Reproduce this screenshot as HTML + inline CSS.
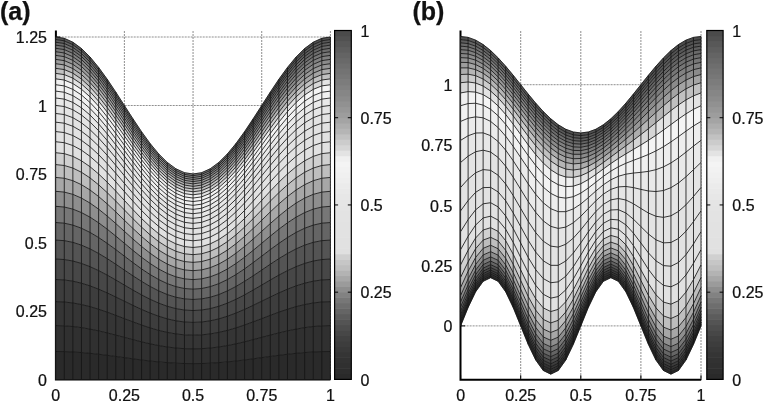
<!DOCTYPE html>
<html><head><meta charset="utf-8"><style>html,body{margin:0;padding:0;background:#fff;width:767px;height:403px;overflow:hidden}svg{display:block;will-change:transform}</style></head><body>
<svg width="767" height="403" viewBox="0 0 767 403">
<style>.g{stroke:#5e5e5e;stroke-width:0.7;stroke-dasharray:2 1;fill:none}.m{stroke:#151515;stroke-width:0.85;fill:none;stroke-linejoin:round}.ax{stroke:#000;stroke-width:2;fill:none}.tk{stroke:#000;stroke-width:1;fill:none}text{font-family:"Liberation Sans",sans-serif;font-size:16.5px;fill:#111;stroke:#111;stroke-width:0.25}.lbl{font-weight:bold;font-size:25px}</style>
<rect width="767" height="403" fill="#fff"/>
<path class="g" d="M124.38 31V379.5M193.05 31V379.5M261.72 31V379.5M330.4 31V379.5M55.7 311H330.2M55.7 242.5H330.2M55.7 174H330.2M55.7 105.5H330.2M55.7 37H330.2"/>
<path class="g" d="M520.7 31V379.7M580.8 31V379.7M640.9 31V379.7M701 31V379.7M460.6 325.9H701.2M460.6 265.6H701.2M460.6 205.3H701.2M460.6 145H701.2M460.6 84.7H701.2"/>
<path class="ax" d="M55.9 30.5V379.6H330.4"/>
<path class="ax" d="M460.5 30.5V379.8H701.2"/>
<path class="tk" d="M55.7 379.5h4.5M55.7 311h4.5M55.7 242.5h4.5M55.7 174h4.5M55.7 105.5h4.5M55.7 37h4.5M55.7 379.5v-4.5M124.38 379.5v-4.5M193.05 379.5v-4.5M261.72 379.5v-4.5M330.4 379.5v-4.5M460.6 325.9h4.5M460.6 265.6h4.5M460.6 205.3h4.5M460.6 145h4.5M460.6 84.7h4.5M460.6 379.7v-4.5M520.7 379.7v-4.5M580.8 379.7v-4.5M640.9 379.7v-4.5M701 379.7v-4.5"/>
<path d="M55.7 379.5L64.28 379.5L72.87 379.5L81.45 379.5L90.04 379.5L98.62 379.5L107.21 379.5L115.79 379.5L124.38 379.5L132.96 379.5L141.54 379.5L150.13 379.5L158.71 379.5L167.3 379.5L175.88 379.5L184.47 379.5L193.05 379.5L201.63 379.5L210.22 379.5L218.8 379.5L227.39 379.5L235.97 379.5L244.56 379.5L253.14 379.5L261.72 379.5L270.31 379.5L278.89 379.5L287.48 379.5L296.06 379.5L304.65 379.5L313.23 379.5L321.82 379.5L330.4 379.5L330.4 351.51L321.82 351.63L313.23 351.99L304.65 352.56L296.06 353.33L287.48 354.26L278.89 355.32L270.31 356.47L261.72 357.66L253.14 358.84L244.56 359.97L235.97 361.01L227.39 361.91L218.8 362.65L210.22 363.2L201.63 363.54L193.05 363.65L184.47 363.54L175.88 363.2L167.3 362.65L158.71 361.91L150.13 361.01L141.54 359.97L132.96 358.84L124.38 357.66L115.79 356.47L107.21 355.32L98.62 354.26L90.04 353.33L81.45 352.56L72.87 351.99L64.28 351.63L55.7 351.51Z" fill="#2a2a2a" stroke="#2a2a2a" stroke-width="0.4"/>
<path d="M55.7 351.51L64.28 351.63L72.87 351.99L81.45 352.56L90.04 353.33L98.62 354.26L107.21 355.32L115.79 356.47L124.38 357.66L132.96 358.84L141.54 359.97L150.13 361.01L158.71 361.91L167.3 362.65L175.88 363.2L184.47 363.54L193.05 363.65L201.63 363.54L210.22 363.2L218.8 362.65L227.39 361.91L235.97 361.01L244.56 359.97L253.14 358.84L261.72 357.66L270.31 356.47L278.89 355.32L287.48 354.26L296.06 353.33L304.65 352.56L313.23 351.99L321.82 351.63L330.4 351.51L330.4 325.63L321.82 325.85L313.23 326.53L304.65 327.63L296.06 329.1L287.48 330.89L278.89 332.93L270.31 335.13L261.72 337.4L253.14 339.67L244.56 341.84L235.97 343.83L227.39 345.57L218.8 346.99L210.22 348.04L201.63 348.68L193.05 348.9L184.47 348.68L175.88 348.04L167.3 346.99L158.71 345.57L150.13 343.83L141.54 341.84L132.96 339.67L124.38 337.4L115.79 335.13L107.21 332.93L98.62 330.89L90.04 329.1L81.45 327.63L72.87 326.53L64.28 325.85L55.7 325.63Z" fill="#303030" stroke="#303030" stroke-width="0.4"/>
<path d="M55.7 325.63L64.28 325.85L72.87 326.53L81.45 327.63L90.04 329.1L98.62 330.89L107.21 332.93L115.79 335.13L124.38 337.4L132.96 339.67L141.54 341.84L150.13 343.83L158.71 345.57L167.3 346.99L175.88 348.04L184.47 348.68L193.05 348.9L201.63 348.68L210.22 348.04L218.8 346.99L227.39 345.57L235.97 343.83L244.56 341.84L253.14 339.67L261.72 337.4L270.31 335.13L278.89 332.93L287.48 330.89L296.06 329.1L304.65 327.63L313.23 326.53L321.82 325.85L330.4 325.63L330.4 301.68L321.82 302.01L313.23 302.98L304.65 304.56L296.06 306.67L287.48 309.25L278.89 312.18L270.31 315.34L261.72 318.62L253.14 321.88L244.56 325.01L235.97 327.87L227.39 330.37L218.8 332.42L210.22 333.93L201.63 334.86L193.05 335.18L184.47 334.86L175.88 333.93L167.3 332.42L158.71 330.37L150.13 327.87L141.54 325.01L132.96 321.88L124.38 318.62L115.79 315.34L107.21 312.18L98.62 309.25L90.04 306.67L81.45 304.56L72.87 302.98L64.28 302.01L55.7 301.68Z" fill="#353535" stroke="#353535" stroke-width="0.4"/>
<path d="M55.7 301.68L64.28 302.01L72.87 302.98L81.45 304.56L90.04 306.67L98.62 309.25L107.21 312.18L115.79 315.34L124.38 318.62L132.96 321.88L141.54 325.01L150.13 327.87L158.71 330.37L167.3 332.42L175.88 333.93L184.47 334.86L193.05 335.18L201.63 334.86L210.22 333.93L218.8 332.42L227.39 330.37L235.97 327.87L244.56 325.01L253.14 321.88L261.72 318.62L270.31 315.34L278.89 312.18L287.48 309.25L296.06 306.67L304.65 304.56L313.23 302.98L321.82 302.01L330.4 301.68L330.4 279.53L321.82 279.95L313.23 281.19L304.65 283.21L296.06 285.91L287.48 289.21L278.89 292.95L270.31 297L261.72 301.2L253.14 305.37L244.56 309.37L235.97 313.04L227.39 316.25L218.8 318.87L210.22 320.81L201.63 322L193.05 322.4L184.47 322L175.88 320.81L167.3 318.87L158.71 316.25L150.13 313.04L141.54 309.37L132.96 305.37L124.38 301.2L115.79 297L107.21 292.95L98.62 289.21L90.04 285.91L81.45 283.21L72.87 281.19L64.28 279.95L55.7 279.53Z" fill="#3d3d3d" stroke="#3d3d3d" stroke-width="0.4"/>
<path d="M55.7 279.53L64.28 279.95L72.87 281.19L81.45 283.21L90.04 285.91L98.62 289.21L107.21 292.95L115.79 297L124.38 301.2L132.96 305.37L141.54 309.37L150.13 313.04L158.71 316.25L167.3 318.87L175.88 320.81L184.47 322L193.05 322.4L201.63 322L210.22 320.81L218.8 318.87L227.39 316.25L235.97 313.04L244.56 309.37L253.14 305.37L261.72 301.2L270.31 297L278.89 292.95L287.48 289.21L296.06 285.91L304.65 283.21L313.23 281.19L321.82 279.95L330.4 279.53L330.4 259.03L321.82 259.54L313.23 261.03L304.65 263.45L296.06 266.7L287.48 270.65L278.89 275.14L270.31 280L261.72 285.04L253.14 290.05L244.56 294.86L235.97 299.27L227.39 303.12L218.8 306.27L210.22 308.6L201.63 310.03L193.05 310.52L184.47 310.03L175.88 308.6L167.3 306.27L158.71 303.12L150.13 299.27L141.54 294.86L132.96 290.05L124.38 285.04L115.79 280L107.21 275.14L98.62 270.65L90.04 266.7L81.45 263.45L72.87 261.03L64.28 259.54L55.7 259.03Z" fill="#474747" stroke="#474747" stroke-width="0.4"/>
<path d="M55.7 259.03L64.28 259.54L72.87 261.03L81.45 263.45L90.04 266.7L98.62 270.65L107.21 275.14L115.79 280L124.38 285.04L132.96 290.05L141.54 294.86L150.13 299.27L158.71 303.12L167.3 306.27L175.88 308.6L184.47 310.03L193.05 310.52L201.63 310.03L210.22 308.6L218.8 306.27L227.39 303.12L235.97 299.27L244.56 294.86L253.14 290.05L261.72 285.04L270.31 280L278.89 275.14L287.48 270.65L296.06 266.7L304.65 263.45L313.23 261.03L321.82 259.54L330.4 259.03L330.4 240.08L321.82 240.66L313.23 242.38L304.65 245.16L296.06 248.91L287.48 253.46L278.89 258.64L270.31 264.24L261.72 270.05L253.14 275.84L244.56 281.38L235.97 286.47L227.39 290.91L218.8 294.55L210.22 297.24L201.63 298.9L193.05 299.46L184.47 298.9L175.88 297.24L167.3 294.55L158.71 290.91L150.13 286.47L141.54 281.38L132.96 275.84L124.38 270.05L115.79 264.24L107.21 258.64L98.62 253.46L90.04 248.91L81.45 245.16L72.87 242.38L64.28 240.66L55.7 240.08Z" fill="#545454" stroke="#545454" stroke-width="0.4"/>
<path d="M55.7 240.08L64.28 240.66L72.87 242.38L81.45 245.16L90.04 248.91L98.62 253.46L107.21 258.64L115.79 264.24L124.38 270.05L132.96 275.84L141.54 281.38L150.13 286.47L158.71 290.91L167.3 294.55L175.88 297.24L184.47 298.9L193.05 299.46L201.63 298.9L210.22 297.24L218.8 294.55L227.39 290.91L235.97 286.47L244.56 281.38L253.14 275.84L261.72 270.05L270.31 264.24L278.89 258.64L287.48 253.46L296.06 248.91L304.65 245.16L313.23 242.38L321.82 240.66L330.4 240.08L330.4 222.54L321.82 223.19L313.23 225.12L304.65 228.24L296.06 232.44L287.48 237.54L278.89 243.35L270.31 249.64L261.72 256.15L253.14 262.64L244.56 268.86L235.97 274.57L227.39 279.56L218.8 283.65L210.22 286.67L201.63 288.53L193.05 289.16L184.47 288.53L175.88 286.67L167.3 283.65L158.71 279.56L150.13 274.57L141.54 268.86L132.96 262.64L124.38 256.15L115.79 249.64L107.21 243.35L98.62 237.54L90.04 232.44L81.45 228.24L72.87 225.12L64.28 223.19L55.7 222.54Z" fill="#656565" stroke="#656565" stroke-width="0.4"/>
<path d="M55.7 222.54L64.28 223.19L72.87 225.12L81.45 228.24L90.04 232.44L98.62 237.54L107.21 243.35L115.79 249.64L124.38 256.15L132.96 262.64L141.54 268.86L150.13 274.57L158.71 279.56L167.3 283.65L175.88 286.67L184.47 288.53L193.05 289.16L201.63 288.53L210.22 286.67L218.8 283.65L227.39 279.56L235.97 274.57L244.56 268.86L253.14 262.64L261.72 256.15L270.31 249.64L278.89 243.35L287.48 237.54L296.06 232.44L304.65 228.24L313.23 225.12L321.82 223.19L330.4 222.54L330.4 206.32L321.82 207.04L313.23 209.15L304.65 212.58L296.06 217.2L287.48 222.8L278.89 229.19L270.31 236.1L261.72 243.26L253.14 250.4L244.56 257.24L235.97 263.53L227.39 269.02L218.8 273.51L210.22 276.84L201.63 278.89L193.05 279.58L184.47 278.89L175.88 276.84L167.3 273.51L158.71 269.02L150.13 263.53L141.54 257.24L132.96 250.4L124.38 243.26L115.79 236.1L107.21 229.19L98.62 222.8L90.04 217.2L81.45 212.58L72.87 209.15L64.28 207.04L55.7 206.32Z" fill="#777777" stroke="#777777" stroke-width="0.4"/>
<path d="M55.7 206.32L64.28 207.04L72.87 209.15L81.45 212.58L90.04 217.2L98.62 222.8L107.21 229.19L115.79 236.1L124.38 243.26L132.96 250.4L141.54 257.24L150.13 263.53L158.71 269.02L167.3 273.51L175.88 276.84L184.47 278.89L193.05 279.58L201.63 278.89L210.22 276.84L218.8 273.51L227.39 269.02L235.97 263.53L244.56 257.24L253.14 250.4L261.72 243.26L270.31 236.1L278.89 229.19L287.48 222.8L296.06 217.2L304.65 212.58L313.23 209.15L321.82 207.04L330.4 206.32L330.4 191.32L321.82 192.09L313.23 194.38L304.65 198.09L296.06 203.08L287.48 209.16L278.89 216.07L270.31 223.55L261.72 231.3L253.14 239.04L244.56 246.45L235.97 253.26L227.39 259.21L218.8 264.09L210.22 267.7L201.63 269.92L193.05 270.67L184.47 269.92L175.88 267.7L167.3 264.09L158.71 259.21L150.13 253.26L141.54 246.45L132.96 239.04L124.38 231.3L115.79 223.55L107.21 216.07L98.62 209.16L90.04 203.08L81.45 198.09L72.87 194.38L64.28 192.09L55.7 191.32Z" fill="#8e8e8e" stroke="#8e8e8e" stroke-width="0.4"/>
<path d="M55.7 191.32L64.28 192.09L72.87 194.38L81.45 198.09L90.04 203.08L98.62 209.16L107.21 216.07L115.79 223.55L124.38 231.3L132.96 239.04L141.54 246.45L150.13 253.26L158.71 259.21L167.3 264.09L175.88 267.7L184.47 269.92L193.05 270.67L201.63 269.92L210.22 267.7L218.8 264.09L227.39 259.21L235.97 253.26L244.56 246.45L253.14 239.04L261.72 231.3L270.31 223.55L278.89 216.07L287.48 209.16L296.06 203.08L304.65 198.09L313.23 194.38L321.82 192.09L330.4 191.32L330.4 177.44L321.82 178.26L313.23 180.71L304.65 184.68L296.06 190.02L287.48 196.52L278.89 203.91L270.31 211.91L261.72 220.22L253.14 228.49L244.56 236.43L235.97 243.72L227.39 250.1L218.8 255.32L210.22 259.19L201.63 261.57L193.05 262.37L184.47 261.57L175.88 259.19L167.3 255.32L158.71 250.1L150.13 243.72L141.54 236.43L132.96 228.49L124.38 220.22L115.79 211.91L107.21 203.91L98.62 196.52L90.04 190.02L81.45 184.68L72.87 180.71L64.28 178.26L55.7 177.44Z" fill="#a7a7a7" stroke="#a7a7a7" stroke-width="0.4"/>
<path d="M55.7 177.44L64.28 178.26L72.87 180.71L81.45 184.68L90.04 190.02L98.62 196.52L107.21 203.91L115.79 211.91L124.38 220.22L132.96 228.49L141.54 236.43L150.13 243.72L158.71 250.1L167.3 255.32L175.88 259.19L184.47 261.57L193.05 262.37L201.63 261.57L210.22 259.19L218.8 255.32L227.39 250.1L235.97 243.72L244.56 236.43L253.14 228.49L261.72 220.22L270.31 211.91L278.89 203.91L287.48 196.52L296.06 190.02L304.65 184.68L313.23 180.71L321.82 178.26L330.4 177.44L330.4 164.6L321.82 165.47L313.23 168.07L304.65 172.27L296.06 177.93L287.48 184.81L278.89 192.65L270.31 201.13L261.72 209.93L253.14 218.71L244.56 227.13L235.97 234.86L227.39 241.63L218.8 247.17L210.22 251.27L201.63 253.8L193.05 254.65L184.47 253.8L175.88 251.27L167.3 247.17L158.71 241.63L150.13 234.86L141.54 227.13L132.96 218.71L124.38 209.93L115.79 201.13L107.21 192.65L98.62 184.81L90.04 177.93L81.45 172.27L72.87 168.07L64.28 165.47L55.7 164.6Z" fill="#bebebe" stroke="#bebebe" stroke-width="0.4"/>
<path d="M55.7 164.6L64.28 165.47L72.87 168.07L81.45 172.27L90.04 177.93L98.62 184.81L107.21 192.65L115.79 201.13L124.38 209.93L132.96 218.71L141.54 227.13L150.13 234.86L158.71 241.63L167.3 247.17L175.88 251.27L184.47 253.8L193.05 254.65L201.63 253.8L210.22 251.27L218.8 247.17L227.39 241.63L235.97 234.86L244.56 227.13L253.14 218.71L261.72 209.93L270.31 201.13L278.89 192.65L287.48 184.81L296.06 177.93L304.65 172.27L313.23 168.07L321.82 165.47L330.4 164.6L330.4 152.72L321.82 153.64L313.23 156.37L304.65 160.79L296.06 166.74L287.48 173.97L278.89 182.21L270.31 191.13L261.72 200.39L253.14 209.63L244.56 218.49L235.97 226.63L227.39 233.75L218.8 239.59L210.22 243.91L201.63 246.57L193.05 247.47L184.47 246.57L175.88 243.91L167.3 239.59L158.71 233.75L150.13 226.63L141.54 218.49L132.96 209.63L124.38 200.39L115.79 191.13L107.21 182.21L98.62 173.97L90.04 166.74L81.45 160.79L72.87 156.37L64.28 153.64L55.7 152.72Z" fill="#d0d0d0" stroke="#d0d0d0" stroke-width="0.4"/>
<path d="M55.7 152.72L64.28 153.64L72.87 156.37L81.45 160.79L90.04 166.74L98.62 173.97L107.21 182.21L115.79 191.13L124.38 200.39L132.96 209.63L141.54 218.49L150.13 226.63L158.71 233.75L167.3 239.59L175.88 243.91L184.47 246.57L193.05 247.47L201.63 246.57L210.22 243.91L218.8 239.59L227.39 233.75L235.97 226.63L244.56 218.49L253.14 209.63L261.72 200.39L270.31 191.13L278.89 182.21L287.48 173.97L296.06 166.74L304.65 160.79L313.23 156.37L321.82 153.64L330.4 152.72L330.4 141.73L321.82 142.7L313.23 145.54L304.65 150.16L296.06 156.38L287.48 163.93L278.89 172.54L270.31 181.87L261.72 191.55L253.14 201.2L244.56 210.47L235.97 218.98L227.39 226.43L218.8 232.53L210.22 237.06L201.63 239.84L193.05 240.78L184.47 239.84L175.88 237.06L167.3 232.53L158.71 226.43L150.13 218.98L141.54 210.47L132.96 201.2L124.38 191.55L115.79 181.87L107.21 172.54L98.62 163.93L90.04 156.38L81.45 150.16L72.87 145.54L64.28 142.7L55.7 141.73Z" fill="#e1e1e1" stroke="#e1e1e1" stroke-width="0.4"/>
<path d="M55.7 141.73L64.28 142.7L64.28 132.57L55.7 131.57Z" fill="#e2e2e2" stroke="#e2e2e2" stroke-width="0.4"/>
<path d="M64.28 142.7L72.87 145.54L81.45 150.16L90.04 156.38L98.62 163.93L107.21 172.54L115.79 181.87L124.38 191.55L132.96 201.2L141.54 210.47L150.13 218.98L158.71 226.43L167.3 232.53L175.88 237.06L184.47 239.84L193.05 240.78L201.63 239.84L210.22 237.06L218.8 232.53L227.39 226.43L235.97 218.98L244.56 210.47L244.56 203.02L235.97 211.88L227.39 219.63L218.8 225.98L210.22 230.69L201.63 233.58L193.05 234.56L184.47 233.58L175.88 230.69L167.3 225.98L158.71 219.63L150.13 211.88L141.54 203.02L132.96 193.38L124.38 183.34L115.79 173.28L107.21 163.59L98.62 154.64L90.04 146.78L81.45 140.33L72.87 135.53L64.28 132.57Z" fill="#e1e1e1" stroke="#e1e1e1" stroke-width="0.4"/>
<path d="M244.56 210.47L253.14 201.2L261.72 191.55L270.31 181.87L278.89 172.54L287.48 163.93L296.06 156.38L304.65 150.16L313.23 145.54L321.82 142.7L330.4 141.73L330.4 131.57L321.82 132.57L313.23 135.53L304.65 140.33L296.06 146.78L287.48 154.64L278.89 163.59L270.31 173.28L261.72 183.34L253.14 193.38L244.56 203.02Z" fill="#e2e2e2" stroke="#e2e2e2" stroke-width="0.4"/>
<path d="M55.7 131.57L64.28 132.57L64.28 123.2L55.7 122.17Z" fill="#e2e2e2" stroke="#e2e2e2" stroke-width="0.4"/>
<path d="M64.28 132.57L72.87 135.53L81.45 140.33L90.04 146.78L98.62 154.64L107.21 163.59L115.79 173.28L124.38 183.34L132.96 193.38L141.54 203.02L150.13 211.88L158.71 219.63L167.3 225.98L175.88 230.69L184.47 233.58L193.05 234.56L201.63 233.58L210.22 230.69L218.8 225.98L227.39 219.63L235.97 211.88L244.56 203.02L244.56 196.1L235.97 205.28L227.39 213.3L218.8 219.88L210.22 224.76L201.63 227.76L193.05 228.77L184.47 227.76L175.88 224.76L167.3 219.88L158.71 213.3L150.13 205.28L141.54 196.1L132.96 186.13L124.38 175.73L115.79 165.32L107.21 155.29L98.62 146.03L90.04 137.9L81.45 131.23L72.87 126.26L64.28 123.2Z" fill="#e2e2e2" stroke="#e2e2e2" stroke-width="0.4"/>
<path d="M244.56 203.02L253.14 193.38L261.72 183.34L270.31 173.28L278.89 163.59L287.48 154.64L296.06 146.78L304.65 140.33L313.23 135.53L321.82 132.57L330.4 131.57L330.4 122.17L321.82 123.2L313.23 126.26L304.65 131.23L296.06 137.9L287.48 146.03L278.89 155.29L270.31 165.32L261.72 175.73L253.14 186.13L244.56 196.1Z" fill="#e2e2e2" stroke="#e2e2e2" stroke-width="0.4"/>
<path d="M55.7 122.17L64.28 123.2L64.28 114.54L55.7 113.47Z" fill="#e3e3e3" stroke="#e3e3e3" stroke-width="0.4"/>
<path d="M64.28 123.2L72.87 126.26L81.45 131.23L90.04 137.9L98.62 146.03L107.21 155.29L115.79 165.32L124.38 175.73L132.96 186.13L141.54 196.1L150.13 205.28L158.71 213.3L167.3 219.88L175.88 224.76L184.47 227.76L193.05 228.77L201.63 227.76L210.22 224.76L218.8 219.88L227.39 213.3L235.97 205.28L244.56 196.1L244.56 189.68L235.97 199.14L227.39 207.42L218.8 214.21L210.22 219.24L201.63 222.34L193.05 223.39L184.47 222.34L175.88 219.24L167.3 214.21L158.71 207.42L150.13 199.14L141.54 189.68L132.96 179.39L124.38 168.68L115.79 157.94L107.21 147.6L98.62 138.06L90.04 129.69L81.45 122.81L72.87 117.69L64.28 114.54Z" fill="#e3e3e3" stroke="#e3e3e3" stroke-width="0.4"/>
<path d="M244.56 196.1L253.14 186.13L261.72 175.73L270.31 165.32L278.89 155.29L287.48 146.03L296.06 137.9L304.65 131.23L313.23 126.26L321.82 123.2L330.4 122.17L330.4 113.47L321.82 114.54L313.23 117.69L304.65 122.81L296.06 129.69L287.48 138.06L278.89 147.6L270.31 157.94L261.72 168.68L253.14 179.39L244.56 189.68Z" fill="#e3e3e3" stroke="#e3e3e3" stroke-width="0.4"/>
<path d="M55.7 113.47L64.28 114.54L64.28 106.52L55.7 105.43Z" fill="#e5e5e5" stroke="#e5e5e5" stroke-width="0.4"/>
<path d="M64.28 114.54L72.87 117.69L81.45 122.81L90.04 129.69L98.62 138.06L107.21 147.6L115.79 157.94L124.38 168.68L132.96 179.39L141.54 189.68L150.13 199.14L158.71 207.42L167.3 214.21L175.88 219.24L184.47 222.34L193.05 223.39L201.63 222.34L210.22 219.24L218.8 214.21L227.39 207.42L235.97 199.14L244.56 189.68L244.56 183.72L235.97 193.44L227.39 201.96L218.8 208.93L210.22 214.11L201.63 217.3L193.05 218.37L184.47 217.3L175.88 214.11L167.3 208.93L158.71 201.96L150.13 193.44L141.54 183.72L132.96 173.15L124.38 162.13L115.79 151.1L107.21 140.48L98.62 130.68L90.04 122.08L81.45 115.01L72.87 109.76L64.28 106.52Z" fill="#e4e4e4" stroke="#e4e4e4" stroke-width="0.4"/>
<path d="M244.56 189.68L253.14 179.39L261.72 168.68L270.31 157.94L278.89 147.6L287.48 138.06L296.06 129.69L304.65 122.81L313.23 117.69L321.82 114.54L330.4 113.47L330.4 105.43L321.82 106.52L313.23 109.76L304.65 115.01L296.06 122.08L287.48 130.68L278.89 140.48L270.31 151.1L261.72 162.13L253.14 173.15L244.56 183.72Z" fill="#e5e5e5" stroke="#e5e5e5" stroke-width="0.4"/>
<path d="M55.7 105.43L64.28 106.52L64.28 99.11L55.7 97.99Z" fill="#e9e9e9" stroke="#e9e9e9" stroke-width="0.4"/>
<path d="M64.28 106.52L72.87 109.76L81.45 115.01L90.04 122.08L98.62 130.68L107.21 140.48L115.79 151.1L124.38 162.13L132.96 173.15L141.54 183.72L150.13 193.44L150.13 188.15L141.54 178.18L132.96 167.35L124.38 156.06L115.79 144.76L107.21 133.88L98.62 123.84L90.04 115.03L81.45 107.8L72.87 102.42L64.28 99.11Z" fill="#e7e7e7" stroke="#e7e7e7" stroke-width="0.4"/>
<path d="M150.13 193.44L158.71 201.96L167.3 208.93L175.88 214.11L184.47 217.3L193.05 218.37L193.05 213.71L184.47 212.6L175.88 209.34L167.3 204.03L158.71 196.88L150.13 188.15Z" fill="#e5e5e5" stroke="#e5e5e5" stroke-width="0.4"/>
<path d="M193.05 218.37L201.63 217.3L210.22 214.11L218.8 208.93L227.39 201.96L235.97 193.44L244.56 183.72L244.56 178.18L235.97 188.15L227.39 196.88L218.8 204.03L210.22 209.34L201.63 212.6L193.05 213.71Z" fill="#e7e7e7" stroke="#e7e7e7" stroke-width="0.4"/>
<path d="M244.56 183.72L253.14 173.15L261.72 162.13L270.31 151.1L278.89 140.48L287.48 130.68L296.06 122.08L304.65 115.01L313.23 109.76L321.82 106.52L330.4 105.43L330.4 97.99L321.82 99.11L313.23 102.42L304.65 107.8L296.06 115.03L287.48 123.84L278.89 133.88L270.31 144.76L261.72 156.06L253.14 167.35L244.56 178.18Z" fill="#e9e9e9" stroke="#e9e9e9" stroke-width="0.4"/>
<path d="M55.7 97.99L64.28 99.11L64.28 92.25L55.7 91.1Z" fill="#eeeeee" stroke="#eeeeee" stroke-width="0.4"/>
<path d="M64.28 99.11L72.87 102.42L81.45 107.8L90.04 115.03L98.62 123.84L107.21 133.88L115.79 144.76L124.38 156.06L124.38 150.43L115.79 138.89L107.21 127.77L98.62 117.51L90.04 108.51L81.45 101.12L72.87 95.63L64.28 92.25Z" fill="#ebebeb" stroke="#ebebeb" stroke-width="0.4"/>
<path d="M124.38 156.06L132.96 167.35L141.54 178.18L150.13 188.15L158.71 196.88L167.3 204.03L175.88 209.34L184.47 212.6L193.05 213.71L201.63 212.6L210.22 209.34L210.22 204.89L201.63 208.24L193.05 209.36L184.47 208.24L175.88 204.89L167.3 199.47L158.71 192.15L150.13 183.23L141.54 173.04L132.96 161.97L124.38 150.43Z" fill="#e9e9e9" stroke="#e9e9e9" stroke-width="0.4"/>
<path d="M210.22 209.34L218.8 204.03L227.39 196.88L235.97 188.15L244.56 178.18L244.56 173.04L235.97 183.23L227.39 192.15L218.8 199.47L210.22 204.89Z" fill="#ebebeb" stroke="#ebebeb" stroke-width="0.4"/>
<path d="M244.56 178.18L253.14 167.35L261.72 156.06L270.31 144.76L278.89 133.88L287.48 123.84L287.48 117.51L278.89 127.77L270.31 138.89L261.72 150.43L253.14 161.97L244.56 173.04Z" fill="#eeeeee" stroke="#eeeeee" stroke-width="0.4"/>
<path d="M287.48 123.84L296.06 115.03L304.65 107.8L313.23 102.42L321.82 99.11L330.4 97.99L330.4 91.1L321.82 92.25L313.23 95.63L304.65 101.12L296.06 108.51L287.48 117.51Z" fill="#f0f0f0" stroke="#f0f0f0" stroke-width="0.4"/>
<path d="M55.7 91.1L64.28 92.25L64.28 85.9L55.7 84.73Z" fill="#f2f2f2" stroke="#f2f2f2" stroke-width="0.4"/>
<path d="M64.28 92.25L72.87 95.63L81.45 101.12L90.04 108.51L98.62 117.51L107.21 127.77L115.79 138.89L115.79 133.44L107.21 122.11L98.62 111.65L90.04 102.48L81.45 94.95L72.87 89.35L64.28 85.9Z" fill="#f0f0f0" stroke="#f0f0f0" stroke-width="0.4"/>
<path d="M115.79 138.89L124.38 150.43L132.96 161.97L141.54 173.04L150.13 183.23L158.71 192.15L167.3 199.47L167.3 195.22L158.71 187.76L150.13 178.66L141.54 168.26L132.96 156.97L124.38 145.21L115.79 133.44Z" fill="#eeeeee" stroke="#eeeeee" stroke-width="0.4"/>
<path d="M167.3 199.47L175.88 204.89L184.47 208.24L184.47 204.17L175.88 200.76L167.3 195.22Z" fill="#ebebeb" stroke="#ebebeb" stroke-width="0.4"/>
<path d="M184.47 208.24L193.05 209.36L201.63 208.24L210.22 204.89L218.8 199.47L218.8 195.22L210.22 200.76L201.63 204.17L193.05 205.32L184.47 204.17Z" fill="#eeeeee" stroke="#eeeeee" stroke-width="0.4"/>
<path d="M218.8 199.47L227.39 192.15L235.97 183.23L244.56 173.04L244.56 168.26L235.97 178.66L227.39 187.76L218.8 195.22Z" fill="#f0f0f0" stroke="#f0f0f0" stroke-width="0.4"/>
<path d="M244.56 173.04L253.14 161.97L261.72 150.43L270.31 138.89L270.31 133.44L261.72 145.21L253.14 156.97L244.56 168.26Z" fill="#f2f2f2" stroke="#f2f2f2" stroke-width="0.4"/>
<path d="M270.31 138.89L278.89 127.77L287.48 117.51L296.06 108.51L304.65 101.12L313.23 95.63L321.82 92.25L330.4 91.1L330.4 84.73L321.82 85.9L313.23 89.35L304.65 94.95L296.06 102.48L287.48 111.65L278.89 122.11L270.31 133.44Z" fill="#f4f4f4" stroke="#f4f4f4" stroke-width="0.4"/>
<path d="M55.7 84.73L64.28 85.9L64.28 80.03L55.7 78.84Z" fill="#f0f0f0" stroke="#f0f0f0" stroke-width="0.4"/>
<path d="M64.28 85.9L72.87 89.35L81.45 94.95L90.04 102.48L98.62 111.65L98.62 106.22L90.04 96.89L81.45 89.23L72.87 83.54L64.28 80.03Z" fill="#f4f4f4" stroke="#f4f4f4" stroke-width="0.4"/>
<path d="M98.62 111.65L107.21 122.11L115.79 133.44L124.38 145.21L132.96 156.97L132.96 152.34L124.38 140.37L115.79 128.39L107.21 116.86L98.62 106.22Z" fill="#f2f2f2" stroke="#f2f2f2" stroke-width="0.4"/>
<path d="M132.96 156.97L141.54 168.26L150.13 178.66L158.71 187.76L167.3 195.22L175.88 200.76L184.47 204.17L193.05 205.32L201.63 204.17L210.22 200.76L210.22 196.92L201.63 200.39L193.05 201.56L184.47 200.39L175.88 196.92L167.3 191.28L158.71 183.68L150.13 174.41L141.54 163.83L132.96 152.34Z" fill="#f0f0f0" stroke="#f0f0f0" stroke-width="0.4"/>
<path d="M210.22 200.76L218.8 195.22L227.39 187.76L227.39 183.68L218.8 191.28L210.22 196.92Z" fill="#f2f2f2" stroke="#f2f2f2" stroke-width="0.4"/>
<path d="M227.39 187.76L235.97 178.66L244.56 168.26L244.56 163.83L235.97 174.41L227.39 183.68Z" fill="#f4f4f4" stroke="#f4f4f4" stroke-width="0.4"/>
<path d="M244.56 168.26L253.14 156.97L261.72 145.21L270.31 133.44L270.31 128.39L261.72 140.37L253.14 152.34L244.56 163.83Z" fill="#f0f0f0" stroke="#f0f0f0" stroke-width="0.4"/>
<path d="M270.31 133.44L278.89 122.11L287.48 111.65L296.06 102.48L296.06 96.89L287.48 106.22L278.89 116.86L270.31 128.39Z" fill="#e3e3e3" stroke="#e3e3e3" stroke-width="0.4"/>
<path d="M296.06 102.48L304.65 94.95L313.23 89.35L321.82 85.9L321.82 80.03L313.23 83.54L304.65 89.23L296.06 96.89Z" fill="#d6d6d6" stroke="#d6d6d6" stroke-width="0.4"/>
<path d="M321.82 85.9L330.4 84.73L330.4 78.84L321.82 80.03Z" fill="#e3e3e3" stroke="#e3e3e3" stroke-width="0.4"/>
<path d="M55.7 78.84L64.28 80.03L64.28 74.6L55.7 73.39Z" fill="#d6d6d6" stroke="#d6d6d6" stroke-width="0.4"/>
<path d="M64.28 80.03L72.87 83.54L81.45 89.23L90.04 96.89L98.62 106.22L98.62 101.2L90.04 91.72L81.45 83.94L72.87 78.16L64.28 74.6Z" fill="#e3e3e3" stroke="#e3e3e3" stroke-width="0.4"/>
<path d="M98.62 106.22L107.21 116.86L115.79 128.39L124.38 140.37L124.38 135.88L115.79 123.71L107.21 112L98.62 101.2Z" fill="#f0f0f0" stroke="#f0f0f0" stroke-width="0.4"/>
<path d="M124.38 140.37L132.96 152.34L141.54 163.83L150.13 174.41L158.71 183.68L158.71 179.89L150.13 170.47L141.54 159.72L132.96 148.04L124.38 135.88Z" fill="#f4f4f4" stroke="#f4f4f4" stroke-width="0.4"/>
<path d="M158.71 183.68L167.3 191.28L175.88 196.92L184.47 200.39L184.47 196.87L175.88 193.34L167.3 187.61L158.71 179.89Z" fill="#f2f2f2" stroke="#f2f2f2" stroke-width="0.4"/>
<path d="M184.47 200.39L193.05 201.56L201.63 200.39L210.22 196.92L218.8 191.28L218.8 187.61L210.22 193.34L201.63 196.87L193.05 198.06L184.47 196.87Z" fill="#f4f4f4" stroke="#f4f4f4" stroke-width="0.4"/>
<path d="M218.8 191.28L227.39 183.68L235.97 174.41L235.97 170.47L227.39 179.89L218.8 187.61Z" fill="#f0f0f0" stroke="#f0f0f0" stroke-width="0.4"/>
<path d="M235.97 174.41L244.56 163.83L244.56 159.72L235.97 170.47Z" fill="#e3e3e3" stroke="#e3e3e3" stroke-width="0.4"/>
<path d="M244.56 163.83L253.14 152.34L261.72 140.37L261.72 135.88L253.14 148.04L244.56 159.72Z" fill="#d6d6d6" stroke="#d6d6d6" stroke-width="0.4"/>
<path d="M261.72 140.37L270.31 128.39L278.89 116.86L278.89 112L270.31 123.71L261.72 135.88Z" fill="#cccccc" stroke="#cccccc" stroke-width="0.4"/>
<path d="M278.89 116.86L287.48 106.22L296.06 96.89L304.65 89.23L313.23 83.54L321.82 80.03L330.4 78.84L330.4 73.39L321.82 74.6L313.23 78.16L304.65 83.94L296.06 91.72L287.48 101.2L278.89 112Z" fill="#c1c1c1" stroke="#c1c1c1" stroke-width="0.4"/>
<path d="M55.7 73.39L64.28 74.6L64.28 69.57L55.7 68.35Z" fill="#c1c1c1" stroke="#c1c1c1" stroke-width="0.4"/>
<path d="M64.28 74.6L72.87 78.16L81.45 83.94L90.04 91.72L90.04 86.93L81.45 79.05L72.87 73.18L64.28 69.57Z" fill="#cccccc" stroke="#cccccc" stroke-width="0.4"/>
<path d="M90.04 91.72L98.62 101.2L107.21 112L115.79 123.71L115.79 119.37L107.21 107.49L98.62 96.54L90.04 86.93Z" fill="#d6d6d6" stroke="#d6d6d6" stroke-width="0.4"/>
<path d="M115.79 123.71L124.38 135.88L132.96 148.04L141.54 159.72L141.54 155.89L132.96 144.05L124.38 131.71L115.79 119.37Z" fill="#e3e3e3" stroke="#e3e3e3" stroke-width="0.4"/>
<path d="M141.54 159.72L150.13 170.47L158.71 179.89L167.3 187.61L175.88 193.34L184.47 196.87L193.05 198.06L201.63 196.87L201.63 193.6L193.05 194.81L184.47 193.6L175.88 190.02L167.3 184.2L158.71 176.36L150.13 166.8L141.54 155.89Z" fill="#f0f0f0" stroke="#f0f0f0" stroke-width="0.4"/>
<path d="M201.63 196.87L210.22 193.34L218.8 187.61L218.8 184.2L210.22 190.02L201.63 193.6Z" fill="#e3e3e3" stroke="#e3e3e3" stroke-width="0.4"/>
<path d="M218.8 187.61L227.39 179.89L235.97 170.47L235.97 166.8L227.39 176.36L218.8 184.2Z" fill="#d6d6d6" stroke="#d6d6d6" stroke-width="0.4"/>
<path d="M235.97 170.47L244.56 159.72L244.56 155.89L235.97 166.8Z" fill="#cccccc" stroke="#cccccc" stroke-width="0.4"/>
<path d="M244.56 159.72L253.14 148.04L261.72 135.88L261.72 131.71L253.14 144.05L244.56 155.89Z" fill="#c1c1c1" stroke="#c1c1c1" stroke-width="0.4"/>
<path d="M261.72 135.88L270.31 123.71L278.89 112L278.89 107.49L270.31 119.37L261.72 131.71Z" fill="#b5b5b5" stroke="#b5b5b5" stroke-width="0.4"/>
<path d="M278.89 112L287.48 101.2L296.06 91.72L304.65 83.94L304.65 79.05L296.06 86.93L287.48 96.54L278.89 107.49Z" fill="#adadad" stroke="#adadad" stroke-width="0.4"/>
<path d="M304.65 83.94L313.23 78.16L321.82 74.6L321.82 69.57L313.23 73.18L304.65 79.05Z" fill="#a4a4a4" stroke="#a4a4a4" stroke-width="0.4"/>
<path d="M321.82 74.6L330.4 73.39L330.4 68.35L321.82 69.57Z" fill="#adadad" stroke="#adadad" stroke-width="0.4"/>
<path d="M55.7 68.35L64.28 69.57L64.28 64.93L55.7 63.69Z" fill="#adadad" stroke="#adadad" stroke-width="0.4"/>
<path d="M64.28 69.57L72.87 73.18L81.45 79.05L90.04 86.93L90.04 82.5L81.45 74.52L72.87 68.58L64.28 64.93Z" fill="#b5b5b5" stroke="#b5b5b5" stroke-width="0.4"/>
<path d="M90.04 86.93L98.62 96.54L107.21 107.49L107.21 103.32L98.62 92.23L90.04 82.5Z" fill="#c1c1c1" stroke="#c1c1c1" stroke-width="0.4"/>
<path d="M107.21 107.49L115.79 119.37L124.38 131.71L124.38 127.85L115.79 115.35L107.21 103.32Z" fill="#cccccc" stroke="#cccccc" stroke-width="0.4"/>
<path d="M124.38 131.71L132.96 144.05L141.54 155.89L150.13 166.8L150.13 163.4L141.54 152.35L132.96 140.34L124.38 127.85Z" fill="#d6d6d6" stroke="#d6d6d6" stroke-width="0.4"/>
<path d="M150.13 166.8L158.71 176.36L167.3 184.2L175.88 190.02L184.47 193.6L193.05 194.81L193.05 191.78L184.47 190.55L175.88 186.92L167.3 181.02L158.71 173.08L150.13 163.4Z" fill="#e3e3e3" stroke="#e3e3e3" stroke-width="0.4"/>
<path d="M193.05 194.81L201.63 193.6L210.22 190.02L210.22 186.92L201.63 190.55L193.05 191.78Z" fill="#d6d6d6" stroke="#d6d6d6" stroke-width="0.4"/>
<path d="M210.22 190.02L218.8 184.2L227.39 176.36L227.39 173.08L218.8 181.02L210.22 186.92Z" fill="#cccccc" stroke="#cccccc" stroke-width="0.4"/>
<path d="M227.39 176.36L235.97 166.8L235.97 163.4L227.39 173.08Z" fill="#c1c1c1" stroke="#c1c1c1" stroke-width="0.4"/>
<path d="M235.97 166.8L244.56 155.89L244.56 152.35L235.97 163.4Z" fill="#b5b5b5" stroke="#b5b5b5" stroke-width="0.4"/>
<path d="M244.56 155.89L253.14 144.05L261.72 131.71L261.72 127.85L253.14 140.34L244.56 152.35Z" fill="#adadad" stroke="#adadad" stroke-width="0.4"/>
<path d="M261.72 131.71L270.31 119.37L270.31 115.35L261.72 127.85Z" fill="#a4a4a4" stroke="#a4a4a4" stroke-width="0.4"/>
<path d="M270.31 119.37L278.89 107.49L287.48 96.54L287.48 92.23L278.89 103.32L270.31 115.35Z" fill="#9d9d9d" stroke="#9d9d9d" stroke-width="0.4"/>
<path d="M287.48 96.54L296.06 86.93L304.65 79.05L313.23 73.18L321.82 69.57L330.4 68.35L330.4 63.69L321.82 64.93L313.23 68.58L304.65 74.52L296.06 82.5L287.48 92.23Z" fill="#979797" stroke="#979797" stroke-width="0.4"/>
<path d="M55.7 63.69L64.28 64.93L64.28 60.63L55.7 59.38Z" fill="#9d9d9d" stroke="#9d9d9d" stroke-width="0.4"/>
<path d="M64.28 64.93L72.87 68.58L81.45 74.52L81.45 70.33L72.87 64.32L64.28 60.63Z" fill="#a4a4a4" stroke="#a4a4a4" stroke-width="0.4"/>
<path d="M81.45 74.52L90.04 82.5L98.62 92.23L98.62 88.24L90.04 78.4L81.45 70.33Z" fill="#adadad" stroke="#adadad" stroke-width="0.4"/>
<path d="M98.62 92.23L107.21 103.32L115.79 115.35L124.38 127.85L124.38 124.27L115.79 111.62L107.21 99.46L98.62 88.24Z" fill="#b5b5b5" stroke="#b5b5b5" stroke-width="0.4"/>
<path d="M124.38 127.85L132.96 140.34L141.54 152.35L141.54 149.05L132.96 136.91L124.38 124.27Z" fill="#c1c1c1" stroke="#c1c1c1" stroke-width="0.4"/>
<path d="M141.54 152.35L150.13 163.4L158.71 173.08L167.3 181.02L175.88 186.92L184.47 190.55L193.05 191.78L201.63 190.55L201.63 187.72L193.05 188.96L184.47 187.72L175.88 184.04L167.3 178.07L158.71 170.03L150.13 160.24L141.54 149.05Z" fill="#cccccc" stroke="#cccccc" stroke-width="0.4"/>
<path d="M201.63 190.55L210.22 186.92L218.8 181.02L218.8 178.07L210.22 184.04L201.63 187.72Z" fill="#c1c1c1" stroke="#c1c1c1" stroke-width="0.4"/>
<path d="M218.8 181.02L227.39 173.08L227.39 170.03L218.8 178.07Z" fill="#b5b5b5" stroke="#b5b5b5" stroke-width="0.4"/>
<path d="M227.39 173.08L235.97 163.4L235.97 160.24L227.39 170.03Z" fill="#adadad" stroke="#adadad" stroke-width="0.4"/>
<path d="M235.97 163.4L244.56 152.35L244.56 149.05L235.97 160.24Z" fill="#a4a4a4" stroke="#a4a4a4" stroke-width="0.4"/>
<path d="M244.56 152.35L253.14 140.34L253.14 136.91L244.56 149.05Z" fill="#9d9d9d" stroke="#9d9d9d" stroke-width="0.4"/>
<path d="M253.14 140.34L261.72 127.85L270.31 115.35L270.31 111.62L261.72 124.27L253.14 136.91Z" fill="#979797" stroke="#979797" stroke-width="0.4"/>
<path d="M270.31 115.35L278.89 103.32L287.48 92.23L287.48 88.24L278.89 99.46L270.31 111.62Z" fill="#919191" stroke="#919191" stroke-width="0.4"/>
<path d="M287.48 92.23L296.06 82.5L304.65 74.52L313.23 68.58L321.82 64.93L330.4 63.69L330.4 59.38L321.82 60.63L313.23 64.32L304.65 70.33L296.06 78.4L287.48 88.24Z" fill="#8b8b8b" stroke="#8b8b8b" stroke-width="0.4"/>
<path d="M55.7 59.38L64.28 60.63L64.28 56.65L55.7 55.39Z" fill="#919191" stroke="#919191" stroke-width="0.4"/>
<path d="M64.28 60.63L72.87 64.32L81.45 70.33L81.45 66.45L72.87 60.38L64.28 56.65Z" fill="#979797" stroke="#979797" stroke-width="0.4"/>
<path d="M81.45 70.33L90.04 78.4L98.62 88.24L98.62 84.54L90.04 74.6L81.45 66.45Z" fill="#9d9d9d" stroke="#9d9d9d" stroke-width="0.4"/>
<path d="M98.62 88.24L107.21 99.46L115.79 111.62L115.79 108.17L107.21 95.87L98.62 84.54Z" fill="#a4a4a4" stroke="#a4a4a4" stroke-width="0.4"/>
<path d="M115.79 111.62L124.38 124.27L132.96 136.91L132.96 133.72L124.38 120.94L115.79 108.17Z" fill="#adadad" stroke="#adadad" stroke-width="0.4"/>
<path d="M132.96 136.91L141.54 149.05L150.13 160.24L150.13 157.3L141.54 145.99L132.96 133.72Z" fill="#b5b5b5" stroke="#b5b5b5" stroke-width="0.4"/>
<path d="M150.13 160.24L158.71 170.03L167.3 178.07L175.88 184.04L184.47 187.72L193.05 188.96L193.05 186.33L184.47 185.08L175.88 181.36L167.3 175.33L158.71 167.2L150.13 157.3Z" fill="#c1c1c1" stroke="#c1c1c1" stroke-width="0.4"/>
<path d="M193.05 188.96L201.63 187.72L210.22 184.04L210.22 181.36L201.63 185.08L193.05 186.33Z" fill="#b5b5b5" stroke="#b5b5b5" stroke-width="0.4"/>
<path d="M210.22 184.04L218.8 178.07L218.8 175.33L210.22 181.36Z" fill="#adadad" stroke="#adadad" stroke-width="0.4"/>
<path d="M218.8 178.07L227.39 170.03L227.39 167.2L218.8 175.33Z" fill="#a4a4a4" stroke="#a4a4a4" stroke-width="0.4"/>
<path d="M227.39 170.03L235.97 160.24L235.97 157.3L227.39 167.2Z" fill="#9d9d9d" stroke="#9d9d9d" stroke-width="0.4"/>
<path d="M235.97 160.24L244.56 149.05L244.56 145.99L235.97 157.3Z" fill="#979797" stroke="#979797" stroke-width="0.4"/>
<path d="M244.56 149.05L253.14 136.91L253.14 133.72L244.56 145.99Z" fill="#919191" stroke="#919191" stroke-width="0.4"/>
<path d="M253.14 136.91L261.72 124.27L270.31 111.62L270.31 108.17L261.72 120.94L253.14 133.72Z" fill="#8b8b8b" stroke="#8b8b8b" stroke-width="0.4"/>
<path d="M270.31 111.62L278.89 99.46L278.89 95.87L270.31 108.17Z" fill="#868686" stroke="#868686" stroke-width="0.4"/>
<path d="M278.89 99.46L287.48 88.24L296.06 78.4L304.65 70.33L313.23 64.32L321.82 60.63L330.4 59.38L330.4 55.39L321.82 56.65L313.23 60.38L304.65 66.45L296.06 74.6L287.48 84.54L278.89 95.87Z" fill="#818181" stroke="#818181" stroke-width="0.4"/>
<path d="M55.7 55.39L64.28 56.65L64.28 52.97L55.7 51.7Z" fill="#868686" stroke="#868686" stroke-width="0.4"/>
<path d="M64.28 56.65L72.87 60.38L81.45 66.45L81.45 62.86L72.87 56.74L64.28 52.97Z" fill="#8b8b8b" stroke="#8b8b8b" stroke-width="0.4"/>
<path d="M81.45 66.45L90.04 74.6L98.62 84.54L98.62 81.12L90.04 71.09L81.45 62.86Z" fill="#919191" stroke="#919191" stroke-width="0.4"/>
<path d="M98.62 84.54L107.21 95.87L107.21 92.56L98.62 81.12Z" fill="#979797" stroke="#979797" stroke-width="0.4"/>
<path d="M107.21 95.87L115.79 108.17L124.38 120.94L124.38 117.86L115.79 104.96L107.21 92.56Z" fill="#9d9d9d" stroke="#9d9d9d" stroke-width="0.4"/>
<path d="M124.38 120.94L132.96 133.72L141.54 145.99L141.54 143.15L132.96 130.76L124.38 117.86Z" fill="#a4a4a4" stroke="#a4a4a4" stroke-width="0.4"/>
<path d="M141.54 145.99L150.13 157.3L158.71 167.2L158.71 164.57L150.13 154.57L141.54 143.15Z" fill="#adadad" stroke="#adadad" stroke-width="0.4"/>
<path d="M158.71 167.2L167.3 175.33L175.88 181.36L184.47 185.08L184.47 182.62L175.88 178.87L167.3 172.78L158.71 164.57Z" fill="#b5b5b5" stroke="#b5b5b5" stroke-width="0.4"/>
<path d="M184.47 185.08L193.05 186.33L201.63 185.08L201.63 182.62L193.05 183.89L184.47 182.62Z" fill="#adadad" stroke="#adadad" stroke-width="0.4"/>
<path d="M201.63 185.08L210.22 181.36L218.8 175.33L218.8 172.78L210.22 178.87L201.63 182.62Z" fill="#a4a4a4" stroke="#a4a4a4" stroke-width="0.4"/>
<path d="M218.8 175.33L227.39 167.2L227.39 164.57L218.8 172.78Z" fill="#9d9d9d" stroke="#9d9d9d" stroke-width="0.4"/>
<path d="M227.39 167.2L235.97 157.3L235.97 154.57L227.39 164.57Z" fill="#919191" stroke="#919191" stroke-width="0.4"/>
<path d="M235.97 157.3L244.56 145.99L244.56 143.15L235.97 154.57Z" fill="#8b8b8b" stroke="#8b8b8b" stroke-width="0.4"/>
<path d="M244.56 145.99L253.14 133.72L253.14 130.76L244.56 143.15Z" fill="#868686" stroke="#868686" stroke-width="0.4"/>
<path d="M253.14 133.72L261.72 120.94L270.31 108.17L270.31 104.96L261.72 117.86L253.14 130.76Z" fill="#818181" stroke="#818181" stroke-width="0.4"/>
<path d="M270.31 108.17L278.89 95.87L278.89 92.56L270.31 104.96Z" fill="#7c7c7c" stroke="#7c7c7c" stroke-width="0.4"/>
<path d="M278.89 95.87L287.48 84.54L296.06 74.6L304.65 66.45L313.23 60.38L321.82 56.65L330.4 55.39L330.4 51.7L321.82 52.97L313.23 56.74L304.65 62.86L296.06 71.09L287.48 81.12L278.89 92.56Z" fill="#777777" stroke="#777777" stroke-width="0.4"/>
<path d="M55.7 51.7L64.28 52.97L64.28 49.57L55.7 48.28Z" fill="#7c7c7c" stroke="#7c7c7c" stroke-width="0.4"/>
<path d="M64.28 52.97L72.87 56.74L81.45 62.86L81.45 59.53L72.87 53.36L64.28 49.57Z" fill="#818181" stroke="#818181" stroke-width="0.4"/>
<path d="M81.45 62.86L90.04 71.09L98.62 81.12L98.62 77.95L90.04 67.83L81.45 59.53Z" fill="#868686" stroke="#868686" stroke-width="0.4"/>
<path d="M98.62 81.12L107.21 92.56L107.21 89.48L98.62 77.95Z" fill="#8b8b8b" stroke="#8b8b8b" stroke-width="0.4"/>
<path d="M107.21 92.56L115.79 104.96L115.79 101.99L107.21 89.48Z" fill="#919191" stroke="#919191" stroke-width="0.4"/>
<path d="M115.79 104.96L124.38 117.86L132.96 130.76L132.96 128.01L124.38 115L115.79 101.99Z" fill="#979797" stroke="#979797" stroke-width="0.4"/>
<path d="M132.96 130.76L141.54 143.15L150.13 154.57L150.13 152.03L141.54 140.51L132.96 128.01Z" fill="#9d9d9d" stroke="#9d9d9d" stroke-width="0.4"/>
<path d="M150.13 154.57L158.71 164.57L167.3 172.78L175.88 178.87L184.47 182.62L193.05 183.89L193.05 181.62L184.47 180.34L175.88 176.55L167.3 170.4L158.71 162.12L150.13 152.03Z" fill="#a4a4a4" stroke="#a4a4a4" stroke-width="0.4"/>
<path d="M193.05 183.89L201.63 182.62L210.22 178.87L210.22 176.55L201.63 180.34L193.05 181.62Z" fill="#9d9d9d" stroke="#9d9d9d" stroke-width="0.4"/>
<path d="M210.22 178.87L218.8 172.78L218.8 170.4L210.22 176.55Z" fill="#979797" stroke="#979797" stroke-width="0.4"/>
<path d="M218.8 172.78L227.39 164.57L227.39 162.12L218.8 170.4Z" fill="#919191" stroke="#919191" stroke-width="0.4"/>
<path d="M227.39 164.57L235.97 154.57L235.97 152.03L227.39 162.12Z" fill="#8b8b8b" stroke="#8b8b8b" stroke-width="0.4"/>
<path d="M235.97 154.57L244.56 143.15L244.56 140.51L235.97 152.03Z" fill="#818181" stroke="#818181" stroke-width="0.4"/>
<path d="M244.56 143.15L253.14 130.76L253.14 128.01L244.56 140.51Z" fill="#7c7c7c" stroke="#7c7c7c" stroke-width="0.4"/>
<path d="M253.14 130.76L261.72 117.86L270.31 104.96L270.31 101.99L261.72 115L253.14 128.01Z" fill="#777777" stroke="#777777" stroke-width="0.4"/>
<path d="M270.31 104.96L278.89 92.56L287.48 81.12L287.48 77.95L278.89 89.48L270.31 101.99Z" fill="#737373" stroke="#737373" stroke-width="0.4"/>
<path d="M287.48 81.12L296.06 71.09L304.65 62.86L313.23 56.74L321.82 52.97L330.4 51.7L330.4 48.28L321.82 49.57L313.23 53.36L304.65 59.53L296.06 67.83L287.48 77.95Z" fill="#6e6e6e" stroke="#6e6e6e" stroke-width="0.4"/>
<path d="M55.7 48.28L64.28 49.57L64.28 46.42L55.7 45.12Z" fill="#737373" stroke="#737373" stroke-width="0.4"/>
<path d="M64.28 49.57L72.87 53.36L81.45 59.53L81.45 56.46L72.87 50.24L64.28 46.42Z" fill="#777777" stroke="#777777" stroke-width="0.4"/>
<path d="M81.45 59.53L90.04 67.83L98.62 77.95L98.62 75.01L90.04 64.82L81.45 56.46Z" fill="#7c7c7c" stroke="#7c7c7c" stroke-width="0.4"/>
<path d="M98.62 77.95L107.21 89.48L107.21 86.63L98.62 75.01Z" fill="#818181" stroke="#818181" stroke-width="0.4"/>
<path d="M107.21 89.48L115.79 101.99L115.79 99.24L107.21 86.63Z" fill="#868686" stroke="#868686" stroke-width="0.4"/>
<path d="M115.79 101.99L124.38 115L124.38 112.35L115.79 99.24Z" fill="#8b8b8b" stroke="#8b8b8b" stroke-width="0.4"/>
<path d="M124.38 115L132.96 128.01L141.54 140.51L141.54 138.06L132.96 125.46L124.38 112.35Z" fill="#919191" stroke="#919191" stroke-width="0.4"/>
<path d="M141.54 140.51L150.13 152.03L158.71 162.12L158.71 159.85L150.13 149.67L141.54 138.06Z" fill="#979797" stroke="#979797" stroke-width="0.4"/>
<path d="M158.71 162.12L167.3 170.4L175.88 176.55L184.47 180.34L184.47 178.21L175.88 174.4L167.3 168.19L158.71 159.85Z" fill="#9d9d9d" stroke="#9d9d9d" stroke-width="0.4"/>
<path d="M184.47 180.34L193.05 181.62L201.63 180.34L201.63 178.21L193.05 179.5L184.47 178.21Z" fill="#979797" stroke="#979797" stroke-width="0.4"/>
<path d="M201.63 180.34L210.22 176.55L210.22 174.4L201.63 178.21Z" fill="#919191" stroke="#919191" stroke-width="0.4"/>
<path d="M210.22 176.55L218.8 170.4L218.8 168.19L210.22 174.4Z" fill="#8b8b8b" stroke="#8b8b8b" stroke-width="0.4"/>
<path d="M218.8 170.4L227.39 162.12L227.39 159.85L218.8 168.19Z" fill="#868686" stroke="#868686" stroke-width="0.4"/>
<path d="M227.39 162.12L235.97 152.03L235.97 149.67L227.39 159.85Z" fill="#818181" stroke="#818181" stroke-width="0.4"/>
<path d="M235.97 152.03L244.56 140.51L244.56 138.06L235.97 149.67Z" fill="#777777" stroke="#777777" stroke-width="0.4"/>
<path d="M244.56 140.51L253.14 128.01L253.14 125.46L244.56 138.06Z" fill="#737373" stroke="#737373" stroke-width="0.4"/>
<path d="M253.14 128.01L261.72 115L270.31 101.99L270.31 99.24L261.72 112.35L253.14 125.46Z" fill="#6e6e6e" stroke="#6e6e6e" stroke-width="0.4"/>
<path d="M270.31 101.99L278.89 89.48L287.48 77.95L296.06 67.83L304.65 59.53L304.65 56.46L296.06 64.82L287.48 75.01L278.89 86.63L270.31 99.24Z" fill="#696969" stroke="#696969" stroke-width="0.4"/>
<path d="M304.65 59.53L313.23 53.36L321.82 49.57L321.82 46.42L313.23 50.24L304.65 56.46Z" fill="#646464" stroke="#646464" stroke-width="0.4"/>
<path d="M321.82 49.57L330.4 48.28L330.4 45.12L321.82 46.42Z" fill="#696969" stroke="#696969" stroke-width="0.4"/>
<path d="M55.7 45.12L64.28 46.42L64.28 43.5L55.7 42.2Z" fill="#696969" stroke="#696969" stroke-width="0.4"/>
<path d="M64.28 46.42L72.87 50.24L81.45 56.46L81.45 53.61L72.87 47.36L64.28 43.5Z" fill="#6e6e6e" stroke="#6e6e6e" stroke-width="0.4"/>
<path d="M81.45 56.46L90.04 64.82L98.62 75.01L98.62 72.29L90.04 62.03L81.45 53.61Z" fill="#737373" stroke="#737373" stroke-width="0.4"/>
<path d="M98.62 75.01L107.21 86.63L107.21 84L98.62 72.29Z" fill="#777777" stroke="#777777" stroke-width="0.4"/>
<path d="M107.21 86.63L115.79 99.24L115.79 96.69L107.21 84Z" fill="#7c7c7c" stroke="#7c7c7c" stroke-width="0.4"/>
<path d="M115.79 99.24L124.38 112.35L124.38 109.89L115.79 96.69Z" fill="#818181" stroke="#818181" stroke-width="0.4"/>
<path d="M124.38 112.35L132.96 125.46L132.96 123.1L124.38 109.89Z" fill="#868686" stroke="#868686" stroke-width="0.4"/>
<path d="M132.96 125.46L141.54 138.06L150.13 149.67L150.13 147.48L141.54 135.79L132.96 123.1Z" fill="#8b8b8b" stroke="#8b8b8b" stroke-width="0.4"/>
<path d="M150.13 149.67L158.71 159.85L167.3 168.19L175.88 174.4L184.47 178.21L193.05 179.5L193.05 177.54L184.47 176.24L175.88 172.39L167.3 166.14L158.71 157.73L150.13 147.48Z" fill="#919191" stroke="#919191" stroke-width="0.4"/>
<path d="M193.05 179.5L201.63 178.21L201.63 176.24L193.05 177.54Z" fill="#8b8b8b" stroke="#8b8b8b" stroke-width="0.4"/>
<path d="M201.63 178.21L210.22 174.4L210.22 172.39L201.63 176.24Z" fill="#868686" stroke="#868686" stroke-width="0.4"/>
<path d="M210.22 174.4L218.8 168.19L218.8 166.14L210.22 172.39Z" fill="#818181" stroke="#818181" stroke-width="0.4"/>
<path d="M218.8 168.19L227.39 159.85L227.39 157.73L218.8 166.14Z" fill="#7c7c7c" stroke="#7c7c7c" stroke-width="0.4"/>
<path d="M227.39 159.85L235.97 149.67L235.97 147.48L227.39 157.73Z" fill="#777777" stroke="#777777" stroke-width="0.4"/>
<path d="M235.97 149.67L244.56 138.06L244.56 135.79L235.97 147.48Z" fill="#6e6e6e" stroke="#6e6e6e" stroke-width="0.4"/>
<path d="M244.56 138.06L253.14 125.46L261.72 112.35L261.72 109.89L253.14 123.1L244.56 135.79Z" fill="#696969" stroke="#696969" stroke-width="0.4"/>
<path d="M261.72 112.35L270.31 99.24L278.89 86.63L278.89 84L270.31 96.69L261.72 109.89Z" fill="#646464" stroke="#646464" stroke-width="0.4"/>
<path d="M278.89 86.63L287.48 75.01L296.06 64.82L304.65 56.46L313.23 50.24L321.82 46.42L330.4 45.12L330.4 42.2L321.82 43.5L313.23 47.36L304.65 53.61L296.06 62.03L287.48 72.29L278.89 84Z" fill="#5e5e5e" stroke="#5e5e5e" stroke-width="0.4"/>
<path d="M55.7 42.2L64.28 43.5L64.28 40.81L55.7 39.5Z" fill="#5e5e5e" stroke="#5e5e5e" stroke-width="0.4"/>
<path d="M64.28 43.5L72.87 47.36L81.45 53.61L81.45 50.98L72.87 44.69L64.28 40.81Z" fill="#646464" stroke="#646464" stroke-width="0.4"/>
<path d="M81.45 53.61L90.04 62.03L98.62 72.29L98.62 69.77L90.04 59.45L81.45 50.98Z" fill="#696969" stroke="#696969" stroke-width="0.4"/>
<path d="M98.62 72.29L107.21 84L107.21 81.55L98.62 69.77Z" fill="#6e6e6e" stroke="#6e6e6e" stroke-width="0.4"/>
<path d="M107.21 84L115.79 96.69L115.79 94.33L107.21 81.55Z" fill="#737373" stroke="#737373" stroke-width="0.4"/>
<path d="M115.79 96.69L124.38 109.89L124.38 107.61L115.79 94.33Z" fill="#777777" stroke="#777777" stroke-width="0.4"/>
<path d="M124.38 109.89L132.96 123.1L132.96 120.9L124.38 107.61Z" fill="#7c7c7c" stroke="#7c7c7c" stroke-width="0.4"/>
<path d="M132.96 123.1L141.54 135.79L141.54 133.67L132.96 120.9Z" fill="#818181" stroke="#818181" stroke-width="0.4"/>
<path d="M141.54 135.79L150.13 147.48L158.71 157.73L158.71 155.76L150.13 145.45L141.54 133.67Z" fill="#868686" stroke="#868686" stroke-width="0.4"/>
<path d="M158.71 157.73L167.3 166.14L175.88 172.39L184.47 176.24L184.47 174.4L175.88 170.52L167.3 164.23L158.71 155.76Z" fill="#8b8b8b" stroke="#8b8b8b" stroke-width="0.4"/>
<path d="M184.47 176.24L193.05 177.54L201.63 176.24L201.63 174.4L193.05 175.7L184.47 174.4Z" fill="#868686" stroke="#868686" stroke-width="0.4"/>
<path d="M201.63 176.24L210.22 172.39L210.22 170.52L201.63 174.4Z" fill="#818181" stroke="#818181" stroke-width="0.4"/>
<path d="M210.22 172.39L218.8 166.14L218.8 164.23L210.22 170.52Z" fill="#777777" stroke="#777777" stroke-width="0.4"/>
<path d="M218.8 166.14L227.39 157.73L227.39 155.76L218.8 164.23Z" fill="#737373" stroke="#737373" stroke-width="0.4"/>
<path d="M227.39 157.73L235.97 147.48L235.97 145.45L227.39 155.76Z" fill="#696969" stroke="#696969" stroke-width="0.4"/>
<path d="M235.97 147.48L244.56 135.79L244.56 133.67L235.97 145.45Z" fill="#646464" stroke="#646464" stroke-width="0.4"/>
<path d="M244.56 135.79L253.14 123.1L261.72 109.89L261.72 107.61L253.14 120.9L244.56 133.67Z" fill="#5e5e5e" stroke="#5e5e5e" stroke-width="0.4"/>
<path d="M261.72 109.89L270.31 96.69L278.89 84L287.48 72.29L296.06 62.03L304.65 53.61L313.23 47.36L321.82 43.5L330.4 42.2L330.4 39.5L321.82 40.81L313.23 44.69L304.65 50.98L296.06 59.45L287.48 69.77L278.89 81.55L270.31 94.33L261.72 107.61Z" fill="#585858" stroke="#585858" stroke-width="0.4"/>
<path d="M55.7 39.5L64.28 40.81L64.28 38.32L55.7 37Z" fill="#515151" stroke="#515151" stroke-width="0.4"/>
<path d="M64.28 40.81L72.87 44.69L81.45 50.98L90.04 59.45L90.04 57.06L81.45 48.54L72.87 42.21L64.28 38.32Z" fill="#585858" stroke="#585858" stroke-width="0.4"/>
<path d="M90.04 59.45L98.62 69.77L107.21 81.55L107.21 79.29L98.62 67.44L90.04 57.06Z" fill="#5e5e5e" stroke="#5e5e5e" stroke-width="0.4"/>
<path d="M107.21 81.55L115.79 94.33L115.79 92.14L107.21 79.29Z" fill="#646464" stroke="#646464" stroke-width="0.4"/>
<path d="M115.79 94.33L124.38 107.61L124.38 105.5L115.79 92.14Z" fill="#696969" stroke="#696969" stroke-width="0.4"/>
<path d="M124.38 107.61L132.96 120.9L132.96 118.86L124.38 105.5Z" fill="#6e6e6e" stroke="#6e6e6e" stroke-width="0.4"/>
<path d="M132.96 120.9L141.54 133.67L141.54 131.71L132.96 118.86Z" fill="#777777" stroke="#777777" stroke-width="0.4"/>
<path d="M141.54 133.67L150.13 145.45L158.71 155.76L158.71 153.94L150.13 143.56L141.54 131.71Z" fill="#7c7c7c" stroke="#7c7c7c" stroke-width="0.4"/>
<path d="M158.71 155.76L167.3 164.23L175.88 170.52L184.47 174.4L193.05 175.7L193.05 174L184.47 172.68L175.88 168.79L167.3 162.46L158.71 153.94Z" fill="#818181" stroke="#818181" stroke-width="0.4"/>
<path d="M193.05 175.7L201.63 174.4L201.63 172.68L193.05 174Z" fill="#7c7c7c" stroke="#7c7c7c" stroke-width="0.4"/>
<path d="M201.63 174.4L210.22 170.52L210.22 168.79L201.63 172.68Z" fill="#737373" stroke="#737373" stroke-width="0.4"/>
<path d="M210.22 170.52L218.8 164.23L218.8 162.46L210.22 168.79Z" fill="#6e6e6e" stroke="#6e6e6e" stroke-width="0.4"/>
<path d="M218.8 164.23L227.39 155.76L227.39 153.94L218.8 162.46Z" fill="#646464" stroke="#646464" stroke-width="0.4"/>
<path d="M227.39 155.76L235.97 145.45L235.97 143.56L227.39 153.94Z" fill="#5e5e5e" stroke="#5e5e5e" stroke-width="0.4"/>
<path d="M235.97 145.45L244.56 133.67L244.56 131.71L235.97 143.56Z" fill="#585858" stroke="#585858" stroke-width="0.4"/>
<path d="M244.56 133.67L253.14 120.9L261.72 107.61L270.31 94.33L278.89 81.55L287.48 69.77L296.06 59.45L304.65 50.98L313.23 44.69L321.82 40.81L330.4 39.5L330.4 37L321.82 38.32L313.23 42.21L304.65 48.54L296.06 57.06L287.48 67.44L278.89 79.29L270.31 92.14L261.72 105.5L253.14 118.86L244.56 131.71Z" fill="#515151" stroke="#515151" stroke-width="0.4"/>
<path class="m" d="M55.7 379.5L64.28 379.5L72.87 379.5L81.45 379.5L90.04 379.5L98.62 379.5L107.21 379.5L115.79 379.5L124.38 379.5L132.96 379.5L141.54 379.5L150.13 379.5L158.71 379.5L167.3 379.5L175.88 379.5L184.47 379.5L193.05 379.5L201.63 379.5L210.22 379.5L218.8 379.5L227.39 379.5L235.97 379.5L244.56 379.5L253.14 379.5L261.72 379.5L270.31 379.5L278.89 379.5L287.48 379.5L296.06 379.5L304.65 379.5L313.23 379.5L321.82 379.5L330.4 379.5M55.7 351.51L64.28 351.63L72.87 351.99L81.45 352.56L90.04 353.33L98.62 354.26L107.21 355.32L115.79 356.47L124.38 357.66L132.96 358.84L141.54 359.97L150.13 361.01L158.71 361.91L167.3 362.65L175.88 363.2L184.47 363.54L193.05 363.65L201.63 363.54L210.22 363.2L218.8 362.65L227.39 361.91L235.97 361.01L244.56 359.97L253.14 358.84L261.72 357.66L270.31 356.47L278.89 355.32L287.48 354.26L296.06 353.33L304.65 352.56L313.23 351.99L321.82 351.63L330.4 351.51M55.7 325.63L64.28 325.85L72.87 326.53L81.45 327.63L90.04 329.1L98.62 330.89L107.21 332.93L115.79 335.13L124.38 337.4L132.96 339.67L141.54 341.84L150.13 343.83L158.71 345.57L167.3 346.99L175.88 348.04L184.47 348.68L193.05 348.9L201.63 348.68L210.22 348.04L218.8 346.99L227.39 345.57L235.97 343.83L244.56 341.84L253.14 339.67L261.72 337.4L270.31 335.13L278.89 332.93L287.48 330.89L296.06 329.1L304.65 327.63L313.23 326.53L321.82 325.85L330.4 325.63M55.7 301.68L64.28 302.01L72.87 302.98L81.45 304.56L90.04 306.67L98.62 309.25L107.21 312.18L115.79 315.34L124.38 318.62L132.96 321.88L141.54 325.01L150.13 327.87L158.71 330.37L167.3 332.42L175.88 333.93L184.47 334.86L193.05 335.18L201.63 334.86L210.22 333.93L218.8 332.42L227.39 330.37L235.97 327.87L244.56 325.01L253.14 321.88L261.72 318.62L270.31 315.34L278.89 312.18L287.48 309.25L296.06 306.67L304.65 304.56L313.23 302.98L321.82 302.01L330.4 301.68M55.7 279.53L64.28 279.95L72.87 281.19L81.45 283.21L90.04 285.91L98.62 289.21L107.21 292.95L115.79 297L124.38 301.2L132.96 305.37L141.54 309.37L150.13 313.04L158.71 316.25L167.3 318.87L175.88 320.81L184.47 322L193.05 322.4L201.63 322L210.22 320.81L218.8 318.87L227.39 316.25L235.97 313.04L244.56 309.37L253.14 305.37L261.72 301.2L270.31 297L278.89 292.95L287.48 289.21L296.06 285.91L304.65 283.21L313.23 281.19L321.82 279.95L330.4 279.53M55.7 259.03L64.28 259.54L72.87 261.03L81.45 263.45L90.04 266.7L98.62 270.65L107.21 275.14L115.79 280L124.38 285.04L132.96 290.05L141.54 294.86L150.13 299.27L158.71 303.12L167.3 306.27L175.88 308.6L184.47 310.03L193.05 310.52L201.63 310.03L210.22 308.6L218.8 306.27L227.39 303.12L235.97 299.27L244.56 294.86L253.14 290.05L261.72 285.04L270.31 280L278.89 275.14L287.48 270.65L296.06 266.7L304.65 263.45L313.23 261.03L321.82 259.54L330.4 259.03M55.7 240.08L64.28 240.66L72.87 242.38L81.45 245.16L90.04 248.91L98.62 253.46L107.21 258.64L115.79 264.24L124.38 270.05L132.96 275.84L141.54 281.38L150.13 286.47L158.71 290.91L167.3 294.55L175.88 297.24L184.47 298.9L193.05 299.46L201.63 298.9L210.22 297.24L218.8 294.55L227.39 290.91L235.97 286.47L244.56 281.38L253.14 275.84L261.72 270.05L270.31 264.24L278.89 258.64L287.48 253.46L296.06 248.91L304.65 245.16L313.23 242.38L321.82 240.66L330.4 240.08M55.7 222.54L64.28 223.19L72.87 225.12L81.45 228.24L90.04 232.44L98.62 237.54L107.21 243.35L115.79 249.64L124.38 256.15L132.96 262.64L141.54 268.86L150.13 274.57L158.71 279.56L167.3 283.65L175.88 286.67L184.47 288.53L193.05 289.16L201.63 288.53L210.22 286.67L218.8 283.65L227.39 279.56L235.97 274.57L244.56 268.86L253.14 262.64L261.72 256.15L270.31 249.64L278.89 243.35L287.48 237.54L296.06 232.44L304.65 228.24L313.23 225.12L321.82 223.19L330.4 222.54M55.7 206.32L64.28 207.04L72.87 209.15L81.45 212.58L90.04 217.2L98.62 222.8L107.21 229.19L115.79 236.1L124.38 243.26L132.96 250.4L141.54 257.24L150.13 263.53L158.71 269.02L167.3 273.51L175.88 276.84L184.47 278.89L193.05 279.58L201.63 278.89L210.22 276.84L218.8 273.51L227.39 269.02L235.97 263.53L244.56 257.24L253.14 250.4L261.72 243.26L270.31 236.1L278.89 229.19L287.48 222.8L296.06 217.2L304.65 212.58L313.23 209.15L321.82 207.04L330.4 206.32M55.7 191.32L64.28 192.09L72.87 194.38L81.45 198.09L90.04 203.08L98.62 209.16L107.21 216.07L115.79 223.55L124.38 231.3L132.96 239.04L141.54 246.45L150.13 253.26L158.71 259.21L167.3 264.09L175.88 267.7L184.47 269.92L193.05 270.67L201.63 269.92L210.22 267.7L218.8 264.09L227.39 259.21L235.97 253.26L244.56 246.45L253.14 239.04L261.72 231.3L270.31 223.55L278.89 216.07L287.48 209.16L296.06 203.08L304.65 198.09L313.23 194.38L321.82 192.09L330.4 191.32M55.7 177.44L64.28 178.26L72.87 180.71L81.45 184.68L90.04 190.02L98.62 196.52L107.21 203.91L115.79 211.91L124.38 220.22L132.96 228.49L141.54 236.43L150.13 243.72L158.71 250.1L167.3 255.32L175.88 259.19L184.47 261.57L193.05 262.37L201.63 261.57L210.22 259.19L218.8 255.32L227.39 250.1L235.97 243.72L244.56 236.43L253.14 228.49L261.72 220.22L270.31 211.91L278.89 203.91L287.48 196.52L296.06 190.02L304.65 184.68L313.23 180.71L321.82 178.26L330.4 177.44M55.7 164.6L64.28 165.47L72.87 168.07L81.45 172.27L90.04 177.93L98.62 184.81L107.21 192.65L115.79 201.13L124.38 209.93L132.96 218.71L141.54 227.13L150.13 234.86L158.71 241.63L167.3 247.17L175.88 251.27L184.47 253.8L193.05 254.65L201.63 253.8L210.22 251.27L218.8 247.17L227.39 241.63L235.97 234.86L244.56 227.13L253.14 218.71L261.72 209.93L270.31 201.13L278.89 192.65L287.48 184.81L296.06 177.93L304.65 172.27L313.23 168.07L321.82 165.47L330.4 164.6M55.7 152.72L64.28 153.64L72.87 156.37L81.45 160.79L90.04 166.74L98.62 173.97L107.21 182.21L115.79 191.13L124.38 200.39L132.96 209.63L141.54 218.49L150.13 226.63L158.71 233.75L167.3 239.59L175.88 243.91L184.47 246.57L193.05 247.47L201.63 246.57L210.22 243.91L218.8 239.59L227.39 233.75L235.97 226.63L244.56 218.49L253.14 209.63L261.72 200.39L270.31 191.13L278.89 182.21L287.48 173.97L296.06 166.74L304.65 160.79L313.23 156.37L321.82 153.64L330.4 152.72M55.7 141.73L64.28 142.7L72.87 145.54L81.45 150.16L90.04 156.38L98.62 163.93L107.21 172.54L115.79 181.87L124.38 191.55L132.96 201.2L141.54 210.47L150.13 218.98L158.71 226.43L167.3 232.53L175.88 237.06L184.47 239.84L193.05 240.78L201.63 239.84L210.22 237.06L218.8 232.53L227.39 226.43L235.97 218.98L244.56 210.47L253.14 201.2L261.72 191.55L270.31 181.87L278.89 172.54L287.48 163.93L296.06 156.38L304.65 150.16L313.23 145.54L321.82 142.7L330.4 141.73M55.7 131.57L64.28 132.57L72.87 135.53L81.45 140.33L90.04 146.78L98.62 154.64L107.21 163.59L115.79 173.28L124.38 183.34L132.96 193.38L141.54 203.02L150.13 211.88L158.71 219.63L167.3 225.98L175.88 230.69L184.47 233.58L193.05 234.56L201.63 233.58L210.22 230.69L218.8 225.98L227.39 219.63L235.97 211.88L244.56 203.02L253.14 193.38L261.72 183.34L270.31 173.28L278.89 163.59L287.48 154.64L296.06 146.78L304.65 140.33L313.23 135.53L321.82 132.57L330.4 131.57M55.7 122.17L64.28 123.2L72.87 126.26L81.45 131.23L90.04 137.9L98.62 146.03L107.21 155.29L115.79 165.32L124.38 175.73L132.96 186.13L141.54 196.1L150.13 205.28L158.71 213.3L167.3 219.88L175.88 224.76L184.47 227.76L193.05 228.77L201.63 227.76L210.22 224.76L218.8 219.88L227.39 213.3L235.97 205.28L244.56 196.1L253.14 186.13L261.72 175.73L270.31 165.32L278.89 155.29L287.48 146.03L296.06 137.9L304.65 131.23L313.23 126.26L321.82 123.2L330.4 122.17M55.7 113.47L64.28 114.54L72.87 117.69L81.45 122.81L90.04 129.69L98.62 138.06L107.21 147.6L115.79 157.94L124.38 168.68L132.96 179.39L141.54 189.68L150.13 199.14L158.71 207.42L167.3 214.21L175.88 219.24L184.47 222.34L193.05 223.39L201.63 222.34L210.22 219.24L218.8 214.21L227.39 207.42L235.97 199.14L244.56 189.68L253.14 179.39L261.72 168.68L270.31 157.94L278.89 147.6L287.48 138.06L296.06 129.69L304.65 122.81L313.23 117.69L321.82 114.54L330.4 113.47M55.7 105.43L64.28 106.52L72.87 109.76L81.45 115.01L90.04 122.08L98.62 130.68L107.21 140.48L115.79 151.1L124.38 162.13L132.96 173.15L141.54 183.72L150.13 193.44L158.71 201.96L167.3 208.93L175.88 214.11L184.47 217.3L193.05 218.37L201.63 217.3L210.22 214.11L218.8 208.93L227.39 201.96L235.97 193.44L244.56 183.72L253.14 173.15L261.72 162.13L270.31 151.1L278.89 140.48L287.48 130.68L296.06 122.08L304.65 115.01L313.23 109.76L321.82 106.52L330.4 105.43M55.7 97.99L64.28 99.11L72.87 102.42L81.45 107.8L90.04 115.03L98.62 123.84L107.21 133.88L115.79 144.76L124.38 156.06L132.96 167.35L141.54 178.18L150.13 188.15L158.71 196.88L167.3 204.03L175.88 209.34L184.47 212.6L193.05 213.71L201.63 212.6L210.22 209.34L218.8 204.03L227.39 196.88L235.97 188.15L244.56 178.18L253.14 167.35L261.72 156.06L270.31 144.76L278.89 133.88L287.48 123.84L296.06 115.03L304.65 107.8L313.23 102.42L321.82 99.11L330.4 97.99M55.7 91.1L64.28 92.25L72.87 95.63L81.45 101.12L90.04 108.51L98.62 117.51L107.21 127.77L115.79 138.89L124.38 150.43L132.96 161.97L141.54 173.04L150.13 183.23L158.71 192.15L167.3 199.47L175.88 204.89L184.47 208.24L193.05 209.36L201.63 208.24L210.22 204.89L218.8 199.47L227.39 192.15L235.97 183.23L244.56 173.04L253.14 161.97L261.72 150.43L270.31 138.89L278.89 127.77L287.48 117.51L296.06 108.51L304.65 101.12L313.23 95.63L321.82 92.25L330.4 91.1M55.7 84.73L64.28 85.9L72.87 89.35L81.45 94.95L90.04 102.48L98.62 111.65L107.21 122.11L115.79 133.44L124.38 145.21L132.96 156.97L141.54 168.26L150.13 178.66L158.71 187.76L167.3 195.22L175.88 200.76L184.47 204.17L193.05 205.32L201.63 204.17L210.22 200.76L218.8 195.22L227.39 187.76L235.97 178.66L244.56 168.26L253.14 156.97L261.72 145.21L270.31 133.44L278.89 122.11L287.48 111.65L296.06 102.48L304.65 94.95L313.23 89.35L321.82 85.9L330.4 84.73M55.7 78.84L64.28 80.03L72.87 83.54L81.45 89.23L90.04 96.89L98.62 106.22L107.21 116.86L115.79 128.39L124.38 140.37L132.96 152.34L141.54 163.83L150.13 174.41L158.71 183.68L167.3 191.28L175.88 196.92L184.47 200.39L193.05 201.56L201.63 200.39L210.22 196.92L218.8 191.28L227.39 183.68L235.97 174.41L244.56 163.83L253.14 152.34L261.72 140.37L270.31 128.39L278.89 116.86L287.48 106.22L296.06 96.89L304.65 89.23L313.23 83.54L321.82 80.03L330.4 78.84M55.7 73.39L64.28 74.6L72.87 78.16L81.45 83.94L90.04 91.72L98.62 101.2L107.21 112L115.79 123.71L124.38 135.88L132.96 148.04L141.54 159.72L150.13 170.47L158.71 179.89L167.3 187.61L175.88 193.34L184.47 196.87L193.05 198.06L201.63 196.87L210.22 193.34L218.8 187.61L227.39 179.89L235.97 170.47L244.56 159.72L253.14 148.04L261.72 135.88L270.31 123.71L278.89 112L287.48 101.2L296.06 91.72L304.65 83.94L313.23 78.16L321.82 74.6L330.4 73.39M55.7 68.35L64.28 69.57L72.87 73.18L81.45 79.05L90.04 86.93L98.62 96.54L107.21 107.49L115.79 119.37L124.38 131.71L132.96 144.05L141.54 155.89L150.13 166.8L158.71 176.36L167.3 184.2L175.88 190.02L184.47 193.6L193.05 194.81L201.63 193.6L210.22 190.02L218.8 184.2L227.39 176.36L235.97 166.8L244.56 155.89L253.14 144.05L261.72 131.71L270.31 119.37L278.89 107.49L287.48 96.54L296.06 86.93L304.65 79.05L313.23 73.18L321.82 69.57L330.4 68.35M55.7 63.69L64.28 64.93L72.87 68.58L81.45 74.52L90.04 82.5L98.62 92.23L107.21 103.32L115.79 115.35L124.38 127.85L132.96 140.34L141.54 152.35L150.13 163.4L158.71 173.08L167.3 181.02L175.88 186.92L184.47 190.55L193.05 191.78L201.63 190.55L210.22 186.92L218.8 181.02L227.39 173.08L235.97 163.4L244.56 152.35L253.14 140.34L261.72 127.85L270.31 115.35L278.89 103.32L287.48 92.23L296.06 82.5L304.65 74.52L313.23 68.58L321.82 64.93L330.4 63.69M55.7 59.38L64.28 60.63L72.87 64.32L81.45 70.33L90.04 78.4L98.62 88.24L107.21 99.46L115.79 111.62L124.38 124.27L132.96 136.91L141.54 149.05L150.13 160.24L158.71 170.03L167.3 178.07L175.88 184.04L184.47 187.72L193.05 188.96L201.63 187.72L210.22 184.04L218.8 178.07L227.39 170.03L235.97 160.24L244.56 149.05L253.14 136.91L261.72 124.27L270.31 111.62L278.89 99.46L287.48 88.24L296.06 78.4L304.65 70.33L313.23 64.32L321.82 60.63L330.4 59.38M55.7 55.39L64.28 56.65L72.87 60.38L81.45 66.45L90.04 74.6L98.62 84.54L107.21 95.87L115.79 108.17L124.38 120.94L132.96 133.72L141.54 145.99L150.13 157.3L158.71 167.2L167.3 175.33L175.88 181.36L184.47 185.08L193.05 186.33L201.63 185.08L210.22 181.36L218.8 175.33L227.39 167.2L235.97 157.3L244.56 145.99L253.14 133.72L261.72 120.94L270.31 108.17L278.89 95.87L287.48 84.54L296.06 74.6L304.65 66.45L313.23 60.38L321.82 56.65L330.4 55.39M55.7 51.7L64.28 52.97L72.87 56.74L81.45 62.86L90.04 71.09L98.62 81.12L107.21 92.56L115.79 104.96L124.38 117.86L132.96 130.76L141.54 143.15L150.13 154.57L158.71 164.57L167.3 172.78L175.88 178.87L184.47 182.62L193.05 183.89L201.63 182.62L210.22 178.87L218.8 172.78L227.39 164.57L235.97 154.57L244.56 143.15L253.14 130.76L261.72 117.86L270.31 104.96L278.89 92.56L287.48 81.12L296.06 71.09L304.65 62.86L313.23 56.74L321.82 52.97L330.4 51.7M55.7 48.28L64.28 49.57L72.87 53.36L81.45 59.53L90.04 67.83L98.62 77.95L107.21 89.48L115.79 101.99L124.38 115L132.96 128.01L141.54 140.51L150.13 152.03L158.71 162.12L167.3 170.4L175.88 176.55L184.47 180.34L193.05 181.62L201.63 180.34L210.22 176.55L218.8 170.4L227.39 162.12L235.97 152.03L244.56 140.51L253.14 128.01L261.72 115L270.31 101.99L278.89 89.48L287.48 77.95L296.06 67.83L304.65 59.53L313.23 53.36L321.82 49.57L330.4 48.28M55.7 45.12L64.28 46.42L72.87 50.24L81.45 56.46L90.04 64.82L98.62 75.01L107.21 86.63L115.79 99.24L124.38 112.35L132.96 125.46L141.54 138.06L150.13 149.67L158.71 159.85L167.3 168.19L175.88 174.4L184.47 178.21L193.05 179.5L201.63 178.21L210.22 174.4L218.8 168.19L227.39 159.85L235.97 149.67L244.56 138.06L253.14 125.46L261.72 112.35L270.31 99.24L278.89 86.63L287.48 75.01L296.06 64.82L304.65 56.46L313.23 50.24L321.82 46.42L330.4 45.12M55.7 42.2L64.28 43.5L72.87 47.36L81.45 53.61L90.04 62.03L98.62 72.29L107.21 84L115.79 96.69L124.38 109.89L132.96 123.1L141.54 135.79L150.13 147.48L158.71 157.73L167.3 166.14L175.88 172.39L184.47 176.24L193.05 177.54L201.63 176.24L210.22 172.39L218.8 166.14L227.39 157.73L235.97 147.48L244.56 135.79L253.14 123.1L261.72 109.89L270.31 96.69L278.89 84L287.48 72.29L296.06 62.03L304.65 53.61L313.23 47.36L321.82 43.5L330.4 42.2M55.7 39.5L64.28 40.81L72.87 44.69L81.45 50.98L90.04 59.45L98.62 69.77L107.21 81.55L115.79 94.33L124.38 107.61L132.96 120.9L141.54 133.67L150.13 145.45L158.71 155.76L167.3 164.23L175.88 170.52L184.47 174.4L193.05 175.7L201.63 174.4L210.22 170.52L218.8 164.23L227.39 155.76L235.97 145.45L244.56 133.67L253.14 120.9L261.72 107.61L270.31 94.33L278.89 81.55L287.48 69.77L296.06 59.45L304.65 50.98L313.23 44.69L321.82 40.81L330.4 39.5M55.7 37L64.28 38.32L72.87 42.21L81.45 48.54L90.04 57.06L98.62 67.44L107.21 79.29L115.79 92.14L124.38 105.5L132.96 118.86L141.54 131.71L150.13 143.56L158.71 153.94L167.3 162.46L175.88 168.79L184.47 172.68L193.05 174L201.63 172.68L210.22 168.79L218.8 162.46L227.39 153.94L235.97 143.56L244.56 131.71L253.14 118.86L261.72 105.5L270.31 92.14L278.89 79.29L287.48 67.44L296.06 57.06L304.65 48.54L313.23 42.21L321.82 38.32L330.4 37M55.7 379.5L55.7 351.51L55.7 325.63L55.7 301.68L55.7 279.53L55.7 259.03L55.7 240.08L55.7 222.54L55.7 206.32L55.7 191.32L55.7 177.44L55.7 164.6L55.7 152.72L55.7 141.73L55.7 131.57L55.7 122.17L55.7 113.47L55.7 105.43L55.7 97.99L55.7 91.1L55.7 84.73L55.7 78.84L55.7 73.39L55.7 68.35L55.7 63.69L55.7 59.38L55.7 55.39L55.7 51.7L55.7 48.28L55.7 45.12L55.7 42.2L55.7 39.5L55.7 37M64.28 379.5L64.28 351.63L64.28 325.85L64.28 302.01L64.28 279.95L64.28 259.54L64.28 240.66L64.28 223.19L64.28 207.04L64.28 192.09L64.28 178.26L64.28 165.47L64.28 153.64L64.28 142.7L64.28 132.57L64.28 123.2L64.28 114.54L64.28 106.52L64.28 99.11L64.28 92.25L64.28 85.9L64.28 80.03L64.28 74.6L64.28 69.57L64.28 64.93L64.28 60.63L64.28 56.65L64.28 52.97L64.28 49.57L64.28 46.42L64.28 43.5L64.28 40.81L64.28 38.32M72.87 379.5L72.87 351.99L72.87 326.53L72.87 302.98L72.87 281.19L72.87 261.03L72.87 242.38L72.87 225.12L72.87 209.15L72.87 194.38L72.87 180.71L72.87 168.07L72.87 156.37L72.87 145.54L72.87 135.53L72.87 126.26L72.87 117.69L72.87 109.76L72.87 102.42L72.87 95.63L72.87 89.35L72.87 83.54L72.87 78.16L72.87 73.18L72.87 68.58L72.87 64.32L72.87 60.38L72.87 56.74L72.87 53.36L72.87 50.24L72.87 47.36L72.87 44.69L72.87 42.21M81.45 379.5L81.45 352.56L81.45 327.63L81.45 304.56L81.45 283.21L81.45 263.45L81.45 245.16L81.45 228.24L81.45 212.58L81.45 198.09L81.45 184.68L81.45 172.27L81.45 160.79L81.45 150.16L81.45 140.33L81.45 131.23L81.45 122.81L81.45 115.01L81.45 107.8L81.45 101.12L81.45 94.95L81.45 89.23L81.45 83.94L81.45 79.05L81.45 74.52L81.45 70.33L81.45 66.45L81.45 62.86L81.45 59.53L81.45 56.46L81.45 53.61L81.45 50.98L81.45 48.54M90.04 379.5L90.04 353.33L90.04 329.1L90.04 306.67L90.04 285.91L90.04 266.7L90.04 248.91L90.04 232.44L90.04 217.2L90.04 203.08L90.04 190.02L90.04 177.93L90.04 166.74L90.04 156.38L90.04 146.78L90.04 137.9L90.04 129.69L90.04 122.08L90.04 115.03L90.04 108.51L90.04 102.48L90.04 96.89L90.04 91.72L90.04 86.93L90.04 82.5L90.04 78.4L90.04 74.6L90.04 71.09L90.04 67.83L90.04 64.82L90.04 62.03L90.04 59.45L90.04 57.06M98.62 379.5L98.62 354.26L98.62 330.89L98.62 309.25L98.62 289.21L98.62 270.65L98.62 253.46L98.62 237.54L98.62 222.8L98.62 209.16L98.62 196.52L98.62 184.81L98.62 173.97L98.62 163.93L98.62 154.64L98.62 146.03L98.62 138.06L98.62 130.68L98.62 123.84L98.62 117.51L98.62 111.65L98.62 106.22L98.62 101.2L98.62 96.54L98.62 92.23L98.62 88.24L98.62 84.54L98.62 81.12L98.62 77.95L98.62 75.01L98.62 72.29L98.62 69.77L98.62 67.44M107.21 379.5L107.21 355.32L107.21 332.93L107.21 312.18L107.21 292.95L107.21 275.14L107.21 258.64L107.21 243.35L107.21 229.19L107.21 216.07L107.21 203.91L107.21 192.65L107.21 182.21L107.21 172.54L107.21 163.59L107.21 155.29L107.21 147.6L107.21 140.48L107.21 133.88L107.21 127.77L107.21 122.11L107.21 116.86L107.21 112L107.21 107.49L107.21 103.32L107.21 99.46L107.21 95.87L107.21 92.56L107.21 89.48L107.21 86.63L107.21 84L107.21 81.55L107.21 79.29M115.79 379.5L115.79 356.47L115.79 335.13L115.79 315.34L115.79 297L115.79 280L115.79 264.24L115.79 249.64L115.79 236.1L115.79 223.55L115.79 211.91L115.79 201.13L115.79 191.13L115.79 181.87L115.79 173.28L115.79 165.32L115.79 157.94L115.79 151.1L115.79 144.76L115.79 138.89L115.79 133.44L115.79 128.39L115.79 123.71L115.79 119.37L115.79 115.35L115.79 111.62L115.79 108.17L115.79 104.96L115.79 101.99L115.79 99.24L115.79 96.69L115.79 94.33L115.79 92.14M124.38 379.5L124.38 357.66L124.38 337.4L124.38 318.62L124.38 301.2L124.38 285.04L124.38 270.05L124.38 256.15L124.38 243.26L124.38 231.3L124.38 220.22L124.38 209.93L124.38 200.39L124.38 191.55L124.38 183.34L124.38 175.73L124.38 168.68L124.38 162.13L124.38 156.06L124.38 150.43L124.38 145.21L124.38 140.37L124.38 135.88L124.38 131.71L124.38 127.85L124.38 124.27L124.38 120.94L124.38 117.86L124.38 115L124.38 112.35L124.38 109.89L124.38 107.61L124.38 105.5M132.96 379.5L132.96 358.84L132.96 339.67L132.96 321.88L132.96 305.37L132.96 290.05L132.96 275.84L132.96 262.64L132.96 250.4L132.96 239.04L132.96 228.49L132.96 218.71L132.96 209.63L132.96 201.2L132.96 193.38L132.96 186.13L132.96 179.39L132.96 173.15L132.96 167.35L132.96 161.97L132.96 156.97L132.96 152.34L132.96 148.04L132.96 144.05L132.96 140.34L132.96 136.91L132.96 133.72L132.96 130.76L132.96 128.01L132.96 125.46L132.96 123.1L132.96 120.9L132.96 118.86M141.54 379.5L141.54 359.97L141.54 341.84L141.54 325.01L141.54 309.37L141.54 294.86L141.54 281.38L141.54 268.86L141.54 257.24L141.54 246.45L141.54 236.43L141.54 227.13L141.54 218.49L141.54 210.47L141.54 203.02L141.54 196.1L141.54 189.68L141.54 183.72L141.54 178.18L141.54 173.04L141.54 168.26L141.54 163.83L141.54 159.72L141.54 155.89L141.54 152.35L141.54 149.05L141.54 145.99L141.54 143.15L141.54 140.51L141.54 138.06L141.54 135.79L141.54 133.67L141.54 131.71M150.13 379.5L150.13 361.01L150.13 343.83L150.13 327.87L150.13 313.04L150.13 299.27L150.13 286.47L150.13 274.57L150.13 263.53L150.13 253.26L150.13 243.72L150.13 234.86L150.13 226.63L150.13 218.98L150.13 211.88L150.13 205.28L150.13 199.14L150.13 193.44L150.13 188.15L150.13 183.23L150.13 178.66L150.13 174.41L150.13 170.47L150.13 166.8L150.13 163.4L150.13 160.24L150.13 157.3L150.13 154.57L150.13 152.03L150.13 149.67L150.13 147.48L150.13 145.45L150.13 143.56M158.71 379.5L158.71 361.91L158.71 345.57L158.71 330.37L158.71 316.25L158.71 303.12L158.71 290.91L158.71 279.56L158.71 269.02L158.71 259.21L158.71 250.1L158.71 241.63L158.71 233.75L158.71 226.43L158.71 219.63L158.71 213.3L158.71 207.42L158.71 201.96L158.71 196.88L158.71 192.15L158.71 187.76L158.71 183.68L158.71 179.89L158.71 176.36L158.71 173.08L158.71 170.03L158.71 167.2L158.71 164.57L158.71 162.12L158.71 159.85L158.71 157.73L158.71 155.76L158.71 153.94M167.3 379.5L167.3 362.65L167.3 346.99L167.3 332.42L167.3 318.87L167.3 306.27L167.3 294.55L167.3 283.65L167.3 273.51L167.3 264.09L167.3 255.32L167.3 247.17L167.3 239.59L167.3 232.53L167.3 225.98L167.3 219.88L167.3 214.21L167.3 208.93L167.3 204.03L167.3 199.47L167.3 195.22L167.3 191.28L167.3 187.61L167.3 184.2L167.3 181.02L167.3 178.07L167.3 175.33L167.3 172.78L167.3 170.4L167.3 168.19L167.3 166.14L167.3 164.23L167.3 162.46M175.88 379.5L175.88 363.2L175.88 348.04L175.88 333.93L175.88 320.81L175.88 308.6L175.88 297.24L175.88 286.67L175.88 276.84L175.88 267.7L175.88 259.19L175.88 251.27L175.88 243.91L175.88 237.06L175.88 230.69L175.88 224.76L175.88 219.24L175.88 214.11L175.88 209.34L175.88 204.89L175.88 200.76L175.88 196.92L175.88 193.34L175.88 190.02L175.88 186.92L175.88 184.04L175.88 181.36L175.88 178.87L175.88 176.55L175.88 174.4L175.88 172.39L175.88 170.52L175.88 168.79M184.47 379.5L184.47 363.54L184.47 348.68L184.47 334.86L184.47 322L184.47 310.03L184.47 298.9L184.47 288.53L184.47 278.89L184.47 269.92L184.47 261.57L184.47 253.8L184.47 246.57L184.47 239.84L184.47 233.58L184.47 227.76L184.47 222.34L184.47 217.3L184.47 212.6L184.47 208.24L184.47 204.17L184.47 200.39L184.47 196.87L184.47 193.6L184.47 190.55L184.47 187.72L184.47 185.08L184.47 182.62L184.47 180.34L184.47 178.21L184.47 176.24L184.47 174.4L184.47 172.68M193.05 379.5L193.05 363.65L193.05 348.9L193.05 335.18L193.05 322.4L193.05 310.52L193.05 299.46L193.05 289.16L193.05 279.58L193.05 270.67L193.05 262.37L193.05 254.65L193.05 247.47L193.05 240.78L193.05 234.56L193.05 228.77L193.05 223.39L193.05 218.37L193.05 213.71L193.05 209.36L193.05 205.32L193.05 201.56L193.05 198.06L193.05 194.81L193.05 191.78L193.05 188.96L193.05 186.33L193.05 183.89L193.05 181.62L193.05 179.5L193.05 177.54L193.05 175.7L193.05 174M201.63 379.5L201.63 363.54L201.63 348.68L201.63 334.86L201.63 322L201.63 310.03L201.63 298.9L201.63 288.53L201.63 278.89L201.63 269.92L201.63 261.57L201.63 253.8L201.63 246.57L201.63 239.84L201.63 233.58L201.63 227.76L201.63 222.34L201.63 217.3L201.63 212.6L201.63 208.24L201.63 204.17L201.63 200.39L201.63 196.87L201.63 193.6L201.63 190.55L201.63 187.72L201.63 185.08L201.63 182.62L201.63 180.34L201.63 178.21L201.63 176.24L201.63 174.4L201.63 172.68M210.22 379.5L210.22 363.2L210.22 348.04L210.22 333.93L210.22 320.81L210.22 308.6L210.22 297.24L210.22 286.67L210.22 276.84L210.22 267.7L210.22 259.19L210.22 251.27L210.22 243.91L210.22 237.06L210.22 230.69L210.22 224.76L210.22 219.24L210.22 214.11L210.22 209.34L210.22 204.89L210.22 200.76L210.22 196.92L210.22 193.34L210.22 190.02L210.22 186.92L210.22 184.04L210.22 181.36L210.22 178.87L210.22 176.55L210.22 174.4L210.22 172.39L210.22 170.52L210.22 168.79M218.8 379.5L218.8 362.65L218.8 346.99L218.8 332.42L218.8 318.87L218.8 306.27L218.8 294.55L218.8 283.65L218.8 273.51L218.8 264.09L218.8 255.32L218.8 247.17L218.8 239.59L218.8 232.53L218.8 225.98L218.8 219.88L218.8 214.21L218.8 208.93L218.8 204.03L218.8 199.47L218.8 195.22L218.8 191.28L218.8 187.61L218.8 184.2L218.8 181.02L218.8 178.07L218.8 175.33L218.8 172.78L218.8 170.4L218.8 168.19L218.8 166.14L218.8 164.23L218.8 162.46M227.39 379.5L227.39 361.91L227.39 345.57L227.39 330.37L227.39 316.25L227.39 303.12L227.39 290.91L227.39 279.56L227.39 269.02L227.39 259.21L227.39 250.1L227.39 241.63L227.39 233.75L227.39 226.43L227.39 219.63L227.39 213.3L227.39 207.42L227.39 201.96L227.39 196.88L227.39 192.15L227.39 187.76L227.39 183.68L227.39 179.89L227.39 176.36L227.39 173.08L227.39 170.03L227.39 167.2L227.39 164.57L227.39 162.12L227.39 159.85L227.39 157.73L227.39 155.76L227.39 153.94M235.97 379.5L235.97 361.01L235.97 343.83L235.97 327.87L235.97 313.04L235.97 299.27L235.97 286.47L235.97 274.57L235.97 263.53L235.97 253.26L235.97 243.72L235.97 234.86L235.97 226.63L235.97 218.98L235.97 211.88L235.97 205.28L235.97 199.14L235.97 193.44L235.97 188.15L235.97 183.23L235.97 178.66L235.97 174.41L235.97 170.47L235.97 166.8L235.97 163.4L235.97 160.24L235.97 157.3L235.97 154.57L235.97 152.03L235.97 149.67L235.97 147.48L235.97 145.45L235.97 143.56M244.56 379.5L244.56 359.97L244.56 341.84L244.56 325.01L244.56 309.37L244.56 294.86L244.56 281.38L244.56 268.86L244.56 257.24L244.56 246.45L244.56 236.43L244.56 227.13L244.56 218.49L244.56 210.47L244.56 203.02L244.56 196.1L244.56 189.68L244.56 183.72L244.56 178.18L244.56 173.04L244.56 168.26L244.56 163.83L244.56 159.72L244.56 155.89L244.56 152.35L244.56 149.05L244.56 145.99L244.56 143.15L244.56 140.51L244.56 138.06L244.56 135.79L244.56 133.67L244.56 131.71M253.14 379.5L253.14 358.84L253.14 339.67L253.14 321.88L253.14 305.37L253.14 290.05L253.14 275.84L253.14 262.64L253.14 250.4L253.14 239.04L253.14 228.49L253.14 218.71L253.14 209.63L253.14 201.2L253.14 193.38L253.14 186.13L253.14 179.39L253.14 173.15L253.14 167.35L253.14 161.97L253.14 156.97L253.14 152.34L253.14 148.04L253.14 144.05L253.14 140.34L253.14 136.91L253.14 133.72L253.14 130.76L253.14 128.01L253.14 125.46L253.14 123.1L253.14 120.9L253.14 118.86M261.72 379.5L261.72 357.66L261.72 337.4L261.72 318.62L261.72 301.2L261.72 285.04L261.72 270.05L261.72 256.15L261.72 243.26L261.72 231.3L261.72 220.22L261.72 209.93L261.72 200.39L261.72 191.55L261.72 183.34L261.72 175.73L261.72 168.68L261.72 162.13L261.72 156.06L261.72 150.43L261.72 145.21L261.72 140.37L261.72 135.88L261.72 131.71L261.72 127.85L261.72 124.27L261.72 120.94L261.72 117.86L261.72 115L261.72 112.35L261.72 109.89L261.72 107.61L261.72 105.5M270.31 379.5L270.31 356.47L270.31 335.13L270.31 315.34L270.31 297L270.31 280L270.31 264.24L270.31 249.64L270.31 236.1L270.31 223.55L270.31 211.91L270.31 201.13L270.31 191.13L270.31 181.87L270.31 173.28L270.31 165.32L270.31 157.94L270.31 151.1L270.31 144.76L270.31 138.89L270.31 133.44L270.31 128.39L270.31 123.71L270.31 119.37L270.31 115.35L270.31 111.62L270.31 108.17L270.31 104.96L270.31 101.99L270.31 99.24L270.31 96.69L270.31 94.33L270.31 92.14M278.89 379.5L278.89 355.32L278.89 332.93L278.89 312.18L278.89 292.95L278.89 275.14L278.89 258.64L278.89 243.35L278.89 229.19L278.89 216.07L278.89 203.91L278.89 192.65L278.89 182.21L278.89 172.54L278.89 163.59L278.89 155.29L278.89 147.6L278.89 140.48L278.89 133.88L278.89 127.77L278.89 122.11L278.89 116.86L278.89 112L278.89 107.49L278.89 103.32L278.89 99.46L278.89 95.87L278.89 92.56L278.89 89.48L278.89 86.63L278.89 84L278.89 81.55L278.89 79.29M287.48 379.5L287.48 354.26L287.48 330.89L287.48 309.25L287.48 289.21L287.48 270.65L287.48 253.46L287.48 237.54L287.48 222.8L287.48 209.16L287.48 196.52L287.48 184.81L287.48 173.97L287.48 163.93L287.48 154.64L287.48 146.03L287.48 138.06L287.48 130.68L287.48 123.84L287.48 117.51L287.48 111.65L287.48 106.22L287.48 101.2L287.48 96.54L287.48 92.23L287.48 88.24L287.48 84.54L287.48 81.12L287.48 77.95L287.48 75.01L287.48 72.29L287.48 69.77L287.48 67.44M296.06 379.5L296.06 353.33L296.06 329.1L296.06 306.67L296.06 285.91L296.06 266.7L296.06 248.91L296.06 232.44L296.06 217.2L296.06 203.08L296.06 190.02L296.06 177.93L296.06 166.74L296.06 156.38L296.06 146.78L296.06 137.9L296.06 129.69L296.06 122.08L296.06 115.03L296.06 108.51L296.06 102.48L296.06 96.89L296.06 91.72L296.06 86.93L296.06 82.5L296.06 78.4L296.06 74.6L296.06 71.09L296.06 67.83L296.06 64.82L296.06 62.03L296.06 59.45L296.06 57.06M304.65 379.5L304.65 352.56L304.65 327.63L304.65 304.56L304.65 283.21L304.65 263.45L304.65 245.16L304.65 228.24L304.65 212.58L304.65 198.09L304.65 184.68L304.65 172.27L304.65 160.79L304.65 150.16L304.65 140.33L304.65 131.23L304.65 122.81L304.65 115.01L304.65 107.8L304.65 101.12L304.65 94.95L304.65 89.23L304.65 83.94L304.65 79.05L304.65 74.52L304.65 70.33L304.65 66.45L304.65 62.86L304.65 59.53L304.65 56.46L304.65 53.61L304.65 50.98L304.65 48.54M313.23 379.5L313.23 351.99L313.23 326.53L313.23 302.98L313.23 281.19L313.23 261.03L313.23 242.38L313.23 225.12L313.23 209.15L313.23 194.38L313.23 180.71L313.23 168.07L313.23 156.37L313.23 145.54L313.23 135.53L313.23 126.26L313.23 117.69L313.23 109.76L313.23 102.42L313.23 95.63L313.23 89.35L313.23 83.54L313.23 78.16L313.23 73.18L313.23 68.58L313.23 64.32L313.23 60.38L313.23 56.74L313.23 53.36L313.23 50.24L313.23 47.36L313.23 44.69L313.23 42.21M321.82 379.5L321.82 351.63L321.82 325.85L321.82 302.01L321.82 279.95L321.82 259.54L321.82 240.66L321.82 223.19L321.82 207.04L321.82 192.09L321.82 178.26L321.82 165.47L321.82 153.64L321.82 142.7L321.82 132.57L321.82 123.2L321.82 114.54L321.82 106.52L321.82 99.11L321.82 92.25L321.82 85.9L321.82 80.03L321.82 74.6L321.82 69.57L321.82 64.93L321.82 60.63L321.82 56.65L321.82 52.97L321.82 49.57L321.82 46.42L321.82 43.5L321.82 40.81L321.82 38.32M330.4 379.5L330.4 351.51L330.4 325.63L330.4 301.68L330.4 279.53L330.4 259.03L330.4 240.08L330.4 222.54L330.4 206.32L330.4 191.32L330.4 177.44L330.4 164.6L330.4 152.72L330.4 141.73L330.4 131.57L330.4 122.17L330.4 113.47L330.4 105.43L330.4 97.99L330.4 91.1L330.4 84.73L330.4 78.84L330.4 73.39L330.4 68.35L330.4 63.69L330.4 59.38L330.4 55.39L330.4 51.7L330.4 48.28L330.4 45.12L330.4 42.2L330.4 39.5L330.4 37"/>
<path d="M460.6 325.9L468.11 307.44L475.62 291.79L483.14 281.33L490.65 277.66L498.16 281.33L505.68 291.79L513.19 307.44L520.7 325.9L528.21 344.36L535.73 360.01L543.24 370.47L550.75 374.14L558.26 370.47L565.77 360.01L573.29 344.36L580.8 325.9L588.31 307.44L595.83 291.79L603.34 281.33L610.85 277.66L618.36 281.33L625.88 291.79L633.39 307.44L640.9 325.9L648.41 344.36L655.93 360.01L663.44 370.47L670.95 374.14L678.46 370.47L685.98 360.01L693.49 344.36L701 325.9L701 324.05L693.49 342.42L685.98 357.98L678.46 368.37L670.95 372.01L663.44 368.34L655.93 357.92L648.41 342.33L640.9 323.93L633.39 305.53L625.88 289.91L618.36 279.46L610.85 275.77L603.34 279.41L595.83 289.82L588.31 305.4L580.8 323.79L573.29 342.17L565.77 357.75L558.26 368.17L550.75 371.84L543.24 368.21L535.73 357.83L528.21 342.28L520.7 323.93L513.19 305.58L505.68 290.02L498.16 279.62L490.65 275.98L483.14 279.65L475.62 290.08L468.11 305.67L460.6 324.05Z" fill="#2a2a2a" stroke="#2a2a2a" stroke-width="0.4"/>
<path d="M460.6 324.05L468.11 305.67L475.62 290.08L483.14 279.65L490.65 275.98L498.16 279.62L505.68 290.02L513.19 305.58L520.7 323.93L528.21 342.28L535.73 357.83L543.24 368.21L550.75 371.84L558.26 368.17L565.77 357.75L573.29 342.17L580.8 323.79L588.31 305.4L595.83 289.82L603.34 279.41L610.85 275.77L618.36 279.46L625.88 289.91L633.39 305.53L640.9 323.93L648.41 342.33L655.93 357.92L663.44 368.34L670.95 372.01L678.46 368.37L685.98 357.98L693.49 342.42L701 324.05L701 322.05L693.49 340.32L685.98 355.79L678.46 366.11L670.95 369.71L663.44 366.05L655.93 355.68L648.41 340.15L640.9 321.83L633.39 303.49L625.88 287.92L618.36 277.49L610.85 273.79L603.34 277.4L595.83 287.75L588.31 303.26L580.8 321.55L573.29 339.85L565.77 355.35L558.26 365.72L550.75 369.38L543.24 365.79L535.73 355.5L528.21 340.06L520.7 321.83L513.19 303.59L505.68 288.12L498.16 277.79L490.65 274.18L483.14 277.85L475.62 288.24L468.11 303.76L460.6 322.05Z" fill="#303030" stroke="#303030" stroke-width="0.4"/>
<path d="M460.6 322.05L468.11 303.76L475.62 288.24L483.14 277.85L490.65 274.18L498.16 277.79L505.68 288.12L513.19 303.59L520.7 321.83L528.21 340.06L535.73 355.5L543.24 365.79L550.75 369.38L558.26 365.72L565.77 355.35L573.29 339.85L580.8 321.55L588.31 303.26L595.83 287.75L603.34 277.4L610.85 273.79L618.36 277.49L625.88 287.92L633.39 303.49L640.9 321.83L648.41 340.15L655.93 355.68L663.44 366.05L670.95 369.71L678.46 366.11L685.98 355.79L693.49 340.32L701 322.05L701 319.85L693.49 338.01L685.98 353.37L678.46 363.61L670.95 367.18L663.44 363.54L655.93 353.22L648.41 337.78L640.9 319.55L633.39 301.29L625.88 285.78L618.36 275.38L610.85 271.68L603.34 275.25L595.83 285.54L588.31 300.97L580.8 319.16L573.29 337.35L565.77 352.76L558.26 363.07L550.75 366.72L543.24 363.17L535.73 352.97L528.21 337.65L520.7 319.55L513.19 301.43L505.68 286.05L498.16 275.79L490.65 272.21L483.14 275.88L475.62 286.22L468.11 301.67L460.6 319.85Z" fill="#353535" stroke="#353535" stroke-width="0.4"/>
<path d="M460.6 319.85L468.11 301.67L475.62 286.22L483.14 275.88L490.65 272.21L498.16 275.79L505.68 286.05L513.19 301.43L520.7 319.55L528.21 337.65L535.73 352.97L543.24 363.17L550.75 366.72L558.26 363.07L565.77 352.76L573.29 337.35L580.8 319.16L588.31 300.97L595.83 285.54L603.34 275.25L610.85 271.68L618.36 275.38L625.88 285.78L633.39 301.29L640.9 319.55L648.41 337.78L655.93 353.22L663.44 363.54L670.95 367.18L678.46 363.61L685.98 353.37L693.49 338.01L701 319.85L701 317.38L693.49 335.4L685.98 350.65L678.46 360.81L670.95 364.34L663.44 360.71L655.93 350.46L648.41 335.13L640.9 317.01L633.39 298.86L625.88 283.43L618.36 273.08L610.85 269.4L603.34 272.94L595.83 283.16L588.31 298.48L580.8 316.56L573.29 334.62L565.77 349.92L558.26 360.16L550.75 363.79L543.24 360.28L535.73 350.16L528.21 334.97L520.7 317.01L513.19 299.02L505.68 283.76L498.16 273.57L490.65 270.02L483.14 273.67L475.62 283.96L468.11 299.31L460.6 317.38Z" fill="#3d3d3d" stroke="#3d3d3d" stroke-width="0.4"/>
<path d="M460.6 317.38L468.11 299.31L475.62 283.96L483.14 273.67L490.65 270.02L498.16 273.57L505.68 283.76L513.19 299.02L520.7 317.01L528.21 334.97L535.73 350.16L543.24 360.28L550.75 363.79L558.26 360.16L565.77 349.92L573.29 334.62L580.8 316.56L588.31 298.48L595.83 283.16L603.34 272.94L610.85 269.4L618.36 273.08L625.88 283.43L633.39 298.86L640.9 317.01L648.41 335.13L655.93 350.46L663.44 360.71L670.95 364.34L678.46 360.81L685.98 350.65L693.49 335.4L701 317.38L701 314.52L693.49 332.4L685.98 347.5L678.46 357.56L670.95 361.06L663.44 357.46L655.93 347.3L648.41 332.1L640.9 314.14L633.39 296.13L625.88 280.82L618.36 270.54L610.85 266.88L603.34 270.4L595.83 280.54L588.31 295.75L580.8 313.67L573.29 331.57L565.77 346.74L558.26 356.88L550.75 360.48L543.24 357.01L535.73 346.99L528.21 331.94L520.7 314.14L513.19 296.3L505.68 281.16L498.16 271.05L490.65 267.53L483.14 271.15L475.62 281.37L468.11 296.6L460.6 314.52Z" fill="#474747" stroke="#474747" stroke-width="0.4"/>
<path d="M460.6 314.52L468.11 296.6L475.62 281.37L483.14 271.15L490.65 267.53L498.16 271.05L505.68 281.16L513.19 296.3L520.7 314.14L528.21 331.94L535.73 346.99L543.24 357.01L550.75 360.48L558.26 356.88L565.77 346.74L573.29 331.57L580.8 313.67L588.31 295.75L595.83 280.54L603.34 270.4L610.85 266.88L618.36 270.54L625.88 280.82L633.39 296.13L640.9 314.14L648.41 332.1L655.93 347.3L663.44 357.46L670.95 361.06L678.46 357.56L685.98 347.5L693.49 332.4L701 314.52L701 311.14L693.49 328.83L685.98 343.77L678.46 353.71L670.95 357.17L663.44 353.62L655.93 343.59L648.41 328.57L640.9 310.8L633.39 292.99L625.88 277.85L618.36 267.68L610.85 264.07L603.34 267.57L595.83 277.62L588.31 292.67L580.8 310.41L573.29 328.11L565.77 343.1L558.26 353.12L550.75 356.67L543.24 353.23L535.73 343.32L528.21 328.42L520.7 310.8L513.19 293.14L505.68 278.13L498.16 268.11L490.65 264.62L483.14 268.2L475.62 278.32L468.11 293.4L460.6 311.14Z" fill="#545454" stroke="#545454" stroke-width="0.4"/>
<path d="M460.6 311.14L468.11 293.4L475.62 278.32L483.14 268.2L490.65 264.62L498.16 268.11L505.68 278.13L513.19 293.14L520.7 310.8L528.21 328.42L535.73 343.32L543.24 353.23L550.75 356.67L558.26 353.12L565.77 343.1L573.29 328.11L580.8 310.41L588.31 292.67L595.83 277.62L603.34 267.57L610.85 264.07L618.36 267.68L625.88 277.85L633.39 292.99L640.9 310.8L648.41 328.57L655.93 343.59L663.44 353.62L670.95 357.17L678.46 353.71L685.98 343.77L693.49 328.83L701 311.14L701 307.04L693.49 324.49L685.98 339.22L678.46 349.04L670.95 352.46L663.44 348.99L655.93 339.12L648.41 324.34L640.9 306.85L633.39 289.31L625.88 274.4L618.36 264.41L610.85 260.88L603.34 264.36L595.83 274.3L588.31 289.16L580.8 306.66L573.29 324.11L565.77 338.86L558.26 348.71L550.75 352.19L543.24 348.77L535.73 338.97L528.21 324.26L520.7 306.85L513.19 289.39L505.68 274.54L498.16 264.61L490.65 261.14L483.14 264.66L475.62 274.64L468.11 289.53L460.6 307.04Z" fill="#656565" stroke="#656565" stroke-width="0.4"/>
<path d="M460.6 307.04L468.11 289.53L475.62 274.64L483.14 264.66L490.65 261.14L498.16 264.61L505.68 274.54L513.19 289.39L520.7 306.85L528.21 324.26L535.73 338.97L543.24 348.77L550.75 352.19L558.26 348.71L565.77 338.86L573.29 324.11L580.8 306.66L588.31 289.16L595.83 274.3L603.34 264.36L610.85 260.88L618.36 264.41L625.88 274.4L633.39 289.31L640.9 306.85L648.41 324.34L655.93 339.12L663.44 348.99L670.95 352.46L678.46 349.04L685.98 339.22L693.49 324.49L701 307.04L701 301.95L693.49 319.1L685.98 333.58L678.46 343.24L670.95 346.63L663.44 343.27L655.93 333.64L648.41 319.19L640.9 302.09L633.39 284.93L625.88 270.34L618.36 260.6L610.85 257.2L603.34 260.68L595.83 270.48L588.31 285.1L580.8 302.28L573.29 319.4L565.77 333.85L558.26 343.47L550.75 346.83L543.24 343.42L535.73 333.75L528.21 319.25L520.7 302.09L513.19 284.86L505.68 270.2L498.16 260.38L490.65 256.91L483.14 260.34L475.62 270.13L468.11 284.75L460.6 301.95Z" fill="#777777" stroke="#777777" stroke-width="0.4"/>
<path d="M460.6 301.95L468.11 284.75L475.62 270.13L483.14 260.34L490.65 256.91L498.16 260.38L505.68 270.2L513.19 284.86L520.7 302.09L528.21 319.25L535.73 333.75L543.24 343.42L550.75 346.83L558.26 343.47L565.77 333.85L573.29 319.4L580.8 302.28L588.31 285.1L595.83 270.48L603.34 260.68L610.85 257.2L618.36 260.6L625.88 270.34L633.39 284.93L640.9 302.09L648.41 319.19L655.93 333.64L663.44 343.27L670.95 346.63L678.46 343.24L685.98 333.58L693.49 319.1L701 301.95L701 295.57L693.49 312.32L685.98 326.48L678.46 335.94L670.95 339.31L663.44 336.12L655.93 326.83L648.41 312.85L640.9 296.27L633.39 279.63L625.88 265.52L618.36 256.12L610.85 252.92L603.34 256.41L595.83 266.05L588.31 280.36L580.8 297.13L573.29 313.8L565.77 327.84L558.26 337.15L550.75 340.34L543.24 336.93L535.73 327.39L528.21 313.14L520.7 296.27L513.19 279.33L505.68 264.89L498.16 255.18L490.65 251.7L483.14 254.98L475.62 264.51L468.11 278.77L460.6 295.57Z" fill="#8e8e8e" stroke="#8e8e8e" stroke-width="0.4"/>
<path d="M460.6 295.57L468.11 278.77L475.62 264.51L483.14 254.98L490.65 251.7L498.16 255.18L505.68 264.89L513.19 279.33L520.7 296.27L528.21 313.14L535.73 327.39L543.24 336.93L550.75 340.34L558.26 337.15L565.77 327.84L573.29 313.8L580.8 297.13L588.31 280.36L595.83 266.05L603.34 256.41L610.85 252.92L618.36 256.12L625.88 265.52L633.39 279.63L640.9 296.27L648.41 312.85L655.93 326.83L663.44 336.12L670.95 339.31L678.46 335.94L685.98 326.48L693.49 312.32L701 295.57L701 287.51L693.49 303.74L685.98 317.49L678.46 326.71L670.95 330.09L663.44 327.14L655.93 318.33L648.41 304.98L640.9 289.13L633.39 273.23L625.88 259.76L618.36 250.85L610.85 247.93L603.34 251.45L595.83 260.89L588.31 274.79L580.8 291.03L573.29 307.13L565.77 320.63L558.26 329.52L550.75 332.47L543.24 329.01L535.73 319.62L528.21 305.65L520.7 289.13L513.19 272.53L505.68 258.36L498.16 248.78L490.65 245.26L483.14 248.33L475.62 257.48L468.11 271.26L460.6 287.51Z" fill="#a7a7a7" stroke="#a7a7a7" stroke-width="0.4"/>
<path d="M460.6 287.51L468.11 271.26L475.62 257.48L483.14 248.33L490.65 245.26L498.16 248.78L505.68 258.36L513.19 272.53L520.7 289.13L528.21 305.65L535.73 319.62L543.24 329.01L550.75 332.47L558.26 329.52L565.77 320.63L573.29 307.13L580.8 291.03L588.31 274.79L595.83 260.89L603.34 251.45L610.85 247.93L618.36 250.85L625.88 259.76L633.39 273.23L640.9 289.13L648.41 304.98L655.93 318.33L663.44 327.14L670.95 330.09L678.46 326.71L685.98 317.49L693.49 303.74L701 287.51L701 277.4L693.49 292.95L685.98 306.17L678.46 315.11L670.95 318.51L663.44 315.92L655.93 307.76L648.41 295.28L640.9 280.42L633.39 265.5L625.88 252.91L618.36 244.67L610.85 242.12L603.34 245.71L595.83 254.9L588.31 268.3L580.8 283.85L573.29 299.2L565.77 312L558.26 320.33L550.75 322.94L543.24 319.4L535.73 310.16L528.21 296.52L520.7 280.42L513.19 264.23L505.68 250.37L498.16 240.93L490.65 237.33L483.14 240.09L475.62 248.73L468.11 261.86L460.6 277.4Z" fill="#bebebe" stroke="#bebebe" stroke-width="0.4"/>
<path d="M460.6 277.4L468.11 261.86L475.62 248.73L483.14 240.09L490.65 237.33L498.16 240.93L505.68 250.37L513.19 264.23L520.7 280.42L528.21 296.52L535.73 310.16L543.24 319.4L550.75 322.94L558.26 320.33L565.77 312L573.29 299.2L580.8 283.85L588.31 268.3L595.83 254.9L603.34 245.71L610.85 242.12L618.36 244.67L625.88 252.91L633.39 265.5L640.9 280.42L648.41 295.28L655.93 307.76L663.44 315.92L670.95 318.51L678.46 315.11L685.98 306.17L693.49 292.95L701 277.4L701 264.87L693.49 279.55L685.98 292.11L678.46 300.72L670.95 304.18L663.44 302.08L655.93 294.79L648.41 283.47L640.9 269.91L633.39 256.29L625.88 244.84L618.36 237.47L610.85 235.44L603.34 239.12L595.83 248.01L588.31 260.77L580.8 275.47L573.29 289.87L565.77 301.77L558.26 309.39L550.75 311.55L543.24 307.86L535.73 298.78L528.21 285.52L520.7 269.91L513.19 254.21L505.68 240.71L498.16 231.41L490.65 227.68L483.14 230.02L475.62 237.99L468.11 250.26L460.6 264.87Z" fill="#d0d0d0" stroke="#d0d0d0" stroke-width="0.4"/>
<path d="M460.6 264.87L468.11 250.26L475.62 237.99L483.14 230.02L490.65 227.68L498.16 231.41L505.68 240.71L513.19 254.21L520.7 269.91L528.21 285.52L535.73 298.78L543.24 307.86L550.75 311.55L558.26 309.39L565.77 301.77L573.29 289.87L580.8 275.47L588.31 260.77L595.83 248.01L603.34 239.12L610.85 235.44L618.36 237.47L625.88 244.84L633.39 256.29L640.9 269.91L648.41 283.47L655.93 294.79L663.44 302.08L670.95 304.18L678.46 300.72L685.98 292.11L693.49 279.55L701 264.87L701 249.66L693.49 263.27L685.98 275.01L678.46 283.22L670.95 286.8L663.44 285.35L655.93 279.19L648.41 269.35L640.9 257.46L633.39 245.49L625.88 235.5L618.36 229.23L610.85 227.83L603.34 231.65L595.83 240.19L588.31 252.19L580.8 265.84L573.29 279.07L565.77 289.86L558.26 296.57L550.75 298.15L543.24 294.26L535.73 285.33L528.21 272.49L520.7 257.46L513.19 242.33L505.68 229.25L498.16 220.1L490.65 216.17L483.14 217.95L475.62 225.05L468.11 236.22L460.6 249.66Z" fill="#e1e1e1" stroke="#e1e1e1" stroke-width="0.4"/>
<path d="M460.6 249.66L468.11 236.22L475.62 225.05L483.14 217.95L490.65 216.17L498.16 220.1L505.68 229.25L513.19 242.33L520.7 257.46L528.21 272.49L535.73 285.33L543.24 294.26L550.75 298.15L558.26 296.57L565.77 289.86L573.29 279.07L580.8 265.84L588.31 252.19L595.83 240.19L603.34 231.65L610.85 227.83L618.36 229.23L625.88 235.5L633.39 245.49L640.9 257.46L648.41 269.35L655.93 279.19L663.44 285.35L670.95 286.8L678.46 283.22L685.98 275.01L693.49 263.27L701 249.66L701 231.65L693.49 243.94L685.98 254.71L678.46 262.47L670.95 266.22L663.44 265.6L655.93 260.85L648.41 252.86L640.9 243.02L633.39 233.08L625.88 224.87L618.36 219.94L610.85 219.33L603.34 223.32L595.83 231.45L588.31 242.55L580.8 254.96L573.29 266.8L565.77 276.25L558.26 281.86L550.75 282.72L543.24 278.55L535.73 269.76L528.21 257.39L520.7 243.02L513.19 228.54L505.68 215.93L498.16 206.92L490.65 202.73L483.14 203.81L475.62 209.82L468.11 219.64L460.6 231.65Z" fill="#e2e2e2" stroke="#e2e2e2" stroke-width="0.4"/>
<path d="M460.6 231.65L468.11 219.64L475.62 209.82L483.14 203.81L490.65 202.73L498.16 206.92L505.68 215.93L513.19 228.54L520.7 243.02L528.21 257.39L535.73 269.76L543.24 278.55L550.75 282.72L558.26 281.86L565.77 276.25L573.29 266.8L580.8 254.96L588.31 242.55L595.83 231.45L603.34 223.32L610.85 219.33L618.36 219.94L625.88 224.87L633.39 233.08L640.9 243.02L648.41 252.86L655.93 260.85L663.44 265.6L670.95 266.22L678.46 262.47L685.98 254.71L693.49 243.94L701 231.65L701 210.86L693.49 221.61L685.98 231.25L678.46 238.5L670.95 242.49L663.44 242.87L655.93 239.82L648.41 234.03L640.9 226.64L633.39 219.12L625.88 213.01L618.36 209.67L610.85 209.98L603.34 214.19L595.83 221.86L588.31 231.92L580.8 242.9L573.29 253.12L565.77 261.01L558.26 265.33L550.75 265.32L543.24 260.8L535.73 252.14L528.21 240.29L520.7 226.64L513.19 212.89L505.68 200.8L498.16 191.94L490.65 187.41L483.14 187.64L475.62 192.34L468.11 200.56L460.6 210.86Z" fill="#e2e2e2" stroke="#e2e2e2" stroke-width="0.4"/>
<path d="M460.6 210.86L468.11 200.56L468.11 179.12L460.6 187.46Z" fill="#e3e3e3" stroke="#e3e3e3" stroke-width="0.4"/>
<path d="M468.11 200.56L475.62 192.34L483.14 187.64L490.65 187.41L498.16 191.94L505.68 200.8L513.19 212.89L520.7 226.64L528.21 240.29L528.21 221.33L520.7 208.47L513.19 195.52L505.68 184L498.16 175.28L490.65 170.34L483.14 169.58L475.62 172.77L468.11 179.12Z" fill="#e3e3e3" stroke="#e3e3e3" stroke-width="0.4"/>
<path d="M528.21 240.29L535.73 252.14L543.24 260.8L550.75 265.32L558.26 265.33L565.77 261.01L573.29 253.12L580.8 242.9L588.31 231.92L595.83 221.86L603.34 214.19L610.85 209.98L618.36 209.67L625.88 213.01L633.39 219.12L640.9 226.64L648.41 234.03L655.93 239.82L663.44 242.87L670.95 242.49L678.46 238.5L685.98 231.25L693.49 221.61L701 210.86L701 187.46L693.49 196.45L685.98 204.81L678.46 211.49L670.95 215.78L663.44 217.36L655.93 216.28L648.41 213.03L640.9 208.47L633.39 203.73L625.88 200.03L618.36 198.5L610.85 199.86L603.34 204.33L595.83 211.49L588.31 220.4L580.8 229.76L573.29 238.16L565.77 244.28L558.26 247.12L550.75 246.12L543.24 241.16L535.73 232.63L528.21 221.33Z" fill="#e3e3e3" stroke="#e3e3e3" stroke-width="0.4"/>
<path d="M460.6 187.46L468.11 179.12L468.11 156.13L460.6 162.45Z" fill="#e5e5e5" stroke="#e5e5e5" stroke-width="0.4"/>
<path d="M468.11 179.12L475.62 172.77L483.14 169.58L490.65 170.34L498.16 175.28L505.68 184L513.19 195.52L520.7 208.47L528.21 221.33L528.21 201.54L520.7 189.39L513.19 177.16L505.68 166.15L498.16 157.49L490.65 152.05L483.14 150.17L475.62 151.73L468.11 156.13Z" fill="#e4e4e4" stroke="#e4e4e4" stroke-width="0.4"/>
<path d="M528.21 221.33L535.73 232.63L543.24 241.16L550.75 246.12L558.26 247.12L565.77 244.28L573.29 238.16L580.8 229.76L588.31 220.4L595.83 211.49L603.34 204.33L610.85 199.86L618.36 198.5L625.88 200.03L633.39 203.73L640.9 208.47L648.41 213.03L655.93 216.28L663.44 217.36L670.95 215.78L678.46 211.49L685.98 204.81L693.49 196.45L701 187.46L701 162.45L693.49 169.66L685.98 176.78L678.46 182.97L670.95 187.66L663.44 190.52L655.93 191.53L648.41 190.97L640.9 189.39L633.39 187.59L625.88 186.47L618.36 186.88L610.85 189.39L603.34 194.15L595.83 200.8L588.31 208.54L580.8 216.26L573.29 222.79L565.77 227.1L558.26 228.42L550.75 226.36L543.24 220.89L535.73 212.38L528.21 201.54Z" fill="#e5e5e5" stroke="#e5e5e5" stroke-width="0.4"/>
<path d="M460.6 162.45L468.11 156.13L468.11 135.75L460.6 140.35Z" fill="#e9e9e9" stroke="#e9e9e9" stroke-width="0.4"/>
<path d="M468.11 156.13L475.62 151.73L483.14 150.17L490.65 152.05L498.16 157.49L505.68 166.15L513.19 177.16L520.7 189.39L528.21 201.54L528.21 183.88L520.7 172.34L513.19 160.73L505.68 150.14L498.16 141.55L490.65 135.67L483.14 132.85L475.62 133.02L468.11 135.75Z" fill="#e7e7e7" stroke="#e7e7e7" stroke-width="0.4"/>
<path d="M528.21 201.54L535.73 212.38L543.24 220.89L550.75 226.36L558.26 228.42L565.77 227.1L573.29 222.79L580.8 216.26L588.31 208.54L595.83 200.8L603.34 194.15L610.85 189.39L618.36 186.88L625.88 186.47L633.39 187.59L640.9 189.39L648.41 190.97L655.93 191.53L663.44 190.52L670.95 187.66L678.46 182.97L685.98 176.78L693.49 169.66L701 162.45L701 140.35L693.49 146.07L685.98 152.14L678.46 157.93L670.95 162.94L663.44 166.89L655.93 169.66L648.41 171.37L640.9 172.34L633.39 173.06L625.88 174.17L618.36 176.26L610.85 179.77L603.34 184.79L595.83 191L588.31 197.71L580.8 204L573.29 208.91L565.77 211.66L558.26 211.68L550.75 208.71L543.24 202.81L535.73 194.32L528.21 183.88Z" fill="#e9e9e9" stroke="#e9e9e9" stroke-width="0.4"/>
<path d="M460.6 140.35L468.11 135.75L468.11 118.22L460.6 121.43Z" fill="#eeeeee" stroke="#eeeeee" stroke-width="0.4"/>
<path d="M468.11 135.75L475.62 133.02L483.14 132.85L490.65 135.67L498.16 141.55L505.68 150.14L513.19 160.73L520.7 172.34L528.21 183.88L528.21 168.55L520.7 157.51L513.19 146.42L505.68 136.18L498.16 127.64L490.65 121.41L483.14 117.81L475.62 116.85L468.11 118.22Z" fill="#ebebeb" stroke="#ebebeb" stroke-width="0.4"/>
<path d="M528.21 183.88L535.73 194.32L543.24 202.81L550.75 208.71L558.26 211.68L565.77 211.66L573.29 208.91L580.8 204L588.31 197.71L595.83 191L595.83 182.2L588.31 188.04L580.8 193.13L573.29 196.7L565.77 198.15L558.26 197.1L550.75 193.39L543.24 187.13L535.73 178.67L528.21 168.55Z" fill="#eeeeee" stroke="#eeeeee" stroke-width="0.4"/>
<path d="M595.83 191L603.34 184.79L610.85 179.77L618.36 176.26L625.88 174.17L633.39 173.06L640.9 172.34L648.41 171.37L648.41 154.47L640.9 157.51L633.39 160.32L625.88 163.27L618.36 166.78L610.85 171.13L603.34 176.36L595.83 182.2Z" fill="#f0f0f0" stroke="#f0f0f0" stroke-width="0.4"/>
<path d="M648.41 171.37L655.93 169.66L663.44 166.89L670.95 162.94L678.46 157.93L685.98 152.14L693.49 146.07L701 140.35L701 121.43L693.49 125.94L685.98 131.16L678.46 136.62L670.95 141.9L663.44 146.72L655.93 150.91L648.41 154.47Z" fill="#eeeeee" stroke="#eeeeee" stroke-width="0.4"/>
<path d="M460.6 121.43L468.11 118.22L468.11 103.56L460.6 105.7Z" fill="#f2f2f2" stroke="#f2f2f2" stroke-width="0.4"/>
<path d="M468.11 118.22L475.62 116.85L483.14 117.81L490.65 121.41L498.16 127.64L505.68 136.18L513.19 146.42L520.7 157.51L528.21 168.55L528.21 155.6L520.7 144.96L513.19 134.27L505.68 124.32L498.16 115.82L490.65 109.31L483.14 105.11L475.62 103.25L468.11 103.56Z" fill="#f0f0f0" stroke="#f0f0f0" stroke-width="0.4"/>
<path d="M528.21 168.55L535.73 178.67L543.24 187.13L550.75 193.39L558.26 197.1L565.77 198.15L573.29 196.7L580.8 193.13L580.8 183.71L573.29 186.21L565.77 186.64L558.26 184.74L550.75 180.45L543.24 173.91L535.73 165.47L528.21 155.6Z" fill="#f2f2f2" stroke="#f2f2f2" stroke-width="0.4"/>
<path d="M580.8 193.13L588.31 188.04L595.83 182.2L603.34 176.36L603.34 168.93L595.83 174.46L588.31 179.59L580.8 183.71Z" fill="#f4f4f4" stroke="#f4f4f4" stroke-width="0.4"/>
<path d="M603.34 176.36L610.85 171.13L618.36 166.78L625.88 163.27L633.39 160.32L633.39 149.41L625.88 153.84L618.36 158.48L610.85 163.51L603.34 168.93Z" fill="#f0f0f0" stroke="#f0f0f0" stroke-width="0.4"/>
<path d="M633.39 160.32L640.9 157.51L648.41 154.47L655.93 150.91L663.44 146.72L670.95 141.9L678.46 136.62L685.98 131.16L693.49 125.94L701 121.43L701 105.7L693.49 109.27L685.98 113.85L678.46 119.04L670.95 124.53L663.44 130.01L655.93 135.31L648.41 140.29L640.9 144.96L633.39 149.41Z" fill="#f4f4f4" stroke="#f4f4f4" stroke-width="0.4"/>
<path d="M460.6 105.7L468.11 103.56L468.11 91.6L460.6 92.94Z" fill="#f0f0f0" stroke="#f0f0f0" stroke-width="0.4"/>
<path d="M468.11 103.56L475.62 103.25L483.14 105.11L490.65 109.31L498.16 115.82L505.68 124.32L513.19 134.27L520.7 144.96L528.21 155.6L528.21 144.91L520.7 134.56L513.19 124.19L505.68 114.45L498.16 105.98L490.65 99.27L483.14 94.6L475.62 92.08L468.11 91.6Z" fill="#f4f4f4" stroke="#f4f4f4" stroke-width="0.4"/>
<path d="M528.21 155.6L535.73 165.47L543.24 173.91L550.75 180.45L558.26 184.74L565.77 186.64L573.29 186.21L573.29 177.37L565.77 177.02L558.26 174.47L550.75 169.75L543.24 163.01L535.73 154.58L528.21 144.91Z" fill="#f0f0f0" stroke="#f0f0f0" stroke-width="0.4"/>
<path d="M573.29 186.21L580.8 183.71L588.31 179.59L595.83 174.46L595.83 167.76L588.31 172.34L580.8 175.7L573.29 177.37Z" fill="#e3e3e3" stroke="#e3e3e3" stroke-width="0.4"/>
<path d="M595.83 174.46L603.34 168.93L603.34 162.47L595.83 167.76Z" fill="#d6d6d6" stroke="#d6d6d6" stroke-width="0.4"/>
<path d="M603.34 168.93L610.85 163.51L618.36 158.48L625.88 153.84L633.39 149.41L633.39 140.26L625.88 145.82L618.36 151.35L610.85 156.91L603.34 162.47Z" fill="#cccccc" stroke="#cccccc" stroke-width="0.4"/>
<path d="M633.39 149.41L640.9 144.96L648.41 140.29L655.93 135.31L655.93 122.63L648.41 128.68L640.9 134.56L633.39 140.26Z" fill="#d6d6d6" stroke="#d6d6d6" stroke-width="0.4"/>
<path d="M655.93 135.31L663.44 130.01L670.95 124.53L678.46 119.04L685.98 113.85L693.49 109.27L701 105.7L701 92.94L693.49 95.81L685.98 99.9L678.46 104.91L670.95 110.54L663.44 116.52L655.93 122.63Z" fill="#e3e3e3" stroke="#e3e3e3" stroke-width="0.4"/>
<path d="M460.6 92.94L468.11 91.6L468.11 81.96L460.6 82.72Z" fill="#d6d6d6" stroke="#d6d6d6" stroke-width="0.4"/>
<path d="M468.11 91.6L475.62 92.08L483.14 94.6L490.65 99.27L498.16 105.98L505.68 114.45L513.19 124.19L520.7 134.56L528.21 144.91L528.21 136.18L520.7 126.06L513.19 115.92L505.68 106.34L498.16 97.9L490.65 91.03L483.14 86.03L475.62 83.01L468.11 81.96Z" fill="#e3e3e3" stroke="#e3e3e3" stroke-width="0.4"/>
<path d="M528.21 144.91L535.73 154.58L543.24 163.01L550.75 169.75L558.26 174.47L565.77 177.02L565.77 169.08L558.26 166.06L550.75 161.01L543.24 154.12L535.73 145.71L528.21 136.18Z" fill="#d6d6d6" stroke="#d6d6d6" stroke-width="0.4"/>
<path d="M565.77 177.02L573.29 177.37L580.8 175.7L588.31 172.34L588.31 166.18L580.8 168.97L573.29 170.02L565.77 169.08Z" fill="#cccccc" stroke="#cccccc" stroke-width="0.4"/>
<path d="M588.31 172.34L595.83 167.76L595.83 162.02L588.31 166.18Z" fill="#c1c1c1" stroke="#c1c1c1" stroke-width="0.4"/>
<path d="M595.83 167.76L603.34 162.47L603.34 156.92L595.83 162.02Z" fill="#b5b5b5" stroke="#b5b5b5" stroke-width="0.4"/>
<path d="M603.34 162.47L610.85 156.91L618.36 151.35L625.88 145.82L633.39 140.26L640.9 134.56L640.9 126.06L633.39 132.68L625.88 139.08L618.36 145.28L610.85 151.25L603.34 156.92Z" fill="#adadad" stroke="#adadad" stroke-width="0.4"/>
<path d="M640.9 134.56L648.41 128.68L655.93 122.63L663.44 116.52L663.44 105.77L655.93 112.46L648.41 119.28L640.9 126.06Z" fill="#b5b5b5" stroke="#b5b5b5" stroke-width="0.4"/>
<path d="M663.44 116.52L670.95 110.54L678.46 104.91L685.98 99.9L693.49 95.81L701 92.94L701 82.72L693.49 85.09L685.98 88.84L678.46 93.71L670.95 99.44L663.44 105.77Z" fill="#c1c1c1" stroke="#c1c1c1" stroke-width="0.4"/>
<path d="M460.6 82.72L468.11 81.96L468.11 74.19L460.6 74.53Z" fill="#c1c1c1" stroke="#c1c1c1" stroke-width="0.4"/>
<path d="M468.11 81.96L475.62 83.01L483.14 86.03L490.65 91.03L498.16 97.9L505.68 106.34L513.19 115.92L520.7 126.06L528.21 136.18L528.21 129.06L520.7 119.1L513.19 109.13L505.68 99.67L498.16 91.25L490.65 84.27L483.14 79.02L475.62 75.66L468.11 74.19Z" fill="#cccccc" stroke="#cccccc" stroke-width="0.4"/>
<path d="M528.21 136.18L535.73 145.71L543.24 154.12L550.75 161.01L558.26 166.06L558.26 159.16L550.75 153.88L543.24 146.88L535.73 138.48L528.21 129.06Z" fill="#c1c1c1" stroke="#c1c1c1" stroke-width="0.4"/>
<path d="M558.26 166.06L565.77 169.08L573.29 170.02L580.8 168.97L580.8 163.3L573.29 163.89L565.77 162.53L558.26 159.16Z" fill="#b5b5b5" stroke="#b5b5b5" stroke-width="0.4"/>
<path d="M580.8 168.97L588.31 166.18L588.31 160.94L580.8 163.3Z" fill="#adadad" stroke="#adadad" stroke-width="0.4"/>
<path d="M588.31 166.18L595.83 162.02L595.83 157.1L588.31 160.94Z" fill="#a4a4a4" stroke="#a4a4a4" stroke-width="0.4"/>
<path d="M595.83 162.02L603.34 156.92L603.34 152.14L595.83 157.1Z" fill="#9d9d9d" stroke="#9d9d9d" stroke-width="0.4"/>
<path d="M603.34 156.92L610.85 151.25L618.36 145.28L625.88 139.08L633.39 132.68L640.9 126.06L648.41 119.28L648.41 111.68L640.9 119.1L633.39 126.39L625.88 133.42L618.36 140.11L610.85 146.4L603.34 152.14Z" fill="#979797" stroke="#979797" stroke-width="0.4"/>
<path d="M648.41 119.28L655.93 112.46L663.44 105.77L670.95 99.44L670.95 90.62L663.44 97.21L655.93 104.31L648.41 111.68Z" fill="#9d9d9d" stroke="#9d9d9d" stroke-width="0.4"/>
<path d="M670.95 99.44L678.46 93.71L685.98 88.84L693.49 85.09L701 82.72L701 74.53L693.49 76.55L685.98 80.05L678.46 84.82L670.95 90.62Z" fill="#a4a4a4" stroke="#a4a4a4" stroke-width="0.4"/>
<path d="M460.6 74.53L468.11 74.19L468.11 67.85L460.6 67.89Z" fill="#adadad" stroke="#adadad" stroke-width="0.4"/>
<path d="M468.11 74.19L475.62 75.66L483.14 79.02L490.65 84.27L498.16 91.25L505.68 99.67L513.19 109.13L520.7 119.1L528.21 129.06L528.21 123.18L520.7 113.34L513.19 103.49L505.68 94.13L498.16 85.72L490.65 78.66L483.14 73.24L475.62 69.62L468.11 67.85Z" fill="#b5b5b5" stroke="#b5b5b5" stroke-width="0.4"/>
<path d="M528.21 129.06L535.73 138.48L543.24 146.88L550.75 153.88L558.26 159.16L558.26 153.43L550.75 147.99L543.24 140.91L535.73 132.52L528.21 123.18Z" fill="#adadad" stroke="#adadad" stroke-width="0.4"/>
<path d="M558.26 159.16L565.77 162.53L573.29 163.89L573.29 158.73L565.77 157.05L558.26 153.43Z" fill="#a4a4a4" stroke="#a4a4a4" stroke-width="0.4"/>
<path d="M573.29 163.89L580.8 163.3L580.8 158.48L573.29 158.73Z" fill="#9d9d9d" stroke="#9d9d9d" stroke-width="0.4"/>
<path d="M580.8 163.3L588.31 160.94L588.31 156.44L580.8 158.48Z" fill="#979797" stroke="#979797" stroke-width="0.4"/>
<path d="M588.31 160.94L595.83 157.1L595.83 152.84L588.31 156.44Z" fill="#919191" stroke="#919191" stroke-width="0.4"/>
<path d="M595.83 157.1L603.34 152.14L610.85 146.4L610.85 142.19L603.34 147.99L595.83 152.84Z" fill="#8b8b8b" stroke="#8b8b8b" stroke-width="0.4"/>
<path d="M610.85 146.4L618.36 140.11L625.88 133.42L633.39 126.39L640.9 119.1L648.41 111.68L648.41 105.46L640.9 113.34L633.39 121.12L625.88 128.61L618.36 135.68L610.85 142.19Z" fill="#868686" stroke="#868686" stroke-width="0.4"/>
<path d="M648.41 111.68L655.93 104.31L663.44 97.21L670.95 90.62L678.46 84.82L685.98 80.05L693.49 76.55L701 74.53L701 67.89L693.49 69.65L685.98 72.98L678.46 77.68L670.95 83.53L663.44 90.29L655.93 97.69L648.41 105.46Z" fill="#8b8b8b" stroke="#8b8b8b" stroke-width="0.4"/>
<path d="M460.6 67.89L468.11 67.85L468.11 62.55L460.6 62.37Z" fill="#9d9d9d" stroke="#9d9d9d" stroke-width="0.4"/>
<path d="M468.11 67.85L475.62 69.62L483.14 73.24L490.65 78.66L498.16 85.72L505.68 94.13L513.19 103.49L520.7 113.34L528.21 123.18L528.21 118.21L520.7 108.47L513.19 98.71L505.68 89.41L498.16 81.02L490.65 73.9L483.14 68.35L475.62 64.54L468.11 62.55Z" fill="#a4a4a4" stroke="#a4a4a4" stroke-width="0.4"/>
<path d="M528.21 123.18L535.73 132.52L543.24 140.91L550.75 147.99L550.75 143L543.24 135.88L535.73 127.49L528.21 118.21Z" fill="#9d9d9d" stroke="#9d9d9d" stroke-width="0.4"/>
<path d="M550.75 147.99L558.26 153.43L565.77 157.05L565.77 152.38L558.26 148.58L550.75 143Z" fill="#979797" stroke="#979797" stroke-width="0.4"/>
<path d="M565.77 157.05L573.29 158.73L580.8 158.48L580.8 154.31L573.29 154.3L565.77 152.38Z" fill="#919191" stroke="#919191" stroke-width="0.4"/>
<path d="M580.8 158.48L588.31 156.44L588.31 152.51L580.8 154.31Z" fill="#8b8b8b" stroke="#8b8b8b" stroke-width="0.4"/>
<path d="M588.31 156.44L595.83 152.84L595.83 149.09L588.31 152.51Z" fill="#868686" stroke="#868686" stroke-width="0.4"/>
<path d="M595.83 152.84L603.34 147.99L603.34 144.33L595.83 149.09Z" fill="#818181" stroke="#818181" stroke-width="0.4"/>
<path d="M603.34 147.99L610.85 142.19L618.36 135.68L625.88 128.61L633.39 121.12L640.9 113.34L648.41 105.46L655.93 97.69L663.44 90.29L663.44 84.56L655.93 92.17L648.41 100.24L640.9 108.47L633.39 116.61L625.88 124.45L618.36 131.79L610.85 138.48L603.34 144.33Z" fill="#7c7c7c" stroke="#7c7c7c" stroke-width="0.4"/>
<path d="M663.44 90.29L670.95 83.53L678.46 77.68L685.98 72.98L693.49 69.65L701 67.89L701 62.37L693.49 63.94L685.98 67.14L678.46 71.78L670.95 77.67L663.44 84.56Z" fill="#818181" stroke="#818181" stroke-width="0.4"/>
<path d="M460.6 62.37L468.11 62.55L468.11 57.99L460.6 57.64Z" fill="#919191" stroke="#919191" stroke-width="0.4"/>
<path d="M468.11 62.55L475.62 64.54L483.14 68.35L490.65 73.9L498.16 81.02L505.68 89.41L513.19 98.71L520.7 108.47L528.21 118.21L528.21 113.9L520.7 104.23L513.19 94.55L505.68 85.3L498.16 76.91L490.65 69.75L483.14 64.1L475.62 60.15L468.11 57.99Z" fill="#979797" stroke="#979797" stroke-width="0.4"/>
<path d="M528.21 118.21L535.73 127.49L543.24 135.88L550.75 143L550.75 138.68L543.24 131.51L535.73 123.13L528.21 113.9Z" fill="#919191" stroke="#919191" stroke-width="0.4"/>
<path d="M550.75 143L558.26 148.58L565.77 152.38L565.77 148.3L558.26 144.35L550.75 138.68Z" fill="#8b8b8b" stroke="#8b8b8b" stroke-width="0.4"/>
<path d="M565.77 152.38L573.29 154.3L573.29 150.4L565.77 148.3Z" fill="#868686" stroke="#868686" stroke-width="0.4"/>
<path d="M573.29 154.3L580.8 154.31L588.31 152.51L588.31 149L580.8 150.61L573.29 150.4Z" fill="#818181" stroke="#818181" stroke-width="0.4"/>
<path d="M588.31 152.51L595.83 149.09L595.83 145.73L588.31 149Z" fill="#7c7c7c" stroke="#7c7c7c" stroke-width="0.4"/>
<path d="M595.83 149.09L603.34 144.33L610.85 138.48L610.85 135.15L603.34 141.03L595.83 145.73Z" fill="#777777" stroke="#777777" stroke-width="0.4"/>
<path d="M610.85 138.48L618.36 131.79L625.88 124.45L633.39 116.61L640.9 108.47L648.41 100.24L655.93 92.17L663.44 84.56L670.95 77.67L670.95 72.69L663.44 79.67L655.93 87.45L648.41 95.73L640.9 104.23L633.39 112.66L625.88 120.76L618.36 128.32L610.85 135.15Z" fill="#737373" stroke="#737373" stroke-width="0.4"/>
<path d="M670.95 77.67L678.46 71.78L685.98 67.14L693.49 63.94L701 62.37L701 57.64L693.49 59.07L685.98 62.17L678.46 66.77L670.95 72.69Z" fill="#777777" stroke="#777777" stroke-width="0.4"/>
<path d="M460.6 57.64L468.11 57.99L468.11 53.95L460.6 53.47Z" fill="#868686" stroke="#868686" stroke-width="0.4"/>
<path d="M468.11 57.99L475.62 60.15L483.14 64.1L490.65 69.75L498.16 76.91L505.68 85.3L513.19 94.55L520.7 104.23L528.21 113.9L528.21 110.06L520.7 100.44L513.19 90.82L505.68 81.62L498.16 73.24L490.65 66.04L483.14 60.31L475.62 56.24L468.11 53.95Z" fill="#8b8b8b" stroke="#8b8b8b" stroke-width="0.4"/>
<path d="M528.21 113.9L535.73 123.13L543.24 131.51L550.75 138.68L550.75 134.82L543.24 127.62L535.73 119.24L528.21 110.06Z" fill="#868686" stroke="#868686" stroke-width="0.4"/>
<path d="M550.75 138.68L558.26 144.35L565.77 148.3L565.77 144.63L558.26 140.57L550.75 134.82Z" fill="#818181" stroke="#818181" stroke-width="0.4"/>
<path d="M565.77 148.3L573.29 150.4L573.29 146.88L565.77 144.63Z" fill="#7c7c7c" stroke="#7c7c7c" stroke-width="0.4"/>
<path d="M573.29 150.4L580.8 150.61L588.31 149L588.31 145.8L580.8 147.25L573.29 146.88Z" fill="#777777" stroke="#777777" stroke-width="0.4"/>
<path d="M588.31 149L595.83 145.73L595.83 142.64L588.31 145.8Z" fill="#737373" stroke="#737373" stroke-width="0.4"/>
<path d="M595.83 145.73L603.34 141.03L610.85 135.15L618.36 128.32L618.36 125.15L610.85 132.09L603.34 138L595.83 142.64Z" fill="#6e6e6e" stroke="#6e6e6e" stroke-width="0.4"/>
<path d="M618.36 128.32L625.88 120.76L633.39 112.66L640.9 104.23L640.9 100.44L633.39 109.09L625.88 117.41L618.36 125.15Z" fill="#696969" stroke="#696969" stroke-width="0.4"/>
<path d="M640.9 104.23L648.41 95.73L655.93 87.45L663.44 79.67L670.95 72.69L678.46 66.77L685.98 62.17L693.49 59.07L701 57.64L701 53.47L693.49 54.78L685.98 57.8L678.46 62.37L670.95 68.3L663.44 75.36L655.93 83.27L648.41 91.73L640.9 100.44Z" fill="#6e6e6e" stroke="#6e6e6e" stroke-width="0.4"/>
<path d="M460.6 53.47L468.11 53.95L468.11 50.26L460.6 49.68Z" fill="#7c7c7c" stroke="#7c7c7c" stroke-width="0.4"/>
<path d="M468.11 53.95L475.62 56.24L483.14 60.31L490.65 66.04L498.16 73.24L505.68 81.62L513.19 90.82L520.7 100.44L528.21 110.06L528.21 106.53L520.7 96.97L513.19 87.4L505.68 78.23L498.16 69.86L490.65 62.64L483.14 56.84L475.62 52.67L468.11 50.26Z" fill="#818181" stroke="#818181" stroke-width="0.4"/>
<path d="M528.21 110.06L535.73 119.24L543.24 127.62L550.75 134.82L550.75 131.28L543.24 124.05L535.73 115.69L528.21 106.53Z" fill="#7c7c7c" stroke="#7c7c7c" stroke-width="0.4"/>
<path d="M550.75 134.82L558.26 140.57L565.77 144.63L565.77 141.26L558.26 137.09L550.75 131.28Z" fill="#777777" stroke="#777777" stroke-width="0.4"/>
<path d="M565.77 144.63L573.29 146.88L580.8 147.25L580.8 144.14L573.29 143.63L565.77 141.26Z" fill="#737373" stroke="#737373" stroke-width="0.4"/>
<path d="M580.8 147.25L588.31 145.8L588.31 142.81L580.8 144.14Z" fill="#6e6e6e" stroke="#6e6e6e" stroke-width="0.4"/>
<path d="M588.31 145.8L595.83 142.64L603.34 138L610.85 132.09L610.85 129.23L603.34 135.16L595.83 139.76L588.31 142.81Z" fill="#696969" stroke="#696969" stroke-width="0.4"/>
<path d="M610.85 132.09L618.36 125.15L625.88 117.41L633.39 109.09L640.9 100.44L648.41 91.73L655.93 83.27L663.44 75.36L670.95 68.3L678.46 62.37L678.46 58.38L670.95 64.34L663.44 71.46L655.93 79.48L648.41 88.08L640.9 96.97L633.39 105.81L625.88 114.31L618.36 122.2L610.85 129.23Z" fill="#646464" stroke="#646464" stroke-width="0.4"/>
<path d="M678.46 62.37L685.98 57.8L693.49 54.78L701 53.47L701 49.68L693.49 50.89L685.98 53.84L678.46 58.38Z" fill="#696969" stroke="#696969" stroke-width="0.4"/>
<path d="M460.6 49.68L468.11 50.26L468.11 46.83L460.6 46.15Z" fill="#737373" stroke="#737373" stroke-width="0.4"/>
<path d="M468.11 50.26L475.62 52.67L483.14 56.84L490.65 62.64L498.16 69.86L505.68 78.23L513.19 87.4L520.7 96.97L528.21 106.53L528.21 103.24L520.7 93.71L513.19 84.19L505.68 75.05L498.16 66.69L490.65 59.44L483.14 53.59L475.62 49.34L468.11 46.83Z" fill="#777777" stroke="#777777" stroke-width="0.4"/>
<path d="M528.21 106.53L535.73 115.69L543.24 124.05L550.75 131.28L550.75 127.97L543.24 120.72L535.73 112.36L528.21 103.24Z" fill="#737373" stroke="#737373" stroke-width="0.4"/>
<path d="M550.75 131.28L558.26 137.09L565.77 141.26L565.77 138.09L558.26 133.84L550.75 127.97Z" fill="#6e6e6e" stroke="#6e6e6e" stroke-width="0.4"/>
<path d="M565.77 141.26L573.29 143.63L580.8 144.14L580.8 141.19L573.29 140.56L565.77 138.09Z" fill="#696969" stroke="#696969" stroke-width="0.4"/>
<path d="M580.8 144.14L588.31 142.81L595.83 139.76L603.34 135.16L603.34 132.45L595.83 137.01L588.31 139.98L580.8 141.19Z" fill="#646464" stroke="#646464" stroke-width="0.4"/>
<path d="M603.34 135.16L610.85 129.23L618.36 122.2L625.88 114.31L633.39 105.81L640.9 96.97L648.41 88.08L655.93 79.48L663.44 71.46L670.95 64.34L678.46 58.38L685.98 53.84L693.49 50.89L701 49.68L701 46.15L693.49 47.28L685.98 50.17L678.46 54.69L670.95 60.66L663.44 67.84L655.93 75.94L648.41 84.68L640.9 93.71L633.39 102.72L625.88 111.38L618.36 119.39L610.85 126.5L603.34 132.45Z" fill="#5e5e5e" stroke="#5e5e5e" stroke-width="0.4"/>
<path d="M460.6 46.15L468.11 46.83L468.11 43.58L460.6 42.81Z" fill="#696969" stroke="#696969" stroke-width="0.4"/>
<path d="M468.11 46.83L475.62 49.34L483.14 53.59L490.65 59.44L498.16 66.69L505.68 75.05L513.19 84.19L520.7 93.71L528.21 103.24L528.21 100.1L520.7 90.61L513.19 81.13L505.68 72.02L498.16 63.67L490.65 56.4L483.14 50.49L475.62 46.17L468.11 43.58Z" fill="#6e6e6e" stroke="#6e6e6e" stroke-width="0.4"/>
<path d="M528.21 103.24L535.73 112.36L543.24 120.72L550.75 127.97L550.75 124.82L543.24 117.55L535.73 109.19L528.21 100.1Z" fill="#696969" stroke="#696969" stroke-width="0.4"/>
<path d="M550.75 127.97L558.26 133.84L565.77 138.09L573.29 140.56L573.29 137.63L565.77 135.06L558.26 130.73L550.75 124.82Z" fill="#646464" stroke="#646464" stroke-width="0.4"/>
<path d="M573.29 140.56L580.8 141.19L588.31 139.98L595.83 137.01L603.34 132.45L603.34 129.84L595.83 134.37L588.31 137.26L580.8 138.37L573.29 137.63Z" fill="#5e5e5e" stroke="#5e5e5e" stroke-width="0.4"/>
<path d="M603.34 132.45L610.85 126.5L618.36 119.39L625.88 111.38L633.39 102.72L640.9 93.71L648.41 84.68L655.93 75.94L663.44 67.84L670.95 60.66L678.46 54.69L685.98 50.17L693.49 47.28L701 46.15L701 42.81L693.49 43.86L685.98 46.7L678.46 51.2L670.95 57.18L663.44 64.4L655.93 72.6L648.41 81.44L640.9 90.61L633.39 99.76L625.88 108.56L618.36 116.69L610.85 123.88L603.34 129.84Z" fill="#585858" stroke="#585858" stroke-width="0.4"/>
<path d="M460.6 42.81L468.11 43.58L468.11 40.44L460.6 39.59Z" fill="#5e5e5e" stroke="#5e5e5e" stroke-width="0.4"/>
<path d="M468.11 43.58L475.62 46.17L483.14 50.49L490.65 56.4L498.16 63.67L505.68 72.02L513.19 81.13L520.7 90.61L528.21 100.1L528.21 97.07L520.7 87.62L513.19 78.17L505.68 69.1L498.16 60.75L490.65 53.46L483.14 47.5L475.62 43.11L468.11 40.44Z" fill="#646464" stroke="#646464" stroke-width="0.4"/>
<path d="M528.21 100.1L535.73 109.19L543.24 117.55L550.75 124.82L558.26 130.73L558.26 127.73L550.75 121.78L543.24 114.48L535.73 106.14L528.21 97.07Z" fill="#5e5e5e" stroke="#5e5e5e" stroke-width="0.4"/>
<path d="M558.26 130.73L565.77 135.06L573.29 137.63L580.8 138.37L588.31 137.26L595.83 134.37L595.83 131.79L588.31 134.61L580.8 135.62L573.29 134.79L565.77 132.13L558.26 127.73Z" fill="#585858" stroke="#585858" stroke-width="0.4"/>
<path d="M595.83 134.37L603.34 129.84L610.85 123.88L618.36 116.69L625.88 108.56L633.39 99.76L640.9 90.61L648.41 81.44L655.93 72.6L663.44 64.4L670.95 57.18L678.46 51.2L685.98 46.7L693.49 43.86L701 42.81L701 39.59L693.49 40.58L685.98 43.37L678.46 47.85L670.95 53.84L663.44 61.11L655.93 69.37L648.41 78.33L640.9 87.62L633.39 96.9L625.88 105.83L618.36 114.07L610.85 121.32L603.34 127.3L595.83 131.79Z" fill="#515151" stroke="#515151" stroke-width="0.4"/>
<path d="M460.6 39.59L468.11 40.44L468.11 37.39L460.6 36.46Z" fill="#515151" stroke="#515151" stroke-width="0.4"/>
<path d="M468.11 40.44L475.62 43.11L483.14 47.5L490.65 53.46L498.16 60.75L505.68 69.1L513.19 78.17L520.7 87.62L528.21 97.07L528.21 94.11L520.7 84.7L513.19 75.29L505.68 66.24L498.16 57.9L490.65 50.59L483.14 44.59L475.62 40.13L468.11 37.39Z" fill="#585858" stroke="#585858" stroke-width="0.4"/>
<path d="M528.21 97.07L535.73 106.14L543.24 114.48L550.75 121.78L558.26 127.73L565.77 132.13L573.29 134.79L580.8 135.62L588.31 134.61L595.83 131.79L595.83 129.27L588.31 132.01L580.8 132.94L573.29 132.01L565.77 129.27L558.26 124.81L550.75 118.81L543.24 111.5L535.73 103.16L528.21 94.11Z" fill="#515151" stroke="#515151" stroke-width="0.4"/>
<path d="M595.83 131.79L603.34 127.3L610.85 121.32L618.36 114.07L625.88 105.83L633.39 96.9L640.9 87.62L648.41 78.33L655.93 69.37L663.44 61.11L670.95 53.84L678.46 47.85L685.98 43.37L693.49 40.58L701 39.59L701 36.46L693.49 37.39L685.98 40.13L678.46 44.59L670.95 50.59L663.44 57.9L655.93 66.24L648.41 75.29L640.9 84.7L633.39 94.11L625.88 103.16L618.36 111.5L610.85 118.81L603.34 124.81L595.83 129.27Z" fill="#4b4b4b" stroke="#4b4b4b" stroke-width="0.4"/>
<path class="m" d="M460.6 325.9L468.11 307.44L475.62 291.79L483.14 281.33L490.65 277.66L498.16 281.33L505.68 291.79L513.19 307.44L520.7 325.9L528.21 344.36L535.73 360.01L543.24 370.47L550.75 374.14L558.26 370.47L565.77 360.01L573.29 344.36L580.8 325.9L588.31 307.44L595.83 291.79L603.34 281.33L610.85 277.66L618.36 281.33L625.88 291.79L633.39 307.44L640.9 325.9L648.41 344.36L655.93 360.01L663.44 370.47L670.95 374.14L678.46 370.47L685.98 360.01L693.49 344.36L701 325.9M460.6 324.05L468.11 305.67L475.62 290.08L483.14 279.65L490.65 275.98L498.16 279.62L505.68 290.02L513.19 305.58L520.7 323.93L528.21 342.28L535.73 357.83L543.24 368.21L550.75 371.84L558.26 368.17L565.77 357.75L573.29 342.17L580.8 323.79L588.31 305.4L595.83 289.82L603.34 279.41L610.85 275.77L618.36 279.46L625.88 289.91L633.39 305.53L640.9 323.93L648.41 342.33L655.93 357.92L663.44 368.34L670.95 372.01L678.46 368.37L685.98 357.98L693.49 342.42L701 324.05M460.6 322.05L468.11 303.76L475.62 288.24L483.14 277.85L490.65 274.18L498.16 277.79L505.68 288.12L513.19 303.59L520.7 321.83L528.21 340.06L535.73 355.5L543.24 365.79L550.75 369.38L558.26 365.72L565.77 355.35L573.29 339.85L580.8 321.55L588.31 303.26L595.83 287.75L603.34 277.4L610.85 273.79L618.36 277.49L625.88 287.92L633.39 303.49L640.9 321.83L648.41 340.15L655.93 355.68L663.44 366.05L670.95 369.71L678.46 366.11L685.98 355.79L693.49 340.32L701 322.05M460.6 319.85L468.11 301.67L475.62 286.22L483.14 275.88L490.65 272.21L498.16 275.79L505.68 286.05L513.19 301.43L520.7 319.55L528.21 337.65L535.73 352.97L543.24 363.17L550.75 366.72L558.26 363.07L565.77 352.76L573.29 337.35L580.8 319.16L588.31 300.97L595.83 285.54L603.34 275.25L610.85 271.68L618.36 275.38L625.88 285.78L633.39 301.29L640.9 319.55L648.41 337.78L655.93 353.22L663.44 363.54L670.95 367.18L678.46 363.61L685.98 353.37L693.49 338.01L701 319.85M460.6 317.38L468.11 299.31L475.62 283.96L483.14 273.67L490.65 270.02L498.16 273.57L505.68 283.76L513.19 299.02L520.7 317.01L528.21 334.97L535.73 350.16L543.24 360.28L550.75 363.79L558.26 360.16L565.77 349.92L573.29 334.62L580.8 316.56L588.31 298.48L595.83 283.16L603.34 272.94L610.85 269.4L618.36 273.08L625.88 283.43L633.39 298.86L640.9 317.01L648.41 335.13L655.93 350.46L663.44 360.71L670.95 364.34L678.46 360.81L685.98 350.65L693.49 335.4L701 317.38M460.6 314.52L468.11 296.6L475.62 281.37L483.14 271.15L490.65 267.53L498.16 271.05L505.68 281.16L513.19 296.3L520.7 314.14L528.21 331.94L535.73 346.99L543.24 357.01L550.75 360.48L558.26 356.88L565.77 346.74L573.29 331.57L580.8 313.67L588.31 295.75L595.83 280.54L603.34 270.4L610.85 266.88L618.36 270.54L625.88 280.82L633.39 296.13L640.9 314.14L648.41 332.1L655.93 347.3L663.44 357.46L670.95 361.06L678.46 357.56L685.98 347.5L693.49 332.4L701 314.52M460.6 311.14L468.11 293.4L475.62 278.32L483.14 268.2L490.65 264.62L498.16 268.11L505.68 278.13L513.19 293.14L520.7 310.8L528.21 328.42L535.73 343.32L543.24 353.23L550.75 356.67L558.26 353.12L565.77 343.1L573.29 328.11L580.8 310.41L588.31 292.67L595.83 277.62L603.34 267.57L610.85 264.07L618.36 267.68L625.88 277.85L633.39 292.99L640.9 310.8L648.41 328.57L655.93 343.59L663.44 353.62L670.95 357.17L678.46 353.71L685.98 343.77L693.49 328.83L701 311.14M460.6 307.04L468.11 289.53L475.62 274.64L483.14 264.66L490.65 261.14L498.16 264.61L505.68 274.54L513.19 289.39L520.7 306.85L528.21 324.26L535.73 338.97L543.24 348.77L550.75 352.19L558.26 348.71L565.77 338.86L573.29 324.11L580.8 306.66L588.31 289.16L595.83 274.3L603.34 264.36L610.85 260.88L618.36 264.41L625.88 274.4L633.39 289.31L640.9 306.85L648.41 324.34L655.93 339.12L663.44 348.99L670.95 352.46L678.46 349.04L685.98 339.22L693.49 324.49L701 307.04M460.6 301.95L468.11 284.75L475.62 270.13L483.14 260.34L490.65 256.91L498.16 260.38L505.68 270.2L513.19 284.86L520.7 302.09L528.21 319.25L535.73 333.75L543.24 343.42L550.75 346.83L558.26 343.47L565.77 333.85L573.29 319.4L580.8 302.28L588.31 285.1L595.83 270.48L603.34 260.68L610.85 257.2L618.36 260.6L625.88 270.34L633.39 284.93L640.9 302.09L648.41 319.19L655.93 333.64L663.44 343.27L670.95 346.63L678.46 343.24L685.98 333.58L693.49 319.1L701 301.95M460.6 295.57L468.11 278.77L475.62 264.51L483.14 254.98L490.65 251.7L498.16 255.18L505.68 264.89L513.19 279.33L520.7 296.27L528.21 313.14L535.73 327.39L543.24 336.93L550.75 340.34L558.26 337.15L565.77 327.84L573.29 313.8L580.8 297.13L588.31 280.36L595.83 266.05L603.34 256.41L610.85 252.92L618.36 256.12L625.88 265.52L633.39 279.63L640.9 296.27L648.41 312.85L655.93 326.83L663.44 336.12L670.95 339.31L678.46 335.94L685.98 326.48L693.49 312.32L701 295.57M460.6 287.51L468.11 271.26L475.62 257.48L483.14 248.33L490.65 245.26L498.16 248.78L505.68 258.36L513.19 272.53L520.7 289.13L528.21 305.65L535.73 319.62L543.24 329.01L550.75 332.47L558.26 329.52L565.77 320.63L573.29 307.13L580.8 291.03L588.31 274.79L595.83 260.89L603.34 251.45L610.85 247.93L618.36 250.85L625.88 259.76L633.39 273.23L640.9 289.13L648.41 304.98L655.93 318.33L663.44 327.14L670.95 330.09L678.46 326.71L685.98 317.49L693.49 303.74L701 287.51M460.6 277.4L468.11 261.86L475.62 248.73L483.14 240.09L490.65 237.33L498.16 240.93L505.68 250.37L513.19 264.23L520.7 280.42L528.21 296.52L535.73 310.16L543.24 319.4L550.75 322.94L558.26 320.33L565.77 312L573.29 299.2L580.8 283.85L588.31 268.3L595.83 254.9L603.34 245.71L610.85 242.12L618.36 244.67L625.88 252.91L633.39 265.5L640.9 280.42L648.41 295.28L655.93 307.76L663.44 315.92L670.95 318.51L678.46 315.11L685.98 306.17L693.49 292.95L701 277.4M460.6 264.87L468.11 250.26L475.62 237.99L483.14 230.02L490.65 227.68L498.16 231.41L505.68 240.71L513.19 254.21L520.7 269.91L528.21 285.52L535.73 298.78L543.24 307.86L550.75 311.55L558.26 309.39L565.77 301.77L573.29 289.87L580.8 275.47L588.31 260.77L595.83 248.01L603.34 239.12L610.85 235.44L618.36 237.47L625.88 244.84L633.39 256.29L640.9 269.91L648.41 283.47L655.93 294.79L663.44 302.08L670.95 304.18L678.46 300.72L685.98 292.11L693.49 279.55L701 264.87M460.6 249.66L468.11 236.22L475.62 225.05L483.14 217.95L490.65 216.17L498.16 220.1L505.68 229.25L513.19 242.33L520.7 257.46L528.21 272.49L535.73 285.33L543.24 294.26L550.75 298.15L558.26 296.57L565.77 289.86L573.29 279.07L580.8 265.84L588.31 252.19L595.83 240.19L603.34 231.65L610.85 227.83L618.36 229.23L625.88 235.5L633.39 245.49L640.9 257.46L648.41 269.35L655.93 279.19L663.44 285.35L670.95 286.8L678.46 283.22L685.98 275.01L693.49 263.27L701 249.66M460.6 231.65L468.11 219.64L475.62 209.82L483.14 203.81L490.65 202.73L498.16 206.92L505.68 215.93L513.19 228.54L520.7 243.02L528.21 257.39L535.73 269.76L543.24 278.55L550.75 282.72L558.26 281.86L565.77 276.25L573.29 266.8L580.8 254.96L588.31 242.55L595.83 231.45L603.34 223.32L610.85 219.33L618.36 219.94L625.88 224.87L633.39 233.08L640.9 243.02L648.41 252.86L655.93 260.85L663.44 265.6L670.95 266.22L678.46 262.47L685.98 254.71L693.49 243.94L701 231.65M460.6 210.86L468.11 200.56L475.62 192.34L483.14 187.64L490.65 187.41L498.16 191.94L505.68 200.8L513.19 212.89L520.7 226.64L528.21 240.29L535.73 252.14L543.24 260.8L550.75 265.32L558.26 265.33L565.77 261.01L573.29 253.12L580.8 242.9L588.31 231.92L595.83 221.86L603.34 214.19L610.85 209.98L618.36 209.67L625.88 213.01L633.39 219.12L640.9 226.64L648.41 234.03L655.93 239.82L663.44 242.87L670.95 242.49L678.46 238.5L685.98 231.25L693.49 221.61L701 210.86M460.6 187.46L468.11 179.12L475.62 172.77L483.14 169.58L490.65 170.34L498.16 175.28L505.68 184L513.19 195.52L520.7 208.47L528.21 221.33L535.73 232.63L543.24 241.16L550.75 246.12L558.26 247.12L565.77 244.28L573.29 238.16L580.8 229.76L588.31 220.4L595.83 211.49L603.34 204.33L610.85 199.86L618.36 198.5L625.88 200.03L633.39 203.73L640.9 208.47L648.41 213.03L655.93 216.28L663.44 217.36L670.95 215.78L678.46 211.49L685.98 204.81L693.49 196.45L701 187.46M460.6 162.45L468.11 156.13L475.62 151.73L483.14 150.17L490.65 152.05L498.16 157.49L505.68 166.15L513.19 177.16L520.7 189.39L528.21 201.54L535.73 212.38L543.24 220.89L550.75 226.36L558.26 228.42L565.77 227.1L573.29 222.79L580.8 216.26L588.31 208.54L595.83 200.8L603.34 194.15L610.85 189.39L618.36 186.88L625.88 186.47L633.39 187.59L640.9 189.39L648.41 190.97L655.93 191.53L663.44 190.52L670.95 187.66L678.46 182.97L685.98 176.78L693.49 169.66L701 162.45M460.6 140.35L468.11 135.75L475.62 133.02L483.14 132.85L490.65 135.67L498.16 141.55L505.68 150.14L513.19 160.73L520.7 172.34L528.21 183.88L535.73 194.32L543.24 202.81L550.75 208.71L558.26 211.68L565.77 211.66L573.29 208.91L580.8 204L588.31 197.71L595.83 191L603.34 184.79L610.85 179.77L618.36 176.26L625.88 174.17L633.39 173.06L640.9 172.34L648.41 171.37L655.93 169.66L663.44 166.89L670.95 162.94L678.46 157.93L685.98 152.14L693.49 146.07L701 140.35M460.6 121.43L468.11 118.22L475.62 116.85L483.14 117.81L490.65 121.41L498.16 127.64L505.68 136.18L513.19 146.42L520.7 157.51L528.21 168.55L535.73 178.67L543.24 187.13L550.75 193.39L558.26 197.1L565.77 198.15L573.29 196.7L580.8 193.13L588.31 188.04L595.83 182.2L603.34 176.36L610.85 171.13L618.36 166.78L625.88 163.27L633.39 160.32L640.9 157.51L648.41 154.47L655.93 150.91L663.44 146.72L670.95 141.9L678.46 136.62L685.98 131.16L693.49 125.94L701 121.43M460.6 105.7L468.11 103.56L475.62 103.25L483.14 105.11L490.65 109.31L498.16 115.82L505.68 124.32L513.19 134.27L520.7 144.96L528.21 155.6L535.73 165.47L543.24 173.91L550.75 180.45L558.26 184.74L565.77 186.64L573.29 186.21L580.8 183.71L588.31 179.59L595.83 174.46L603.34 168.93L610.85 163.51L618.36 158.48L625.88 153.84L633.39 149.41L640.9 144.96L648.41 140.29L655.93 135.31L663.44 130.01L670.95 124.53L678.46 119.04L685.98 113.85L693.49 109.27L701 105.7M460.6 92.94L468.11 91.6L475.62 92.08L483.14 94.6L490.65 99.27L498.16 105.98L505.68 114.45L513.19 124.19L520.7 134.56L528.21 144.91L535.73 154.58L543.24 163.01L550.75 169.75L558.26 174.47L565.77 177.02L573.29 177.37L580.8 175.7L588.31 172.34L595.83 167.76L603.34 162.47L610.85 156.91L618.36 151.35L625.88 145.82L633.39 140.26L640.9 134.56L648.41 128.68L655.93 122.63L663.44 116.52L670.95 110.54L678.46 104.91L685.98 99.9L693.49 95.81L701 92.94M460.6 82.72L468.11 81.96L475.62 83.01L483.14 86.03L490.65 91.03L498.16 97.9L505.68 106.34L513.19 115.92L520.7 126.06L528.21 136.18L535.73 145.71L543.24 154.12L550.75 161.01L558.26 166.06L565.77 169.08L573.29 170.02L580.8 168.97L588.31 166.18L595.83 162.02L603.34 156.92L610.85 151.25L618.36 145.28L625.88 139.08L633.39 132.68L640.9 126.06L648.41 119.28L655.93 112.46L663.44 105.77L670.95 99.44L678.46 93.71L685.98 88.84L693.49 85.09L701 82.72M460.6 74.53L468.11 74.19L475.62 75.66L483.14 79.02L490.65 84.27L498.16 91.25L505.68 99.67L513.19 109.13L520.7 119.1L528.21 129.06L535.73 138.48L543.24 146.88L550.75 153.88L558.26 159.16L565.77 162.53L573.29 163.89L580.8 163.3L588.31 160.94L595.83 157.1L603.34 152.14L610.85 146.4L618.36 140.11L625.88 133.42L633.39 126.39L640.9 119.1L648.41 111.68L655.93 104.31L663.44 97.21L670.95 90.62L678.46 84.82L685.98 80.05L693.49 76.55L701 74.53M460.6 67.89L468.11 67.85L475.62 69.62L483.14 73.24L490.65 78.66L498.16 85.72L505.68 94.13L513.19 103.49L520.7 113.34L528.21 123.18L535.73 132.52L543.24 140.91L550.75 147.99L558.26 153.43L565.77 157.05L573.29 158.73L580.8 158.48L588.31 156.44L595.83 152.84L603.34 147.99L610.85 142.19L618.36 135.68L625.88 128.61L633.39 121.12L640.9 113.34L648.41 105.46L655.93 97.69L663.44 90.29L670.95 83.53L678.46 77.68L685.98 72.98L693.49 69.65L701 67.89M460.6 62.37L468.11 62.55L475.62 64.54L483.14 68.35L490.65 73.9L498.16 81.02L505.68 89.41L513.19 98.71L520.7 108.47L528.21 118.21L535.73 127.49L543.24 135.88L550.75 143L558.26 148.58L565.77 152.38L573.29 154.3L580.8 154.31L588.31 152.51L595.83 149.09L603.34 144.33L610.85 138.48L618.36 131.79L625.88 124.45L633.39 116.61L640.9 108.47L648.41 100.24L655.93 92.17L663.44 84.56L670.95 77.67L678.46 71.78L685.98 67.14L693.49 63.94L701 62.37M460.6 57.64L468.11 57.99L475.62 60.15L483.14 64.1L490.65 69.75L498.16 76.91L505.68 85.3L513.19 94.55L520.7 104.23L528.21 113.9L535.73 123.13L543.24 131.51L550.75 138.68L558.26 144.35L565.77 148.3L573.29 150.4L580.8 150.61L588.31 149L595.83 145.73L603.34 141.03L610.85 135.15L618.36 128.32L625.88 120.76L633.39 112.66L640.9 104.23L648.41 95.73L655.93 87.45L663.44 79.67L670.95 72.69L678.46 66.77L685.98 62.17L693.49 59.07L701 57.64M460.6 53.47L468.11 53.95L475.62 56.24L483.14 60.31L490.65 66.04L498.16 73.24L505.68 81.62L513.19 90.82L520.7 100.44L528.21 110.06L535.73 119.24L543.24 127.62L550.75 134.82L558.26 140.57L565.77 144.63L573.29 146.88L580.8 147.25L588.31 145.8L595.83 142.64L603.34 138L610.85 132.09L618.36 125.15L625.88 117.41L633.39 109.09L640.9 100.44L648.41 91.73L655.93 83.27L663.44 75.36L670.95 68.3L678.46 62.37L685.98 57.8L693.49 54.78L701 53.47M460.6 49.68L468.11 50.26L475.62 52.67L483.14 56.84L490.65 62.64L498.16 69.86L505.68 78.23L513.19 87.4L520.7 96.97L528.21 106.53L535.73 115.69L543.24 124.05L550.75 131.28L558.26 137.09L565.77 141.26L573.29 143.63L580.8 144.14L588.31 142.81L595.83 139.76L603.34 135.16L610.85 129.23L618.36 122.2L625.88 114.31L633.39 105.81L640.9 96.97L648.41 88.08L655.93 79.48L663.44 71.46L670.95 64.34L678.46 58.38L685.98 53.84L693.49 50.89L701 49.68M460.6 46.15L468.11 46.83L475.62 49.34L483.14 53.59L490.65 59.44L498.16 66.69L505.68 75.05L513.19 84.19L520.7 93.71L528.21 103.24L535.73 112.36L543.24 120.72L550.75 127.97L558.26 133.84L565.77 138.09L573.29 140.56L580.8 141.19L588.31 139.98L595.83 137.01L603.34 132.45L610.85 126.5L618.36 119.39L625.88 111.38L633.39 102.72L640.9 93.71L648.41 84.68L655.93 75.94L663.44 67.84L670.95 60.66L678.46 54.69L685.98 50.17L693.49 47.28L701 46.15M460.6 42.81L468.11 43.58L475.62 46.17L483.14 50.49L490.65 56.4L498.16 63.67L505.68 72.02L513.19 81.13L520.7 90.61L528.21 100.1L535.73 109.19L543.24 117.55L550.75 124.82L558.26 130.73L565.77 135.06L573.29 137.63L580.8 138.37L588.31 137.26L595.83 134.37L603.34 129.84L610.85 123.88L618.36 116.69L625.88 108.56L633.39 99.76L640.9 90.61L648.41 81.44L655.93 72.6L663.44 64.4L670.95 57.18L678.46 51.2L685.98 46.7L693.49 43.86L701 42.81M460.6 39.59L468.11 40.44L475.62 43.11L483.14 47.5L490.65 53.46L498.16 60.75L505.68 69.1L513.19 78.17L520.7 87.62L528.21 97.07L535.73 106.14L543.24 114.48L550.75 121.78L558.26 127.73L565.77 132.13L573.29 134.79L580.8 135.62L588.31 134.61L595.83 131.79L603.34 127.3L610.85 121.32L618.36 114.07L625.88 105.83L633.39 96.9L640.9 87.62L648.41 78.33L655.93 69.37L663.44 61.11L670.95 53.84L678.46 47.85L685.98 43.37L693.49 40.58L701 39.59M460.6 36.46L468.11 37.39L475.62 40.13L483.14 44.59L490.65 50.59L498.16 57.9L505.68 66.24L513.19 75.29L520.7 84.7L528.21 94.11L535.73 103.16L543.24 111.5L550.75 118.81L558.26 124.81L565.77 129.27L573.29 132.01L580.8 132.94L588.31 132.01L595.83 129.27L603.34 124.81L610.85 118.81L618.36 111.5L625.88 103.16L633.39 94.11L640.9 84.7L648.41 75.29L655.93 66.24L663.44 57.9L670.95 50.59L678.46 44.59L685.98 40.13L693.49 37.39L701 36.46M460.6 325.9L460.6 324.05L460.6 322.05L460.6 319.85L460.6 317.38L460.6 314.52L460.6 311.14L460.6 307.04L460.6 301.95L460.6 295.57L460.6 287.51L460.6 277.4L460.6 264.87L460.6 249.66L460.6 231.65L460.6 210.86L460.6 187.46L460.6 162.45L460.6 140.35L460.6 121.43L460.6 105.7L460.6 92.94L460.6 82.72L460.6 74.53L460.6 67.89L460.6 62.37L460.6 57.64L460.6 53.47L460.6 49.68L460.6 46.15L460.6 42.81L460.6 39.59L460.6 36.46M468.11 307.44L468.11 305.67L468.11 303.76L468.11 301.67L468.11 299.31L468.11 296.6L468.11 293.4L468.11 289.53L468.11 284.75L468.11 278.77L468.11 271.26L468.11 261.86L468.11 250.26L468.11 236.22L468.11 219.64L468.11 200.56L468.11 179.12L468.11 156.13L468.11 135.75L468.11 118.22L468.11 103.56L468.11 91.6L468.11 81.96L468.11 74.19L468.11 67.85L468.11 62.55L468.11 57.99L468.11 53.95L468.11 50.26L468.11 46.83L468.11 43.58L468.11 40.44L468.11 37.39M475.62 291.79L475.62 290.08L475.62 288.24L475.62 286.22L475.62 283.96L475.62 281.37L475.62 278.32L475.62 274.64L475.62 270.13L475.62 264.51L475.62 257.48L475.62 248.73L475.62 237.99L475.62 225.05L475.62 209.82L475.62 192.34L475.62 172.77L475.62 151.73L475.62 133.02L475.62 116.85L475.62 103.25L475.62 92.08L475.62 83.01L475.62 75.66L475.62 69.62L475.62 64.54L475.62 60.15L475.62 56.24L475.62 52.67L475.62 49.34L475.62 46.17L475.62 43.11L475.62 40.13M483.14 281.33L483.14 279.65L483.14 277.85L483.14 275.88L483.14 273.67L483.14 271.15L483.14 268.2L483.14 264.66L483.14 260.34L483.14 254.98L483.14 248.33L483.14 240.09L483.14 230.02L483.14 217.95L483.14 203.81L483.14 187.64L483.14 169.58L483.14 150.17L483.14 132.85L483.14 117.81L483.14 105.11L483.14 94.6L483.14 86.03L483.14 79.02L483.14 73.24L483.14 68.35L483.14 64.1L483.14 60.31L483.14 56.84L483.14 53.59L483.14 50.49L483.14 47.5L483.14 44.59M490.65 277.66L490.65 275.98L490.65 274.18L490.65 272.21L490.65 270.02L490.65 267.53L490.65 264.62L490.65 261.14L490.65 256.91L490.65 251.7L490.65 245.26L490.65 237.33L490.65 227.68L490.65 216.17L490.65 202.73L490.65 187.41L490.65 170.34L490.65 152.05L490.65 135.67L490.65 121.41L490.65 109.31L490.65 99.27L490.65 91.03L490.65 84.27L490.65 78.66L490.65 73.9L490.65 69.75L490.65 66.04L490.65 62.64L490.65 59.44L490.65 56.4L490.65 53.46L490.65 50.59M498.16 281.33L498.16 279.62L498.16 277.79L498.16 275.79L498.16 273.57L498.16 271.05L498.16 268.11L498.16 264.61L498.16 260.38L498.16 255.18L498.16 248.78L498.16 240.93L498.16 231.41L498.16 220.1L498.16 206.92L498.16 191.94L498.16 175.28L498.16 157.49L498.16 141.55L498.16 127.64L498.16 115.82L498.16 105.98L498.16 97.9L498.16 91.25L498.16 85.72L498.16 81.02L498.16 76.91L498.16 73.24L498.16 69.86L498.16 66.69L498.16 63.67L498.16 60.75L498.16 57.9M505.68 291.79L505.68 290.02L505.68 288.12L505.68 286.05L505.68 283.76L505.68 281.16L505.68 278.13L505.68 274.54L505.68 270.2L505.68 264.89L505.68 258.36L505.68 250.37L505.68 240.71L505.68 229.25L505.68 215.93L505.68 200.8L505.68 184L505.68 166.15L505.68 150.14L505.68 136.18L505.68 124.32L505.68 114.45L505.68 106.34L505.68 99.67L505.68 94.13L505.68 89.41L505.68 85.3L505.68 81.62L505.68 78.23L505.68 75.05L505.68 72.02L505.68 69.1L505.68 66.24M513.19 307.44L513.19 305.58L513.19 303.59L513.19 301.43L513.19 299.02L513.19 296.3L513.19 293.14L513.19 289.39L513.19 284.86L513.19 279.33L513.19 272.53L513.19 264.23L513.19 254.21L513.19 242.33L513.19 228.54L513.19 212.89L513.19 195.52L513.19 177.16L513.19 160.73L513.19 146.42L513.19 134.27L513.19 124.19L513.19 115.92L513.19 109.13L513.19 103.49L513.19 98.71L513.19 94.55L513.19 90.82L513.19 87.4L513.19 84.19L513.19 81.13L513.19 78.17L513.19 75.29M520.7 325.9L520.7 323.93L520.7 321.83L520.7 319.55L520.7 317.01L520.7 314.14L520.7 310.8L520.7 306.85L520.7 302.09L520.7 296.27L520.7 289.13L520.7 280.42L520.7 269.91L520.7 257.46L520.7 243.02L520.7 226.64L520.7 208.47L520.7 189.39L520.7 172.34L520.7 157.51L520.7 144.96L520.7 134.56L520.7 126.06L520.7 119.1L520.7 113.34L520.7 108.47L520.7 104.23L520.7 100.44L520.7 96.97L520.7 93.71L520.7 90.61L520.7 87.62L520.7 84.7M528.21 344.36L528.21 342.28L528.21 340.06L528.21 337.65L528.21 334.97L528.21 331.94L528.21 328.42L528.21 324.26L528.21 319.25L528.21 313.14L528.21 305.65L528.21 296.52L528.21 285.52L528.21 272.49L528.21 257.39L528.21 240.29L528.21 221.33L528.21 201.54L528.21 183.88L528.21 168.55L528.21 155.6L528.21 144.91L528.21 136.18L528.21 129.06L528.21 123.18L528.21 118.21L528.21 113.9L528.21 110.06L528.21 106.53L528.21 103.24L528.21 100.1L528.21 97.07L528.21 94.11M535.73 360.01L535.73 357.83L535.73 355.5L535.73 352.97L535.73 350.16L535.73 346.99L535.73 343.32L535.73 338.97L535.73 333.75L535.73 327.39L535.73 319.62L535.73 310.16L535.73 298.78L535.73 285.33L535.73 269.76L535.73 252.14L535.73 232.63L535.73 212.38L535.73 194.32L535.73 178.67L535.73 165.47L535.73 154.58L535.73 145.71L535.73 138.48L535.73 132.52L535.73 127.49L535.73 123.13L535.73 119.24L535.73 115.69L535.73 112.36L535.73 109.19L535.73 106.14L535.73 103.16M543.24 370.47L543.24 368.21L543.24 365.79L543.24 363.17L543.24 360.28L543.24 357.01L543.24 353.23L543.24 348.77L543.24 343.42L543.24 336.93L543.24 329.01L543.24 319.4L543.24 307.86L543.24 294.26L543.24 278.55L543.24 260.8L543.24 241.16L543.24 220.89L543.24 202.81L543.24 187.13L543.24 173.91L543.24 163.01L543.24 154.12L543.24 146.88L543.24 140.91L543.24 135.88L543.24 131.51L543.24 127.62L543.24 124.05L543.24 120.72L543.24 117.55L543.24 114.48L543.24 111.5M550.75 374.14L550.75 371.84L550.75 369.38L550.75 366.72L550.75 363.79L550.75 360.48L550.75 356.67L550.75 352.19L550.75 346.83L550.75 340.34L550.75 332.47L550.75 322.94L550.75 311.55L550.75 298.15L550.75 282.72L550.75 265.32L550.75 246.12L550.75 226.36L550.75 208.71L550.75 193.39L550.75 180.45L550.75 169.75L550.75 161.01L550.75 153.88L550.75 147.99L550.75 143L550.75 138.68L550.75 134.82L550.75 131.28L550.75 127.97L550.75 124.82L550.75 121.78L550.75 118.81M558.26 370.47L558.26 368.17L558.26 365.72L558.26 363.07L558.26 360.16L558.26 356.88L558.26 353.12L558.26 348.71L558.26 343.47L558.26 337.15L558.26 329.52L558.26 320.33L558.26 309.39L558.26 296.57L558.26 281.86L558.26 265.33L558.26 247.12L558.26 228.42L558.26 211.68L558.26 197.1L558.26 184.74L558.26 174.47L558.26 166.06L558.26 159.16L558.26 153.43L558.26 148.58L558.26 144.35L558.26 140.57L558.26 137.09L558.26 133.84L558.26 130.73L558.26 127.73L558.26 124.81M565.77 360.01L565.77 357.75L565.77 355.35L565.77 352.76L565.77 349.92L565.77 346.74L565.77 343.1L565.77 338.86L565.77 333.85L565.77 327.84L565.77 320.63L565.77 312L565.77 301.77L565.77 289.86L565.77 276.25L565.77 261.01L565.77 244.28L565.77 227.1L565.77 211.66L565.77 198.15L565.77 186.64L565.77 177.02L565.77 169.08L565.77 162.53L565.77 157.05L565.77 152.38L565.77 148.3L565.77 144.63L565.77 141.26L565.77 138.09L565.77 135.06L565.77 132.13L565.77 129.27M573.29 344.36L573.29 342.17L573.29 339.85L573.29 337.35L573.29 334.62L573.29 331.57L573.29 328.11L573.29 324.11L573.29 319.4L573.29 313.8L573.29 307.13L573.29 299.2L573.29 289.87L573.29 279.07L573.29 266.8L573.29 253.12L573.29 238.16L573.29 222.79L573.29 208.91L573.29 196.7L573.29 186.21L573.29 177.37L573.29 170.02L573.29 163.89L573.29 158.73L573.29 154.3L573.29 150.4L573.29 146.88L573.29 143.63L573.29 140.56L573.29 137.63L573.29 134.79L573.29 132.01M580.8 325.9L580.8 323.79L580.8 321.55L580.8 319.16L580.8 316.56L580.8 313.67L580.8 310.41L580.8 306.66L580.8 302.28L580.8 297.13L580.8 291.03L580.8 283.85L580.8 275.47L580.8 265.84L580.8 254.96L580.8 242.9L580.8 229.76L580.8 216.26L580.8 204L580.8 193.13L580.8 183.71L580.8 175.7L580.8 168.97L580.8 163.3L580.8 158.48L580.8 154.31L580.8 150.61L580.8 147.25L580.8 144.14L580.8 141.19L580.8 138.37L580.8 135.62L580.8 132.94M588.31 307.44L588.31 305.4L588.31 303.26L588.31 300.97L588.31 298.48L588.31 295.75L588.31 292.67L588.31 289.16L588.31 285.1L588.31 280.36L588.31 274.79L588.31 268.3L588.31 260.77L588.31 252.19L588.31 242.55L588.31 231.92L588.31 220.4L588.31 208.54L588.31 197.71L588.31 188.04L588.31 179.59L588.31 172.34L588.31 166.18L588.31 160.94L588.31 156.44L588.31 152.51L588.31 149L588.31 145.8L588.31 142.81L588.31 139.98L588.31 137.26L588.31 134.61L588.31 132.01M595.83 291.79L595.83 289.82L595.83 287.75L595.83 285.54L595.83 283.16L595.83 280.54L595.83 277.62L595.83 274.3L595.83 270.48L595.83 266.05L595.83 260.89L595.83 254.9L595.83 248.01L595.83 240.19L595.83 231.45L595.83 221.86L595.83 211.49L595.83 200.8L595.83 191L595.83 182.2L595.83 174.46L595.83 167.76L595.83 162.02L595.83 157.1L595.83 152.84L595.83 149.09L595.83 145.73L595.83 142.64L595.83 139.76L595.83 137.01L595.83 134.37L595.83 131.79L595.83 129.27M603.34 281.33L603.34 279.41L603.34 277.4L603.34 275.25L603.34 272.94L603.34 270.4L603.34 267.57L603.34 264.36L603.34 260.68L603.34 256.41L603.34 251.45L603.34 245.71L603.34 239.12L603.34 231.65L603.34 223.32L603.34 214.19L603.34 204.33L603.34 194.15L603.34 184.79L603.34 176.36L603.34 168.93L603.34 162.47L603.34 156.92L603.34 152.14L603.34 147.99L603.34 144.33L603.34 141.03L603.34 138L603.34 135.16L603.34 132.45L603.34 129.84L603.34 127.3L603.34 124.81M610.85 277.66L610.85 275.77L610.85 273.79L610.85 271.68L610.85 269.4L610.85 266.88L610.85 264.07L610.85 260.88L610.85 257.2L610.85 252.92L610.85 247.93L610.85 242.12L610.85 235.44L610.85 227.83L610.85 219.33L610.85 209.98L610.85 199.86L610.85 189.39L610.85 179.77L610.85 171.13L610.85 163.51L610.85 156.91L610.85 151.25L610.85 146.4L610.85 142.19L610.85 138.48L610.85 135.15L610.85 132.09L610.85 129.23L610.85 126.5L610.85 123.88L610.85 121.32L610.85 118.81M618.36 281.33L618.36 279.46L618.36 277.49L618.36 275.38L618.36 273.08L618.36 270.54L618.36 267.68L618.36 264.41L618.36 260.6L618.36 256.12L618.36 250.85L618.36 244.67L618.36 237.47L618.36 229.23L618.36 219.94L618.36 209.67L618.36 198.5L618.36 186.88L618.36 176.26L618.36 166.78L618.36 158.48L618.36 151.35L618.36 145.28L618.36 140.11L618.36 135.68L618.36 131.79L618.36 128.32L618.36 125.15L618.36 122.2L618.36 119.39L618.36 116.69L618.36 114.07L618.36 111.5M625.88 291.79L625.88 289.91L625.88 287.92L625.88 285.78L625.88 283.43L625.88 280.82L625.88 277.85L625.88 274.4L625.88 270.34L625.88 265.52L625.88 259.76L625.88 252.91L625.88 244.84L625.88 235.5L625.88 224.87L625.88 213.01L625.88 200.03L625.88 186.47L625.88 174.17L625.88 163.27L625.88 153.84L625.88 145.82L625.88 139.08L625.88 133.42L625.88 128.61L625.88 124.45L625.88 120.76L625.88 117.41L625.88 114.31L625.88 111.38L625.88 108.56L625.88 105.83L625.88 103.16M633.39 307.44L633.39 305.53L633.39 303.49L633.39 301.29L633.39 298.86L633.39 296.13L633.39 292.99L633.39 289.31L633.39 284.93L633.39 279.63L633.39 273.23L633.39 265.5L633.39 256.29L633.39 245.49L633.39 233.08L633.39 219.12L633.39 203.73L633.39 187.59L633.39 173.06L633.39 160.32L633.39 149.41L633.39 140.26L633.39 132.68L633.39 126.39L633.39 121.12L633.39 116.61L633.39 112.66L633.39 109.09L633.39 105.81L633.39 102.72L633.39 99.76L633.39 96.9L633.39 94.11M640.9 325.9L640.9 323.93L640.9 321.83L640.9 319.55L640.9 317.01L640.9 314.14L640.9 310.8L640.9 306.85L640.9 302.09L640.9 296.27L640.9 289.13L640.9 280.42L640.9 269.91L640.9 257.46L640.9 243.02L640.9 226.64L640.9 208.47L640.9 189.39L640.9 172.34L640.9 157.51L640.9 144.96L640.9 134.56L640.9 126.06L640.9 119.1L640.9 113.34L640.9 108.47L640.9 104.23L640.9 100.44L640.9 96.97L640.9 93.71L640.9 90.61L640.9 87.62L640.9 84.7M648.41 344.36L648.41 342.33L648.41 340.15L648.41 337.78L648.41 335.13L648.41 332.1L648.41 328.57L648.41 324.34L648.41 319.19L648.41 312.85L648.41 304.98L648.41 295.28L648.41 283.47L648.41 269.35L648.41 252.86L648.41 234.03L648.41 213.03L648.41 190.97L648.41 171.37L648.41 154.47L648.41 140.29L648.41 128.68L648.41 119.28L648.41 111.68L648.41 105.46L648.41 100.24L648.41 95.73L648.41 91.73L648.41 88.08L648.41 84.68L648.41 81.44L648.41 78.33L648.41 75.29M655.93 360.01L655.93 357.92L655.93 355.68L655.93 353.22L655.93 350.46L655.93 347.3L655.93 343.59L655.93 339.12L655.93 333.64L655.93 326.83L655.93 318.33L655.93 307.76L655.93 294.79L655.93 279.19L655.93 260.85L655.93 239.82L655.93 216.28L655.93 191.53L655.93 169.66L655.93 150.91L655.93 135.31L655.93 122.63L655.93 112.46L655.93 104.31L655.93 97.69L655.93 92.17L655.93 87.45L655.93 83.27L655.93 79.48L655.93 75.94L655.93 72.6L655.93 69.37L655.93 66.24M663.44 370.47L663.44 368.34L663.44 366.05L663.44 363.54L663.44 360.71L663.44 357.46L663.44 353.62L663.44 348.99L663.44 343.27L663.44 336.12L663.44 327.14L663.44 315.92L663.44 302.08L663.44 285.35L663.44 265.6L663.44 242.87L663.44 217.36L663.44 190.52L663.44 166.89L663.44 146.72L663.44 130.01L663.44 116.52L663.44 105.77L663.44 97.21L663.44 90.29L663.44 84.56L663.44 79.67L663.44 75.36L663.44 71.46L663.44 67.84L663.44 64.4L663.44 61.11L663.44 57.9M670.95 374.14L670.95 372.01L670.95 369.71L670.95 367.18L670.95 364.34L670.95 361.06L670.95 357.17L670.95 352.46L670.95 346.63L670.95 339.31L670.95 330.09L670.95 318.51L670.95 304.18L670.95 286.8L670.95 266.22L670.95 242.49L670.95 215.78L670.95 187.66L670.95 162.94L670.95 141.9L670.95 124.53L670.95 110.54L670.95 99.44L670.95 90.62L670.95 83.53L670.95 77.67L670.95 72.69L670.95 68.3L670.95 64.34L670.95 60.66L670.95 57.18L670.95 53.84L670.95 50.59M678.46 370.47L678.46 368.37L678.46 366.11L678.46 363.61L678.46 360.81L678.46 357.56L678.46 353.71L678.46 349.04L678.46 343.24L678.46 335.94L678.46 326.71L678.46 315.11L678.46 300.72L678.46 283.22L678.46 262.47L678.46 238.5L678.46 211.49L678.46 182.97L678.46 157.93L678.46 136.62L678.46 119.04L678.46 104.91L678.46 93.71L678.46 84.82L678.46 77.68L678.46 71.78L678.46 66.77L678.46 62.37L678.46 58.38L678.46 54.69L678.46 51.2L678.46 47.85L678.46 44.59M685.98 360.01L685.98 357.98L685.98 355.79L685.98 353.37L685.98 350.65L685.98 347.5L685.98 343.77L685.98 339.22L685.98 333.58L685.98 326.48L685.98 317.49L685.98 306.17L685.98 292.11L685.98 275.01L685.98 254.71L685.98 231.25L685.98 204.81L685.98 176.78L685.98 152.14L685.98 131.16L685.98 113.85L685.98 99.9L685.98 88.84L685.98 80.05L685.98 72.98L685.98 67.14L685.98 62.17L685.98 57.8L685.98 53.84L685.98 50.17L685.98 46.7L685.98 43.37L685.98 40.13M693.49 344.36L693.49 342.42L693.49 340.32L693.49 338.01L693.49 335.4L693.49 332.4L693.49 328.83L693.49 324.49L693.49 319.1L693.49 312.32L693.49 303.74L693.49 292.95L693.49 279.55L693.49 263.27L693.49 243.94L693.49 221.61L693.49 196.45L693.49 169.66L693.49 146.07L693.49 125.94L693.49 109.27L693.49 95.81L693.49 85.09L693.49 76.55L693.49 69.65L693.49 63.94L693.49 59.07L693.49 54.78L693.49 50.89L693.49 47.28L693.49 43.86L693.49 40.58L693.49 37.39M701 325.9L701 324.05L701 322.05L701 319.85L701 317.38L701 314.52L701 311.14L701 307.04L701 301.95L701 295.57L701 287.51L701 277.4L701 264.87L701 249.66L701 231.65L701 210.86L701 187.46L701 162.45L701 140.35L701 121.43L701 105.7L701 92.94L701 82.72L701 74.53L701 67.89L701 62.37L701 57.64L701 53.47L701 49.68L701 46.15L701 42.81L701 39.59L701 36.46"/>
<rect x="334.6" y="373.65" width="16.7" height="6.05" fill="#2a2a2a"/>
<rect x="334.6" y="368.2" width="16.7" height="6.05" fill="#2d2d2d"/>
<rect x="334.6" y="362.75" width="16.7" height="6.05" fill="#303030"/>
<rect x="334.6" y="357.29" width="16.7" height="6.05" fill="#323232"/>
<rect x="334.6" y="351.84" width="16.7" height="6.05" fill="#353535"/>
<rect x="334.6" y="346.39" width="16.7" height="6.05" fill="#393939"/>
<rect x="334.6" y="340.94" width="16.7" height="6.05" fill="#3d3d3d"/>
<rect x="334.6" y="335.49" width="16.7" height="6.05" fill="#414141"/>
<rect x="334.6" y="330.04" width="16.7" height="6.05" fill="#474747"/>
<rect x="334.6" y="324.58" width="16.7" height="6.05" fill="#4d4d4d"/>
<rect x="334.6" y="319.13" width="16.7" height="6.05" fill="#545454"/>
<rect x="334.6" y="313.68" width="16.7" height="6.05" fill="#5c5c5c"/>
<rect x="334.6" y="308.23" width="16.7" height="6.05" fill="#656565"/>
<rect x="334.6" y="302.78" width="16.7" height="6.05" fill="#6e6e6e"/>
<rect x="334.6" y="297.33" width="16.7" height="6.05" fill="#777777"/>
<rect x="334.6" y="291.87" width="16.7" height="6.05" fill="#828282"/>
<rect x="334.6" y="286.42" width="16.7" height="6.05" fill="#8e8e8e"/>
<rect x="334.6" y="280.97" width="16.7" height="6.05" fill="#9b9b9b"/>
<rect x="334.6" y="275.52" width="16.7" height="6.05" fill="#a7a7a7"/>
<rect x="334.6" y="270.07" width="16.7" height="6.05" fill="#b3b3b3"/>
<rect x="334.6" y="264.62" width="16.7" height="6.05" fill="#bebebe"/>
<rect x="334.6" y="259.17" width="16.7" height="6.05" fill="#c6c6c6"/>
<rect x="334.6" y="253.71" width="16.7" height="6.05" fill="#d0d0d0"/>
<rect x="334.6" y="248.26" width="16.7" height="6.05" fill="#e0e0e0"/>
<rect x="334.6" y="242.81" width="16.7" height="6.05" fill="#e1e1e1"/>
<rect x="334.6" y="237.36" width="16.7" height="6.05" fill="#e1e1e1"/>
<rect x="334.6" y="231.91" width="16.7" height="6.05" fill="#e2e2e2"/>
<rect x="334.6" y="226.46" width="16.7" height="6.05" fill="#e2e2e2"/>
<rect x="334.6" y="221" width="16.7" height="6.05" fill="#e2e2e2"/>
<rect x="334.6" y="215.55" width="16.7" height="6.05" fill="#e3e3e3"/>
<rect x="334.6" y="210.1" width="16.7" height="6.05" fill="#e3e3e3"/>
<rect x="334.6" y="204.65" width="16.7" height="6.05" fill="#e4e4e4"/>
<rect x="334.6" y="199.2" width="16.7" height="6.05" fill="#e5e5e5"/>
<rect x="334.6" y="193.75" width="16.7" height="6.05" fill="#e7e7e7"/>
<rect x="334.6" y="188.3" width="16.7" height="6.05" fill="#e9e9e9"/>
<rect x="334.6" y="182.84" width="16.7" height="6.05" fill="#ebebeb"/>
<rect x="334.6" y="177.39" width="16.7" height="6.05" fill="#eeeeee"/>
<rect x="334.6" y="171.94" width="16.7" height="6.05" fill="#f0f0f0"/>
<rect x="334.6" y="166.49" width="16.7" height="6.05" fill="#f2f2f2"/>
<rect x="334.6" y="161.04" width="16.7" height="6.05" fill="#f4f4f4"/>
<rect x="334.6" y="155.59" width="16.7" height="6.05" fill="#f0f0f0"/>
<rect x="334.6" y="150.13" width="16.7" height="6.05" fill="#e3e3e3"/>
<rect x="334.6" y="144.68" width="16.7" height="6.05" fill="#d6d6d6"/>
<rect x="334.6" y="139.23" width="16.7" height="6.05" fill="#cccccc"/>
<rect x="334.6" y="133.78" width="16.7" height="6.05" fill="#c1c1c1"/>
<rect x="334.6" y="128.33" width="16.7" height="6.05" fill="#b5b5b5"/>
<rect x="334.6" y="122.88" width="16.7" height="6.05" fill="#adadad"/>
<rect x="334.6" y="117.42" width="16.7" height="6.05" fill="#a4a4a4"/>
<rect x="334.6" y="111.97" width="16.7" height="6.05" fill="#9d9d9d"/>
<rect x="334.6" y="106.52" width="16.7" height="6.05" fill="#979797"/>
<rect x="334.6" y="101.07" width="16.7" height="6.05" fill="#919191"/>
<rect x="334.6" y="95.62" width="16.7" height="6.05" fill="#8b8b8b"/>
<rect x="334.6" y="90.17" width="16.7" height="6.05" fill="#868686"/>
<rect x="334.6" y="84.72" width="16.7" height="6.05" fill="#818181"/>
<rect x="334.6" y="79.26" width="16.7" height="6.05" fill="#7c7c7c"/>
<rect x="334.6" y="73.81" width="16.7" height="6.05" fill="#777777"/>
<rect x="334.6" y="68.36" width="16.7" height="6.05" fill="#737373"/>
<rect x="334.6" y="62.91" width="16.7" height="6.05" fill="#6e6e6e"/>
<rect x="334.6" y="57.46" width="16.7" height="6.05" fill="#696969"/>
<rect x="334.6" y="52.01" width="16.7" height="6.05" fill="#646464"/>
<rect x="334.6" y="46.55" width="16.7" height="6.05" fill="#5e5e5e"/>
<rect x="334.6" y="41.1" width="16.7" height="6.05" fill="#585858"/>
<rect x="334.6" y="35.65" width="16.7" height="6.05" fill="#515151"/>
<rect x="334.6" y="30.2" width="16.7" height="6.05" fill="#4b4b4b"/>
<rect x="334.6" y="30.5" width="16.7" height="348.9" fill="none" stroke="#000" stroke-width="1.2"/>
<path class="tk" d="M334.6 292.17h3.5M351.3 292.17h-3.5M334.6 204.95h3.5M351.3 204.95h-3.5M334.6 117.73h3.5M351.3 117.73h-3.5"/>
<text transform="translate(360.5 36.7) scale(0.97 1)" text-anchor="start">1</text>
<text transform="translate(360.5 123.93) scale(0.97 1)" text-anchor="start">0.75</text>
<text transform="translate(360.5 211.15) scale(0.97 1)" text-anchor="start">0.5</text>
<text transform="translate(360.5 298.37) scale(0.97 1)" text-anchor="start">0.25</text>
<text transform="translate(360.5 385.6) scale(0.97 1)" text-anchor="start">0</text>
<rect x="706.8" y="373.65" width="16.3" height="6.05" fill="#2a2a2a"/>
<rect x="706.8" y="368.2" width="16.3" height="6.05" fill="#2d2d2d"/>
<rect x="706.8" y="362.75" width="16.3" height="6.05" fill="#303030"/>
<rect x="706.8" y="357.29" width="16.3" height="6.05" fill="#323232"/>
<rect x="706.8" y="351.84" width="16.3" height="6.05" fill="#353535"/>
<rect x="706.8" y="346.39" width="16.3" height="6.05" fill="#393939"/>
<rect x="706.8" y="340.94" width="16.3" height="6.05" fill="#3d3d3d"/>
<rect x="706.8" y="335.49" width="16.3" height="6.05" fill="#414141"/>
<rect x="706.8" y="330.04" width="16.3" height="6.05" fill="#474747"/>
<rect x="706.8" y="324.58" width="16.3" height="6.05" fill="#4d4d4d"/>
<rect x="706.8" y="319.13" width="16.3" height="6.05" fill="#545454"/>
<rect x="706.8" y="313.68" width="16.3" height="6.05" fill="#5c5c5c"/>
<rect x="706.8" y="308.23" width="16.3" height="6.05" fill="#656565"/>
<rect x="706.8" y="302.78" width="16.3" height="6.05" fill="#6e6e6e"/>
<rect x="706.8" y="297.33" width="16.3" height="6.05" fill="#777777"/>
<rect x="706.8" y="291.87" width="16.3" height="6.05" fill="#828282"/>
<rect x="706.8" y="286.42" width="16.3" height="6.05" fill="#8e8e8e"/>
<rect x="706.8" y="280.97" width="16.3" height="6.05" fill="#9b9b9b"/>
<rect x="706.8" y="275.52" width="16.3" height="6.05" fill="#a7a7a7"/>
<rect x="706.8" y="270.07" width="16.3" height="6.05" fill="#b3b3b3"/>
<rect x="706.8" y="264.62" width="16.3" height="6.05" fill="#bebebe"/>
<rect x="706.8" y="259.17" width="16.3" height="6.05" fill="#c6c6c6"/>
<rect x="706.8" y="253.71" width="16.3" height="6.05" fill="#d0d0d0"/>
<rect x="706.8" y="248.26" width="16.3" height="6.05" fill="#e0e0e0"/>
<rect x="706.8" y="242.81" width="16.3" height="6.05" fill="#e1e1e1"/>
<rect x="706.8" y="237.36" width="16.3" height="6.05" fill="#e1e1e1"/>
<rect x="706.8" y="231.91" width="16.3" height="6.05" fill="#e2e2e2"/>
<rect x="706.8" y="226.46" width="16.3" height="6.05" fill="#e2e2e2"/>
<rect x="706.8" y="221" width="16.3" height="6.05" fill="#e2e2e2"/>
<rect x="706.8" y="215.55" width="16.3" height="6.05" fill="#e3e3e3"/>
<rect x="706.8" y="210.1" width="16.3" height="6.05" fill="#e3e3e3"/>
<rect x="706.8" y="204.65" width="16.3" height="6.05" fill="#e4e4e4"/>
<rect x="706.8" y="199.2" width="16.3" height="6.05" fill="#e5e5e5"/>
<rect x="706.8" y="193.75" width="16.3" height="6.05" fill="#e7e7e7"/>
<rect x="706.8" y="188.3" width="16.3" height="6.05" fill="#e9e9e9"/>
<rect x="706.8" y="182.84" width="16.3" height="6.05" fill="#ebebeb"/>
<rect x="706.8" y="177.39" width="16.3" height="6.05" fill="#eeeeee"/>
<rect x="706.8" y="171.94" width="16.3" height="6.05" fill="#f0f0f0"/>
<rect x="706.8" y="166.49" width="16.3" height="6.05" fill="#f2f2f2"/>
<rect x="706.8" y="161.04" width="16.3" height="6.05" fill="#f4f4f4"/>
<rect x="706.8" y="155.59" width="16.3" height="6.05" fill="#f0f0f0"/>
<rect x="706.8" y="150.13" width="16.3" height="6.05" fill="#e3e3e3"/>
<rect x="706.8" y="144.68" width="16.3" height="6.05" fill="#d6d6d6"/>
<rect x="706.8" y="139.23" width="16.3" height="6.05" fill="#cccccc"/>
<rect x="706.8" y="133.78" width="16.3" height="6.05" fill="#c1c1c1"/>
<rect x="706.8" y="128.33" width="16.3" height="6.05" fill="#b5b5b5"/>
<rect x="706.8" y="122.88" width="16.3" height="6.05" fill="#adadad"/>
<rect x="706.8" y="117.42" width="16.3" height="6.05" fill="#a4a4a4"/>
<rect x="706.8" y="111.97" width="16.3" height="6.05" fill="#9d9d9d"/>
<rect x="706.8" y="106.52" width="16.3" height="6.05" fill="#979797"/>
<rect x="706.8" y="101.07" width="16.3" height="6.05" fill="#919191"/>
<rect x="706.8" y="95.62" width="16.3" height="6.05" fill="#8b8b8b"/>
<rect x="706.8" y="90.17" width="16.3" height="6.05" fill="#868686"/>
<rect x="706.8" y="84.72" width="16.3" height="6.05" fill="#818181"/>
<rect x="706.8" y="79.26" width="16.3" height="6.05" fill="#7c7c7c"/>
<rect x="706.8" y="73.81" width="16.3" height="6.05" fill="#777777"/>
<rect x="706.8" y="68.36" width="16.3" height="6.05" fill="#737373"/>
<rect x="706.8" y="62.91" width="16.3" height="6.05" fill="#6e6e6e"/>
<rect x="706.8" y="57.46" width="16.3" height="6.05" fill="#696969"/>
<rect x="706.8" y="52.01" width="16.3" height="6.05" fill="#646464"/>
<rect x="706.8" y="46.55" width="16.3" height="6.05" fill="#5e5e5e"/>
<rect x="706.8" y="41.1" width="16.3" height="6.05" fill="#585858"/>
<rect x="706.8" y="35.65" width="16.3" height="6.05" fill="#515151"/>
<rect x="706.8" y="30.2" width="16.3" height="6.05" fill="#4b4b4b"/>
<rect x="706.8" y="30.5" width="16.3" height="348.9" fill="none" stroke="#000" stroke-width="1.2"/>
<path class="tk" d="M706.8 292.17h3.5M723.1 292.17h-3.5M706.8 204.95h3.5M723.1 204.95h-3.5M706.8 117.73h3.5M723.1 117.73h-3.5"/>
<text transform="translate(732.3 36.7) scale(0.97 1)" text-anchor="start">1</text>
<text transform="translate(732.3 123.93) scale(0.97 1)" text-anchor="start">0.75</text>
<text transform="translate(732.3 211.15) scale(0.97 1)" text-anchor="start">0.5</text>
<text transform="translate(732.3 298.37) scale(0.97 1)" text-anchor="start">0.25</text>
<text transform="translate(732.3 385.6) scale(0.97 1)" text-anchor="start">0</text>
<text transform="translate(47 385.7) scale(0.97 1)" text-anchor="end">0</text>
<text transform="translate(47 317.2) scale(0.97 1)" text-anchor="end">0.25</text>
<text transform="translate(47 248.7) scale(0.97 1)" text-anchor="end">0.5</text>
<text transform="translate(47 180.2) scale(0.97 1)" text-anchor="end">0.75</text>
<text transform="translate(47 111.7) scale(0.97 1)" text-anchor="end">1</text>
<text transform="translate(47 43.2) scale(0.97 1)" text-anchor="end">1.25</text>
<text transform="translate(55.7 401.2) scale(0.97 1)" text-anchor="middle">0</text>
<text transform="translate(124.38 401.2) scale(0.97 1)" text-anchor="middle">0.25</text>
<text transform="translate(193.05 401.2) scale(0.97 1)" text-anchor="middle">0.5</text>
<text transform="translate(261.72 401.2) scale(0.97 1)" text-anchor="middle">0.75</text>
<text transform="translate(330.4 401.2) scale(0.97 1)" text-anchor="middle">1</text>
<text transform="translate(452.3 332.1) scale(0.97 1)" text-anchor="end">0</text>
<text transform="translate(452.3 271.8) scale(0.97 1)" text-anchor="end">0.25</text>
<text transform="translate(452.3 211.5) scale(0.97 1)" text-anchor="end">0.5</text>
<text transform="translate(452.3 151.2) scale(0.97 1)" text-anchor="end">0.75</text>
<text transform="translate(452.3 90.9) scale(0.97 1)" text-anchor="end">1</text>
<text transform="translate(460.6 401.2) scale(0.97 1)" text-anchor="middle">0</text>
<text transform="translate(520.7 401.2) scale(0.97 1)" text-anchor="middle">0.25</text>
<text transform="translate(580.8 401.2) scale(0.97 1)" text-anchor="middle">0.5</text>
<text transform="translate(640.9 401.2) scale(0.97 1)" text-anchor="middle">0.75</text>
<text transform="translate(701 401.2) scale(0.97 1)" text-anchor="middle">1</text>
<text class="lbl" x="0" y="19.5">(a)</text>
<text class="lbl" x="412.5" y="19.5">(b)</text>
</svg>
</body></html>
